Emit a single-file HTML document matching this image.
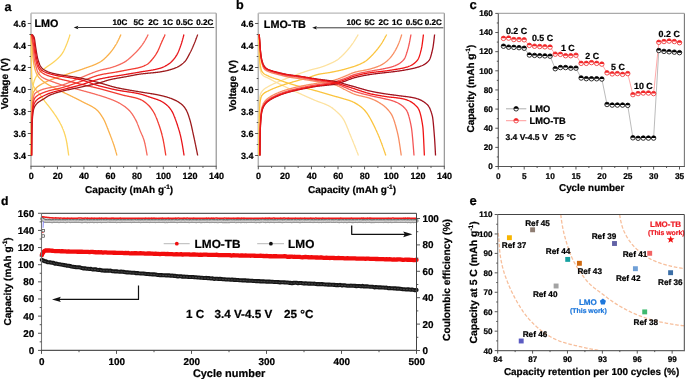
<!DOCTYPE html>
<html><head><meta charset="utf-8"><style>
html,body{margin:0;padding:0;background:#fff;}
svg{display:block;will-change:transform;}
text{font-family:"Liberation Sans", sans-serif;text-rendering:geometricPrecision;}
</style></head><body>
<svg width="685" height="379" viewBox="0 0 685 379" font-family='"Liberation Sans", sans-serif'>
<rect width="685" height="379" fill="#fff"/>
<line x1="31" y1="13.2" x2="216.2" y2="13.2" stroke="#b8b8b8" stroke-width="1.2"/>
<line x1="216.2" y1="13.2" x2="216.2" y2="166.3" stroke="#8a8a8a" stroke-width="1.1"/>
<line x1="31" y1="13.2" x2="31" y2="166.3" stroke="#b4b4b4" stroke-width="1.5"/>
<line x1="30.4" y1="166.3" x2="216.7" y2="166.3" stroke="#555" stroke-width="1.1"/>
<path d="M31.13,155.5 L31.18,146.31 L31.23,137.07 L31.26,131.91 L31.28,128.54 L31.33,121.49 L31.38,116.7 L31.39,116.14 L31.43,114.06 L31.48,111.72 L31.52,110.03 L31.53,109.54 L31.58,107.52 L31.63,105.66 L31.65,105.04 L31.68,103.95 L31.74,102.38 L31.78,101.01 L31.79,100.94 L31.84,99.62 L31.89,98.42 L31.91,97.82 L31.94,97.33 L31.99,96.34 L32.04,95.44 L32.04,95.33 L32.09,94.62 L32.14,93.89 L32.17,93.4 L32.19,93.22 L32.24,92.61 L32.29,92.06 L32.3,91.9 L32.34,91.55 L32.39,91.06 L32.43,90.64 L32.44,90.59 L32.49,90.14 L32.54,89.69 L32.56,89.48 L32.59,89.26 L32.64,88.85 L32.69,88.45 L32.69,88.42 L32.74,88.06 L32.79,87.68 L32.82,87.44 L32.84,87.32 L32.89,86.97 L32.94,86.63 L32.95,86.54 L32.99,86.3 L33.04,85.98 L33.08,85.72 L33.09,85.68 L33.14,85.38 L33.19,85.09 L33.21,84.98 L33.24,84.82 L33.29,84.55 L33.34,84.29 L33.34,84.29 L33.39,84.05 L33.44,83.81 L33.47,83.67 L33.49,83.58 L33.54,83.35 L33.59,83.14 L33.6,83.09 L33.64,82.93 L33.69,82.72 L33.73,82.57 L33.74,82.53 L33.79,82.34 L33.84,82.16 L33.86,82.09 L33.9,81.98 L33.95,81.81 L33.99,81.65 L34,81.64 L34.05,81.48 L34.1,81.32 L34.12,81.24 L34.15,81.17 L34.2,81.02 L34.25,80.87 L34.25,80.85 L34.3,80.73 L34.35,80.59 L34.38,80.49 L34.4,80.45 L34.45,80.31 L34.5,80.18 L34.51,80.13 L34.55,80.04 L34.6,79.91 L34.64,79.8 L34.65,79.78 L34.7,79.66 L34.75,79.53 L34.77,79.47 L34.8,79.41 L34.85,79.29 L34.9,79.17 L34.9,79.16 L34.95,79.05 L35,78.93 L35.03,78.85 L35.05,78.82 L35.1,78.7 L35.16,78.56 L35.29,78.28 L35.42,78.01 L35.55,77.75 L35.68,77.5 L35.81,77.26 L35.95,77.03 L36.08,76.81 L36.21,76.59 L36.34,76.38 L36.47,76.18 L36.6,75.98 L36.73,75.79 L36.86,75.61 L36.99,75.43 L37.12,75.25 L37.25,75.08 L37.38,74.92 L37.51,74.75 L37.64,74.59 L37.77,74.44 L37.9,74.28 L38.03,74.13 L38.16,73.98 L38.29,73.82 L38.42,73.68 L38.55,73.53 L38.68,73.39 L38.81,73.25 L38.94,73.11 L39.07,72.98 L39.2,72.85 L39.33,72.72 L39.46,72.59 L39.59,72.47 L39.72,72.34 L39.85,72.22 L39.98,72.1 L40.11,71.99 L40.24,71.87 L40.37,71.76 L40.5,71.65 L40.63,71.54 L40.76,71.43 L40.89,71.32 L41.02,71.22 L41.15,71.11 L41.28,71.01 L41.41,70.91 L41.54,70.81 L41.67,70.71 L41.8,70.61 L41.93,70.51 L42.06,70.41 L42.19,70.32 L42.32,70.22 L42.45,70.13 L42.58,70.03 L42.71,69.94 L42.84,69.84 L42.97,69.75 L43.1,69.66 L43.23,69.56 L43.36,69.47 L43.49,69.38 L43.62,69.28 L43.75,69.19 L43.88,69.1 L44.01,69 L44.14,68.91 L44.27,68.81 L44.4,68.72 L44.53,68.62 L44.66,68.53 L44.79,68.43 L44.92,68.33 L45.05,68.23 L45.18,68.13 L45.31,68.03 L45.44,67.93 L45.57,67.83 L45.7,67.73 L45.83,67.63 L45.96,67.54 L46.09,67.44 L46.22,67.34 L46.35,67.25 L46.48,67.15 L46.61,67.06 L46.74,66.96 L46.87,66.87 L47,66.78 L47.13,66.68 L47.26,66.59 L47.39,66.5 L47.52,66.41 L47.65,66.32 L47.78,66.23 L47.91,66.14 L48.04,66.05 L48.17,65.96 L48.3,65.87 L48.43,65.78 L48.56,65.69 L48.69,65.6 L48.82,65.51 L48.95,65.42 L49.08,65.33 L49.21,65.25 L49.34,65.16 L49.47,65.07 L49.6,64.98 L49.73,64.89 L49.86,64.8 L49.99,64.71 L50.12,64.63 L50.25,64.54 L50.38,64.45 L50.51,64.36 L50.64,64.27 L50.77,64.18 L50.9,64.09 L51.03,64 L51.16,63.91 L51.29,63.82 L51.42,63.72 L51.55,63.63 L51.68,63.54 L51.81,63.45 L51.94,63.35 L52.07,63.26 L52.2,63.17 L52.33,63.07 L52.46,62.98 L52.59,62.88 L52.72,62.78 L52.85,62.68 L52.98,62.59 L53.11,62.49 L53.24,62.39 L53.37,62.29 L53.5,62.19 L53.64,62.08 L53.77,61.98 L53.9,61.88 L54.03,61.77 L54.16,61.67 L54.29,61.56 L54.42,61.45 L54.55,61.35 L54.68,61.24 L54.81,61.12 L54.94,61.01 L55.07,60.9 L55.2,60.79 L55.33,60.68 L55.46,60.57 L55.59,60.46 L55.72,60.35 L55.85,60.24 L55.98,60.13 L56.11,60.02 L56.24,59.9 L56.37,59.79 L56.5,59.68 L56.63,59.57 L56.76,59.45 L56.89,59.34 L57.02,59.22 L57.15,59.11 L57.28,58.99 L57.41,58.88 L57.54,58.76 L57.67,58.64 L57.8,58.52 L57.93,58.4 L58.06,58.28 L58.19,58.16 L58.32,58.03 L58.45,57.91 L58.58,57.78 L58.71,57.65 L58.84,57.52 L58.97,57.39 L59.1,57.26 L59.23,57.13 L59.36,56.99 L59.44,56.9 L59.49,56.85 L59.58,56.76 L59.62,56.71 L59.71,56.62 L59.75,56.57 L59.84,56.47 L59.88,56.43 L59.98,56.32 L60.01,56.29 L60.11,56.17 L60.14,56.14 L60.25,56.02 L60.27,55.99 L60.38,55.86 L60.4,55.84 L60.51,55.71 L60.53,55.69 L60.65,55.55 L60.66,55.53 L60.78,55.39 L60.79,55.38 L60.91,55.22 L60.92,55.22 L61.05,55.06 L61.05,55.06 L61.18,54.89 L61.18,54.89 L61.31,54.72 L61.32,54.71 L61.44,54.56 L61.45,54.54 L61.57,54.38 L61.58,54.36 L61.7,54.21 L61.72,54.18 L61.83,54.03 L61.85,54 L61.96,53.85 L61.99,53.82 L62.09,53.67 L62.12,53.62 L62.22,53.48 L62.25,53.43 L62.35,53.28 L62.39,53.22 L62.48,53.08 L62.52,53.01 L62.61,52.87 L62.66,52.79 L62.74,52.65 L62.79,52.56 L62.87,52.43 L62.92,52.33 L63,52.2 L63.06,52.1 L63.13,51.97 L63.19,51.85 L63.26,51.73 L63.33,51.61 L63.39,51.49 L63.46,51.35 L63.52,51.24 L63.59,51.09 L63.65,50.98 L63.73,50.83 L63.78,50.73 L63.86,50.56 L63.91,50.46 L64,50.29 L64.04,50.2 L64.13,50.01 L64.17,49.93 L64.26,49.73 L64.3,49.65 L64.4,49.45 L64.43,49.38 L64.53,49.16 L64.56,49.09 L64.67,48.87 L64.69,48.81 L64.8,48.57 L64.82,48.52 L64.93,48.27 L64.95,48.23 L65.07,47.97 L65.08,47.94 L65.2,47.66 L65.21,47.64 L65.34,47.36 L65.34,47.34 L65.47,47.05 L65.47,47.04 L65.6,46.74 L65.6,46.74 L65.73,46.43 L65.74,46.42 L65.86,46.13 L65.87,46.11 L65.99,45.82 L66.01,45.79 L66.12,45.51 L66.14,45.47 L66.25,45.2 L66.27,45.15 L66.38,44.89 L66.41,44.83 L66.51,44.57 L66.54,44.5 L66.64,44.26 L66.68,44.18 L66.77,43.94 L66.81,43.85 L66.9,43.62 L66.94,43.52 L67.03,43.29 L67.08,43.17 L67.16,42.95 L67.21,42.83 L67.29,42.61 L67.35,42.47 L67.42,42.27 L67.48,42.12 L67.55,41.92 L67.61,41.75 L67.68,41.56 L67.75,41.39 L67.81,41.2 L67.88,41.01 L67.94,40.84 L68.01,40.64 L68.07,40.47 L68.15,40.25 L68.2,40.1 L68.28,39.87 L68.33,39.72 L68.42,39.48 L68.46,39.34 L68.55,39.08 L68.59,38.95 L68.68,38.68 L68.72,38.57 L68.82,38.28 L68.85,38.17 L68.95,37.87 L68.98,37.78 L69.09,37.46 L69.11,37.38 L69.22,37.05 L69.24,36.98 L69.35,36.63 L69.37,36.57 L69.49,36.21 L69.5,36.16 L69.62,35.79 L69.63,35.75 L69.76,35.36 L69.76,35.34 L69.89,34.93 L69.89,34.92 L70.02,34.5" fill="none" stroke="#fdd45e" stroke-width="1.3" stroke-linejoin="round" stroke-linecap="butt"/>
<path d="M31,34.5 L31.05,37.75 L31.1,40.95 L31.13,42.57 L31.15,44.1 L31.2,47.19 L31.25,50.21 L31.25,50.27 L31.3,53.22 L31.35,56.36 L31.38,58.05 L31.4,59.55 L31.45,62.68 L31.5,65.66 L31.5,65.77 L31.55,68.39 L31.6,70.78 L31.63,71.91 L31.65,72.72 L31.7,74.33 L31.75,75.86 L31.76,75.95 L31.8,77.31 L31.85,78.62 L31.88,79.3 L31.9,79.78 L31.95,80.73 L32,81.45 L32.01,81.49 L32.05,81.89 L32.11,82.16 L32.13,82.32 L32.16,82.42 L32.21,82.67 L32.26,82.91 L32.26,82.94 L32.31,83.14 L32.36,83.36 L32.39,83.49 L32.41,83.57 L32.46,83.77 L32.51,83.96 L32.51,83.98 L32.56,84.14 L32.61,84.31 L32.64,84.41 L32.66,84.47 L32.71,84.63 L32.76,84.78 L32.77,84.8 L32.81,84.92 L32.86,85.05 L32.89,85.14 L32.91,85.18 L32.96,85.31 L33.01,85.42 L33.02,85.44 L33.06,85.53 L33.11,85.64 L33.14,85.71 L33.16,85.74 L33.21,85.84 L33.26,85.93 L33.27,85.95 L33.31,86.02 L33.36,86.11 L33.4,86.16 L33.41,86.19 L33.46,86.27 L33.51,86.35 L33.52,86.36 L33.56,86.42 L33.61,86.49 L33.65,86.55 L33.66,86.57 L33.71,86.64 L33.76,86.71 L33.77,86.72 L33.81,86.78 L33.86,86.85 L33.9,86.9 L33.91,86.92 L33.96,86.99 L34.01,87.06 L34.03,87.08 L34.06,87.14 L34.11,87.21 L34.15,87.27 L34.16,87.29 L34.22,87.37 L34.27,87.45 L34.28,87.47 L34.32,87.53 L34.37,87.62 L34.4,87.68 L34.42,87.7 L34.47,87.79 L34.52,87.87 L34.53,87.89 L34.57,87.95 L34.62,88.03 L34.66,88.09 L34.67,88.1 L34.72,88.18 L34.77,88.26 L34.78,88.28 L34.82,88.33 L34.87,88.4 L34.91,88.46 L34.92,88.48 L34.97,88.55 L35.03,88.64 L35.16,88.81 L35.29,88.98 L35.41,89.14 L35.54,89.3 L35.67,89.45 L35.79,89.61 L35.92,89.75 L36.04,89.9 L36.17,90.04 L36.3,90.18 L36.42,90.33 L36.55,90.47 L36.67,90.61 L36.8,90.75 L36.93,90.89 L37.05,91.03 L37.18,91.18 L37.3,91.32 L37.43,91.48 L37.56,91.63 L37.68,91.79 L37.81,91.94 L37.94,92.1 L38.06,92.25 L38.19,92.4 L38.31,92.56 L38.44,92.71 L38.57,92.86 L38.69,93.01 L38.82,93.16 L38.94,93.31 L39.07,93.47 L39.2,93.62 L39.32,93.77 L39.45,93.92 L39.57,94.08 L39.7,94.23 L39.83,94.38 L39.95,94.54 L40.08,94.7 L40.2,94.86 L40.33,95.02 L40.46,95.18 L40.58,95.34 L40.71,95.51 L40.84,95.68 L40.96,95.85 L41.09,96.02 L41.21,96.19 L41.34,96.37 L41.47,96.55 L41.59,96.72 L41.72,96.9 L41.84,97.09 L41.97,97.27 L42.1,97.45 L42.22,97.63 L42.35,97.82 L42.47,98 L42.6,98.19 L42.73,98.37 L42.85,98.55 L42.98,98.74 L43.1,98.92 L43.23,99.1 L43.36,99.28 L43.48,99.46 L43.61,99.64 L43.74,99.82 L43.86,100 L43.99,100.17 L44.11,100.34 L44.24,100.51 L44.37,100.68 L44.49,100.85 L44.62,101.02 L44.74,101.19 L44.87,101.35 L45,101.52 L45.12,101.68 L45.25,101.84 L45.37,102 L45.5,102.16 L45.63,102.32 L45.75,102.48 L45.88,102.64 L46,102.8 L46.13,102.96 L46.26,103.12 L46.38,103.28 L46.51,103.43 L46.64,103.59 L46.76,103.75 L46.89,103.9 L47.01,104.06 L47.14,104.22 L47.27,104.37 L47.39,104.53 L47.52,104.69 L47.64,104.84 L47.77,105 L47.9,105.16 L48.02,105.31 L48.15,105.47 L48.27,105.63 L48.4,105.79 L48.53,105.94 L48.65,106.1 L48.78,106.26 L48.91,106.42 L49.03,106.58 L49.16,106.75 L49.28,106.91 L49.41,107.07 L49.54,107.24 L49.66,107.4 L49.79,107.57 L49.91,107.73 L50.04,107.9 L50.17,108.07 L50.29,108.24 L50.42,108.41 L50.54,108.58 L50.67,108.75 L50.8,108.92 L50.92,109.09 L51.05,109.25 L51.17,109.42 L51.3,109.59 L51.43,109.76 L51.55,109.93 L51.68,110.1 L51.81,110.27 L51.93,110.44 L52.06,110.61 L52.18,110.78 L52.31,110.95 L52.44,111.13 L52.56,111.3 L52.69,111.47 L52.81,111.64 L52.94,111.82 L53.07,111.99 L53.19,112.16 L53.32,112.34 L53.44,112.51 L53.57,112.69 L53.7,112.86 L53.82,113.04 L53.95,113.22 L54.07,113.4 L54.2,113.57 L54.33,113.75 L54.45,113.93 L54.58,114.12 L54.71,114.3 L54.83,114.48 L54.96,114.66 L55.08,114.85 L55.21,115.04 L55.34,115.22 L55.46,115.41 L55.59,115.6 L55.71,115.79 L55.84,115.98 L55.97,116.17 L56.09,116.36 L56.22,116.56 L56.34,116.75 L56.47,116.95 L56.6,117.15 L56.72,117.35 L56.85,117.55 L56.97,117.75 L57.1,117.95 L57.23,118.16 L57.35,118.36 L57.48,118.57 L57.61,118.77 L57.73,118.98 L57.86,119.18 L57.98,119.39 L58.11,119.6 L58.12,119.61 L58.24,119.8 L58.25,119.83 L58.36,120.01 L58.39,120.05 L58.49,120.22 L58.52,120.28 L58.61,120.43 L58.65,120.5 L58.74,120.64 L58.79,120.73 L58.87,120.86 L58.92,120.95 L58.99,121.07 L59.06,121.18 L59.12,121.29 L59.19,121.41 L59.24,121.51 L59.32,121.64 L59.37,121.72 L59.46,121.88 L59.5,121.95 L59.59,122.11 L59.62,122.17 L59.73,122.35 L59.75,122.39 L59.86,122.59 L59.88,122.62 L59.99,122.84 L60,122.85 L60.13,123.08 L60.13,123.08 L60.25,123.32 L60.26,123.33 L60.38,123.55 L60.4,123.58 L60.51,123.79 L60.53,123.84 L60.63,124.03 L60.66,124.1 L60.76,124.28 L60.8,124.36 L60.88,124.53 L60.93,124.62 L61.01,124.78 L61.07,124.89 L61.14,125.03 L61.2,125.16 L61.26,125.29 L61.33,125.44 L61.39,125.55 L61.47,125.72 L61.51,125.82 L61.6,126 L61.64,126.08 L61.74,126.29 L61.77,126.36 L61.87,126.58 L61.89,126.63 L62,126.88 L62.02,126.91 L62.14,127.18 L62.14,127.2 L62.27,127.48 L62.27,127.48 L62.4,127.77 L62.41,127.79 L62.52,128.07 L62.54,128.11 L62.65,128.37 L62.67,128.42 L62.78,128.67 L62.81,128.75 L62.9,128.97 L62.94,129.07 L63.03,129.28 L63.08,129.4 L63.15,129.6 L63.21,129.74 L63.28,129.91 L63.34,130.08 L63.41,130.24 L63.48,130.42 L63.53,130.57 L63.61,130.78 L63.66,130.9 L63.74,131.14 L63.78,131.24 L63.88,131.51 L63.91,131.59 L64.01,131.88 L64.04,131.95 L64.15,132.27 L64.16,132.31 L64.28,132.66 L64.29,132.69 L64.41,133.07 L64.41,133.07 L64.54,133.46 L64.55,133.48 L64.67,133.86 L64.68,133.91 L64.79,134.27 L64.82,134.35 L64.92,134.69 L64.95,134.79 L65.04,135.12 L65.08,135.25 L65.17,135.56 L65.22,135.73 L65.3,136.01 L65.35,136.21 L65.42,136.47 L65.49,136.71 L65.55,136.95 L65.62,137.22 L65.68,137.44 L65.75,137.75 L65.8,137.94 L65.89,138.3 L65.93,138.47 L66.02,138.88 L66.05,139.02 L66.16,139.49 L66.18,139.6 L66.29,140.13 L66.31,140.2 L66.42,140.79 L66.43,140.83 L66.56,141.49 L66.56,141.49 L66.68,142.16 L66.69,142.21 L66.81,142.87 L66.83,142.96 L66.94,143.59 L66.96,143.73 L67.06,144.33 L67.09,144.52 L67.19,145.09 L67.23,145.34 L67.31,145.88 L67.36,146.18 L67.44,146.68 L67.5,147.03 L67.57,147.5 L67.63,147.91 L67.69,148.33 L67.76,148.81 L67.82,149.18 L67.9,149.72 L67.94,150.05 L68.03,150.65 L68.07,150.93 L68.17,151.59 L68.2,151.82 L68.3,152.55 L68.32,152.72 L68.43,153.52 L68.45,153.64 L68.57,154.51 L68.58,154.56 L68.7,155.5" fill="none" stroke="#fdd45e" stroke-width="1.3" stroke-linejoin="round" stroke-linecap="butt"/>
<path d="M31.26,155.5 L31.31,146.75 L31.37,138.03 L31.42,130.02 L31.47,123.41 L31.52,118.87 L31.56,116.37 L31.57,116.3 L31.62,114 L31.67,111.86 L31.72,109.89 L31.77,108.08 L31.82,106.42 L31.86,105 L31.87,104.91 L31.92,103.55 L31.97,102.32 L32.02,101.23 L32.07,100.27 L32.12,99.43 L32.16,98.77 L32.17,98.71 L32.22,98.11 L32.27,97.61 L32.32,97.22 L32.37,96.89 L32.42,96.58 L32.46,96.31 L32.47,96.27 L32.52,95.98 L32.57,95.7 L32.62,95.43 L32.67,95.17 L32.72,94.92 L32.76,94.72 L32.77,94.68 L32.82,94.46 L32.87,94.24 L32.92,94.03 L32.97,93.82 L33.02,93.63 L33.06,93.48 L33.07,93.45 L33.12,93.27 L33.17,93.1 L33.22,92.94 L33.27,92.78 L33.32,92.63 L33.36,92.52 L33.37,92.49 L33.42,92.35 L33.47,92.22 L33.53,92.1 L33.58,91.98 L33.63,91.86 L33.66,91.78 L33.68,91.75 L33.73,91.64 L33.78,91.54 L33.83,91.44 L33.88,91.34 L33.93,91.25 L33.96,91.18 L33.98,91.16 L34.03,91.07 L34.08,90.98 L34.13,90.9 L34.18,90.81 L34.23,90.73 L34.26,90.67 L34.28,90.65 L34.33,90.56 L34.38,90.48 L34.43,90.4 L34.48,90.32 L34.53,90.24 L34.56,90.19 L34.58,90.16 L34.63,90.09 L34.68,90.01 L34.73,89.93 L34.78,89.86 L34.83,89.79 L34.86,89.74 L34.88,89.71 L34.93,89.64 L34.98,89.57 L35.03,89.5 L35.08,89.43 L35.13,89.36 L35.16,89.32 L35.18,89.29 L35.23,89.22 L35.46,88.92 L35.76,88.55 L36.06,88.2 L36.36,87.88 L36.66,87.58 L36.96,87.29 L37.26,87.03 L37.56,86.78 L37.86,86.54 L38.16,86.31 L38.46,86.1 L38.76,85.89 L39.06,85.69 L39.36,85.5 L39.66,85.31 L39.96,85.12 L40.26,84.93 L40.56,84.75 L40.86,84.57 L41.16,84.39 L41.46,84.22 L41.76,84.04 L42.06,83.87 L42.36,83.7 L42.66,83.54 L42.96,83.37 L43.26,83.21 L43.56,83.05 L43.86,82.9 L44.16,82.74 L44.46,82.59 L44.76,82.44 L45.06,82.29 L45.36,82.15 L45.66,82 L45.96,81.86 L46.26,81.72 L46.56,81.58 L46.86,81.44 L47.16,81.31 L47.46,81.18 L47.76,81.05 L48.06,80.92 L48.36,80.79 L48.66,80.66 L48.96,80.54 L49.26,80.41 L49.56,80.29 L49.86,80.17 L50.16,80.05 L50.46,79.93 L50.76,79.82 L51.06,79.7 L51.36,79.59 L51.66,79.47 L51.96,79.36 L52.26,79.25 L52.56,79.14 L52.86,79.03 L53.16,78.92 L53.46,78.82 L53.76,78.71 L54.06,78.6 L54.36,78.5 L54.66,78.39 L54.96,78.29 L55.26,78.19 L55.56,78.09 L55.86,77.99 L56.16,77.88 L56.46,77.78 L56.76,77.68 L57.06,77.58 L57.36,77.48 L57.66,77.39 L57.96,77.29 L58.26,77.19 L58.56,77.09 L58.86,76.99 L59.16,76.89 L59.46,76.8 L59.76,76.7 L60.06,76.6 L60.36,76.5 L60.66,76.4 L60.96,76.31 L61.26,76.21 L61.56,76.11 L61.86,76.01 L62.16,75.91 L62.46,75.81 L62.76,75.71 L63.06,75.61 L63.36,75.51 L63.66,75.41 L63.96,75.31 L64.26,75.2 L64.56,75.1 L64.86,75 L65.16,74.89 L65.46,74.79 L65.76,74.68 L66.06,74.57 L66.36,74.46 L66.66,74.35 L66.96,74.25 L67.26,74.14 L67.56,74.03 L67.86,73.93 L68.16,73.82 L68.46,73.72 L68.76,73.62 L69.06,73.52 L69.36,73.41 L69.66,73.31 L69.96,73.21 L70.26,73.11 L70.56,73.01 L70.86,72.92 L71.16,72.82 L71.46,72.72 L71.76,72.62 L72.06,72.52 L72.36,72.43 L72.66,72.33 L72.96,72.23 L73.26,72.14 L73.56,72.04 L73.86,71.95 L74.16,71.85 L74.46,71.76 L74.76,71.66 L75.06,71.57 L75.36,71.47 L75.66,71.37 L75.96,71.28 L76.26,71.18 L76.56,71.09 L76.86,70.99 L77.16,70.9 L77.46,70.8 L77.76,70.7 L78.06,70.61 L78.36,70.51 L78.66,70.41 L78.96,70.31 L79.26,70.21 L79.56,70.11 L79.86,70.01 L80.16,69.91 L80.46,69.81 L80.76,69.71 L81.06,69.61 L81.36,69.51 L81.66,69.4 L81.96,69.3 L82.26,69.2 L82.56,69.09 L82.86,68.98 L83.16,68.88 L83.46,68.77 L83.76,68.66 L84.06,68.55 L84.36,68.44 L84.66,68.33 L84.96,68.22 L85.26,68.11 L85.56,68.01 L85.86,67.9 L86.16,67.8 L86.46,67.69 L86.76,67.59 L87.06,67.48 L87.36,67.38 L87.66,67.27 L87.96,67.17 L88.26,67.06 L88.56,66.96 L88.86,66.86 L89.16,66.75 L89.46,66.64 L89.76,66.54 L90.06,66.43 L90.36,66.32 L90.66,66.22 L90.96,66.11 L91.26,66 L91.56,65.89 L91.86,65.77 L92.16,65.66 L92.46,65.55 L92.76,65.43 L93.06,65.32 L93.36,65.2 L93.66,65.08 L93.96,64.96 L94.26,64.83 L94.56,64.71 L94.86,64.58 L95.16,64.45 L95.46,64.32 L95.76,64.19 L96.06,64.05 L96.36,63.91 L96.66,63.77 L96.96,63.63 L97.26,63.49 L97.56,63.34 L97.86,63.19 L98.16,63.04 L98.46,62.88 L98.76,62.72 L99.06,62.56 L99.36,62.4 L99.66,62.23 L99.96,62.06 L100.26,61.88 L100.56,61.7 L100.86,61.51 L101.16,61.31 L101.46,61.1 L101.76,60.89 L102.06,60.67 L102.36,60.44 L102.66,60.21 L102.96,59.97 L103.26,59.72 L103.56,59.47 L103.86,59.21 L104.16,58.95 L104.46,58.68 L104.76,58.41 L105.06,58.13 L105.36,57.84 L105.66,57.55 L105.96,57.26 L106.26,56.97 L106.56,56.66 L106.86,56.36 L107.16,56.05 L107.46,55.74 L107.76,55.43 L108.06,55.11 L108.36,54.79 L108.66,54.47 L108.96,54.14 L109.26,53.81 L109.56,53.48 L109.86,53.14 L110.16,52.8 L110.37,52.54 L110.46,52.44 L110.51,52.38 L110.64,52.22 L110.76,52.08 L110.77,52.05 L110.91,51.89 L111.04,51.72 L111.06,51.71 L111.18,51.56 L111.31,51.39 L111.36,51.33 L111.44,51.21 L111.58,51.04 L111.66,50.94 L111.71,50.87 L111.84,50.69 L111.96,50.55 L111.98,50.51 L112.11,50.34 L112.25,50.16 L112.26,50.14 L112.38,49.97 L112.51,49.79 L112.56,49.73 L112.65,49.61 L112.78,49.42 L112.86,49.32 L112.92,49.23 L113.05,49.04 L113.16,48.89 L113.18,48.85 L113.32,48.66 L113.45,48.46 L113.46,48.46 L113.59,48.27 L113.72,48.07 L113.76,48.02 L113.85,47.87 L113.99,47.67 L114.06,47.57 L114.12,47.47 L114.26,47.27 L114.36,47.12 L114.39,47.07 L114.52,46.86 L114.66,46.66 L114.66,46.65 L114.79,46.44 L114.93,46.23 L114.95,46.19 L115.06,46.02 L115.19,45.81 L115.25,45.71 L115.33,45.6 L115.46,45.38 L115.55,45.23 L115.6,45.16 L115.73,44.94 L115.85,44.74 L115.86,44.72 L116,44.5 L116.13,44.28 L116.15,44.24 L116.27,44.05 L116.4,43.82 L116.45,43.72 L116.53,43.59 L116.67,43.35 L116.75,43.19 L116.8,43.11 L116.94,42.87 L117.05,42.65 L117.07,42.62 L117.2,42.37 L117.34,42.12 L117.35,42.09 L117.47,41.87 L117.61,41.61 L117.65,41.52 L117.74,41.35 L117.87,41.09 L117.95,40.93 L118.01,40.83 L118.14,40.56 L118.25,40.34 L118.28,40.29 L118.41,40.02 L118.54,39.75 L118.55,39.73 L118.68,39.47 L118.81,39.2 L118.85,39.11 L118.94,38.92 L119.08,38.64 L119.15,38.48 L119.21,38.35 L119.35,38.07 L119.45,37.83 L119.48,37.78 L119.61,37.49 L119.75,37.2 L119.75,37.18 L119.88,36.9 L120.02,36.61 L120.05,36.53 L120.15,36.31 L120.28,36.01 L120.35,35.86 L120.42,35.71 L120.55,35.41 L120.65,35.18 L120.69,35.11 L120.82,34.81 L120.95,34.5" fill="none" stroke="#fab04a" stroke-width="1.3" stroke-linejoin="round" stroke-linecap="butt"/>
<path d="M31,34.5 L31.05,35.03 L31.1,35.56 L31.15,36.09 L31.2,36.62 L31.25,37.14 L31.29,37.52 L31.3,37.66 L31.35,38.18 L31.4,38.7 L31.45,39.22 L31.5,39.73 L31.55,40.24 L31.58,40.46 L31.6,40.73 L31.65,41.21 L31.7,41.67 L31.75,42.13 L31.8,42.59 L31.85,43.04 L31.86,43.12 L31.9,43.5 L31.95,43.96 L32,44.43 L32.05,44.91 L32.11,45.41 L32.15,45.87 L32.16,45.92 L32.21,46.46 L32.26,47.02 L32.31,47.61 L32.36,48.24 L32.41,48.96 L32.44,49.45 L32.46,49.76 L32.51,50.61 L32.56,51.51 L32.61,52.42 L32.66,53.35 L32.71,54.26 L32.73,54.57 L32.76,55.14 L32.81,55.97 L32.86,56.74 L32.91,57.42 L32.96,58.01 L33.01,58.49 L33.01,58.53 L33.06,58.95 L33.11,59.38 L33.16,59.8 L33.21,60.2 L33.26,60.58 L33.3,60.88 L33.31,60.96 L33.36,61.31 L33.41,61.65 L33.46,61.99 L33.51,62.3 L33.56,62.61 L33.59,62.77 L33.61,62.91 L33.66,63.2 L33.71,63.47 L33.76,63.74 L33.81,64.01 L33.86,64.26 L33.88,64.32 L33.91,64.51 L33.96,64.76 L34.01,64.99 L34.06,65.23 L34.11,65.46 L34.16,65.69 L34.16,65.69 L34.22,65.92 L34.27,66.15 L34.32,66.37 L34.37,66.59 L34.42,66.81 L34.45,66.96 L34.47,67.03 L34.52,67.24 L34.57,67.45 L34.62,67.66 L34.67,67.87 L34.72,68.07 L34.74,68.16 L34.77,68.27 L34.82,68.47 L34.87,68.67 L34.92,68.86 L34.97,69.05 L35.03,69.27 L35.31,70.28 L35.6,71.21 L35.89,72.03 L36.18,72.74 L36.46,73.36 L36.75,73.94 L37.04,74.49 L37.33,75 L37.61,75.49 L37.9,75.94 L38.19,76.37 L38.48,76.77 L38.76,77.14 L39.05,77.5 L39.34,77.82 L39.63,78.13 L39.91,78.42 L40.2,78.7 L40.49,78.97 L40.78,79.23 L41.07,79.49 L41.35,79.74 L41.64,79.99 L41.93,80.24 L42.22,80.48 L42.5,80.71 L42.79,80.95 L43.08,81.17 L43.37,81.4 L43.65,81.62 L43.94,81.83 L44.23,82.04 L44.52,82.25 L44.8,82.46 L45.09,82.66 L45.38,82.86 L45.67,83.05 L45.95,83.24 L46.24,83.43 L46.53,83.62 L46.82,83.8 L47.1,83.98 L47.39,84.16 L47.68,84.33 L47.97,84.5 L48.25,84.67 L48.54,84.84 L48.83,85 L49.12,85.17 L49.4,85.33 L49.69,85.48 L49.98,85.64 L50.27,85.8 L50.56,85.95 L50.84,86.1 L51.13,86.25 L51.42,86.4 L51.71,86.55 L51.99,86.69 L52.28,86.84 L52.57,86.98 L52.86,87.13 L53.14,87.27 L53.43,87.41 L53.72,87.55 L54.01,87.7 L54.29,87.84 L54.58,87.98 L54.87,88.12 L55.16,88.26 L55.44,88.4 L55.73,88.54 L56.02,88.68 L56.31,88.82 L56.59,88.96 L56.88,89.1 L57.17,89.24 L57.46,89.38 L57.74,89.53 L58.03,89.67 L58.32,89.81 L58.61,89.96 L58.9,90.11 L59.18,90.26 L59.47,90.41 L59.76,90.56 L60.05,90.71 L60.33,90.86 L60.62,91.01 L60.91,91.15 L61.2,91.3 L61.48,91.44 L61.77,91.59 L62.06,91.73 L62.35,91.87 L62.63,92 L62.92,92.14 L63.21,92.28 L63.5,92.41 L63.78,92.55 L64.07,92.68 L64.36,92.82 L64.65,92.95 L64.93,93.09 L65.22,93.22 L65.51,93.35 L65.8,93.49 L66.08,93.62 L66.37,93.75 L66.66,93.89 L66.95,94.02 L67.23,94.15 L67.52,94.29 L67.81,94.43 L68.1,94.56 L68.39,94.7 L68.67,94.84 L68.96,94.98 L69.25,95.12 L69.54,95.26 L69.82,95.4 L70.11,95.54 L70.4,95.68 L70.69,95.82 L70.97,95.97 L71.26,96.11 L71.55,96.25 L71.84,96.39 L72.12,96.53 L72.41,96.67 L72.7,96.81 L72.99,96.95 L73.27,97.1 L73.56,97.24 L73.85,97.38 L74.14,97.52 L74.42,97.67 L74.71,97.81 L75,97.95 L75.29,98.09 L75.57,98.24 L75.86,98.38 L76.15,98.52 L76.44,98.67 L76.72,98.81 L77.01,98.96 L77.3,99.1 L77.59,99.25 L77.88,99.39 L78.16,99.54 L78.45,99.68 L78.74,99.83 L79.03,99.98 L79.31,100.12 L79.6,100.27 L79.89,100.42 L80.18,100.57 L80.46,100.71 L80.75,100.86 L81.04,101.01 L81.33,101.16 L81.61,101.31 L81.9,101.46 L82.19,101.62 L82.48,101.77 L82.76,101.92 L83.05,102.07 L83.34,102.23 L83.63,102.37 L83.91,102.52 L84.2,102.67 L84.49,102.81 L84.78,102.95 L85.06,103.09 L85.35,103.23 L85.64,103.37 L85.93,103.51 L86.21,103.65 L86.5,103.78 L86.79,103.92 L87.08,104.06 L87.37,104.19 L87.65,104.33 L87.94,104.47 L88.23,104.6 L88.52,104.74 L88.8,104.88 L89.09,105.02 L89.38,105.17 L89.67,105.31 L89.95,105.46 L90.24,105.6 L90.53,105.75 L90.82,105.91 L91.1,106.06 L91.39,106.22 L91.68,106.38 L91.97,106.54 L92.25,106.71 L92.54,106.87 L92.83,107.05 L93.12,107.22 L93.4,107.41 L93.69,107.59 L93.98,107.78 L94.27,107.97 L94.55,108.17 L94.84,108.37 L95.13,108.58 L95.42,108.79 L95.7,109.01 L95.99,109.24 L96.28,109.47 L96.57,109.7 L96.86,109.95 L97.14,110.21 L97.43,110.48 L97.72,110.77 L98.01,111.07 L98.29,111.38 L98.58,111.71 L98.87,112.05 L99.16,112.41 L99.44,112.77 L99.73,113.15 L100.02,113.53 L100.31,113.93 L100.59,114.34 L100.88,114.76 L101.17,115.19 L101.46,115.63 L101.74,116.07 L102.03,116.53 L102.32,116.99 L102.61,117.47 L102.89,117.95 L103.18,118.44 L103.47,118.93 L103.76,119.43 L104.04,119.97 L104.33,120.54 L104.62,121.13 L104.91,121.76 L105.2,122.4 L105.48,123.07 L105.77,123.76 L106.06,124.46 L106.35,125.18 L106.4,125.32 L106.54,125.66 L106.63,125.91 L106.67,126 L106.8,126.34 L106.92,126.64 L106.94,126.69 L107.07,127.03 L107.21,127.38 L107.21,127.38 L107.34,127.72 L107.47,128.07 L107.5,128.12 L107.61,128.42 L107.74,128.76 L107.78,128.87 L107.88,129.11 L108.01,129.45 L108.07,129.61 L108.14,129.79 L108.28,130.14 L108.36,130.34 L108.41,130.48 L108.55,130.82 L108.65,131.07 L108.68,131.15 L108.81,131.49 L108.93,131.79 L108.95,131.82 L109.08,132.16 L109.22,132.49 L109.22,132.51 L109.35,132.83 L109.48,133.17 L109.51,133.23 L109.62,133.5 L109.75,133.84 L109.8,133.95 L109.89,134.18 L110.02,134.52 L110.08,134.68 L110.15,134.86 L110.29,135.2 L110.37,135.41 L110.42,135.54 L110.56,135.88 L110.66,136.15 L110.69,136.23 L110.82,136.57 L110.95,136.89 L110.96,136.92 L111.09,137.27 L111.23,137.62 L111.23,137.64 L111.36,137.97 L111.49,138.33 L111.52,138.4 L111.63,138.68 L111.76,139.04 L111.81,139.17 L111.9,139.4 L112.03,139.76 L112.1,139.94 L112.16,140.13 L112.3,140.49 L112.38,140.73 L112.43,140.86 L112.57,141.23 L112.67,141.53 L112.7,141.61 L112.83,141.98 L112.96,142.34 L112.97,142.36 L113.1,142.75 L113.23,143.13 L113.25,143.17 L113.37,143.52 L113.5,143.91 L113.53,144.01 L113.64,144.31 L113.77,144.71 L113.82,144.86 L113.9,145.11 L114.04,145.52 L114.11,145.74 L114.17,145.93 L114.31,146.35 L114.4,146.64 L114.44,146.77 L114.57,147.2 L114.69,147.56 L114.71,147.63 L114.84,148.07 L114.97,148.49 L114.98,148.51 L115.11,148.95 L115.24,149.4 L115.26,149.45 L115.38,149.85 L115.51,150.3 L115.55,150.43 L115.65,150.76 L115.78,151.22 L115.84,151.41 L115.91,151.69 L116.05,152.15 L116.12,152.42 L116.18,152.63 L116.32,153.1 L116.41,153.43 L116.45,153.57 L116.58,154.05 L116.7,154.46 L116.72,154.53 L116.85,155.02 L116.99,155.5" fill="none" stroke="#fab04a" stroke-width="1.3" stroke-linejoin="round" stroke-linecap="butt"/>
<path d="M31.6,155.5 L31.65,146.53 L31.7,138.18 L31.75,131.3 L31.8,126.74 L31.85,123.7 L31.9,121.08 L31.95,118.83 L31.99,117.32 L32,116.89 L32.05,115.22 L32.1,113.77 L32.15,112.49 L32.2,111.33 L32.25,110.25 L32.3,109.23 L32.35,108.27 L32.38,107.79 L32.4,107.38 L32.45,106.54 L32.5,105.76 L32.55,105.02 L32.6,104.34 L32.65,103.71 L32.7,103.12 L32.75,102.58 L32.77,102.43 L32.8,102.07 L32.85,101.61 L32.9,101.17 L32.95,100.75 L33,100.34 L33.05,99.96 L33.1,99.59 L33.15,99.24 L33.16,99.22 L33.2,98.9 L33.25,98.59 L33.3,98.28 L33.35,98 L33.4,97.73 L33.45,97.48 L33.5,97.24 L33.55,97.06 L33.55,97.02 L33.6,96.81 L33.65,96.62 L33.71,96.43 L33.76,96.25 L33.81,96.08 L33.86,95.91 L33.91,95.74 L33.94,95.65 L33.96,95.58 L34.01,95.43 L34.06,95.28 L34.11,95.14 L34.16,95 L34.21,94.87 L34.26,94.74 L34.31,94.62 L34.33,94.58 L34.36,94.51 L34.41,94.4 L34.46,94.3 L34.51,94.21 L34.56,94.12 L34.61,94.04 L34.66,93.96 L34.71,93.89 L34.72,93.89 L34.76,93.83 L34.81,93.76 L34.86,93.7 L34.91,93.64 L34.96,93.58 L35.01,93.52 L35.06,93.46 L35.11,93.42 L35.11,93.41 L35.16,93.35 L35.21,93.3 L35.26,93.25 L35.31,93.2 L35.36,93.15 L35.41,93.1 L35.46,93.05 L35.5,93.02 L35.51,93.01 L35.56,92.96 L35.89,92.69 L36.28,92.41 L36.67,92.17 L37.06,91.94 L37.45,91.72 L37.84,91.5 L38.23,91.29 L38.62,91.09 L39.01,90.9 L39.4,90.71 L39.79,90.54 L40.18,90.37 L40.57,90.2 L40.96,90.04 L41.35,89.89 L41.74,89.75 L42.13,89.61 L42.52,89.48 L42.91,89.35 L43.3,89.22 L43.69,89.1 L44.08,88.99 L44.47,88.88 L44.86,88.78 L45.25,88.68 L45.64,88.58 L46.03,88.49 L46.42,88.4 L46.81,88.31 L47.2,88.23 L47.59,88.15 L47.98,88.06 L48.37,87.98 L48.76,87.9 L49.15,87.82 L49.54,87.74 L49.93,87.65 L50.32,87.57 L50.71,87.5 L51.1,87.42 L51.49,87.35 L51.88,87.27 L52.27,87.2 L52.66,87.13 L53.05,87.06 L53.44,86.99 L53.83,86.92 L54.22,86.85 L54.61,86.78 L55,86.71 L55.39,86.64 L55.78,86.57 L56.17,86.5 L56.56,86.42 L56.95,86.35 L57.34,86.27 L57.73,86.19 L58.12,86.11 L58.51,86.03 L58.9,85.94 L59.29,85.85 L59.68,85.76 L60.07,85.66 L60.46,85.56 L60.85,85.45 L61.24,85.35 L61.63,85.23 L62.02,85.12 L62.41,85 L62.8,84.88 L63.19,84.75 L63.58,84.62 L63.97,84.49 L64.36,84.35 L64.75,84.21 L65.14,84.07 L65.53,83.93 L65.92,83.78 L66.31,83.63 L66.7,83.48 L67.09,83.33 L67.48,83.18 L67.87,83.02 L68.26,82.86 L68.65,82.7 L69.04,82.54 L69.43,82.38 L69.82,82.22 L70.21,82.05 L70.6,81.89 L70.99,81.72 L71.38,81.55 L71.77,81.38 L72.16,81.22 L72.55,81.05 L72.94,80.88 L73.33,80.71 L73.72,80.54 L74.11,80.37 L74.5,80.2 L74.89,80.04 L75.28,79.87 L75.67,79.7 L76.06,79.54 L76.45,79.37 L76.84,79.21 L77.23,79.04 L77.62,78.88 L78.01,78.72 L78.4,78.56 L78.79,78.41 L79.18,78.25 L79.57,78.1 L79.96,77.95 L80.35,77.8 L80.74,77.64 L81.13,77.49 L81.52,77.33 L81.91,77.18 L82.3,77.02 L82.69,76.86 L83.08,76.71 L83.47,76.55 L83.86,76.39 L84.25,76.23 L84.64,76.07 L85.03,75.91 L85.42,75.74 L85.81,75.58 L86.2,75.42 L86.59,75.26 L86.98,75.1 L87.37,74.94 L87.76,74.77 L88.15,74.61 L88.54,74.45 L88.93,74.29 L89.32,74.13 L89.71,73.97 L90.1,73.81 L90.49,73.66 L90.88,73.5 L91.27,73.34 L91.66,73.19 L92.05,73.03 L92.44,72.88 L92.83,72.73 L93.22,72.58 L93.61,72.43 L94,72.28 L94.39,72.14 L94.78,71.99 L95.17,71.85 L95.56,71.71 L95.95,71.57 L96.34,71.44 L96.73,71.3 L97.12,71.17 L97.51,71.04 L97.9,70.91 L98.29,70.79 L98.68,70.66 L99.07,70.54 L99.46,70.43 L99.85,70.31 L100.24,70.2 L100.63,70.09 L101.02,69.99 L101.41,69.89 L101.8,69.79 L102.19,69.69 L102.58,69.6 L102.97,69.51 L103.36,69.43 L103.75,69.34 L104.14,69.25 L104.53,69.17 L104.92,69.09 L105.31,69.01 L105.7,68.92 L106.09,68.84 L106.48,68.75 L106.87,68.67 L107.26,68.58 L107.65,68.49 L108.04,68.4 L108.43,68.31 L108.82,68.21 L109.21,68.12 L109.6,68.01 L109.99,67.91 L110.38,67.8 L110.77,67.68 L111.16,67.56 L111.55,67.45 L111.94,67.33 L112.33,67.21 L112.72,67.08 L113.11,66.96 L113.5,66.83 L113.89,66.7 L114.28,66.57 L114.67,66.44 L115.06,66.3 L115.45,66.16 L115.84,66.02 L116.23,65.88 L116.62,65.73 L117.01,65.58 L117.4,65.43 L117.79,65.28 L118.18,65.12 L118.57,64.96 L118.96,64.8 L119.35,64.63 L119.74,64.46 L120.13,64.29 L120.52,64.11 L120.91,63.93 L121.3,63.75 L121.69,63.56 L122.08,63.37 L122.47,63.17 L122.86,62.98 L123.25,62.77 L123.64,62.56 L124.03,62.35 L124.42,62.13 L124.81,61.89 L125.2,61.65 L125.59,61.4 L125.98,61.13 L126.37,60.86 L126.76,60.57 L127.15,60.28 L127.54,59.98 L127.93,59.67 L128.32,59.36 L128.71,59.03 L129.1,58.7 L129.49,58.37 L129.88,58.03 L130.27,57.68 L130.66,57.33 L131.05,56.98 L131.44,56.62 L131.83,56.25 L132.22,55.89 L132.61,55.52 L133,55.15 L133.39,54.77 L133.78,54.4 L134.17,54.02 L134.56,53.65 L134.95,53.27 L135.34,52.88 L135.73,52.49 L136.12,52.09 L136.51,51.69 L136.9,51.28 L137.29,50.86 L137.62,50.5 L137.68,50.44 L137.76,50.35 L137.89,50.2 L138.02,50.06 L138.07,50.01 L138.16,49.91 L138.29,49.75 L138.43,49.6 L138.46,49.57 L138.56,49.45 L138.69,49.3 L138.83,49.14 L138.85,49.12 L138.96,48.99 L139.1,48.83 L139.23,48.67 L139.24,48.67 L139.36,48.51 L139.5,48.35 L139.63,48.2 L139.63,48.19 L139.77,48.03 L139.9,47.87 L140.02,47.73 L140.03,47.7 L140.17,47.54 L140.3,47.37 L140.41,47.24 L140.44,47.2 L140.57,47.04 L140.7,46.87 L140.8,46.75 L140.84,46.69 L140.97,46.52 L141.11,46.35 L141.19,46.24 L141.24,46.17 L141.37,46 L141.51,45.82 L141.58,45.73 L141.64,45.64 L141.78,45.46 L141.91,45.28 L141.97,45.2 L142.04,45.09 L142.18,44.91 L142.31,44.72 L142.36,44.66 L142.44,44.54 L142.58,44.35 L142.71,44.15 L142.75,44.11 L142.85,43.96 L142.98,43.76 L143.11,43.56 L143.14,43.53 L143.25,43.36 L143.38,43.15 L143.52,42.95 L143.53,42.93 L143.65,42.74 L143.78,42.52 L143.92,42.31 L143.92,42.31 L144.05,42.09 L144.19,41.87 L144.31,41.68 L144.32,41.65 L144.45,41.43 L144.59,41.21 L144.7,41.03 L144.72,40.98 L144.86,40.75 L144.99,40.52 L145.09,40.36 L145.12,40.29 L145.26,40.05 L145.39,39.82 L145.48,39.67 L145.53,39.58 L145.66,39.34 L145.79,39.1 L145.87,38.97 L145.93,38.85 L146.06,38.61 L146.2,38.36 L146.26,38.25 L146.33,38.11 L146.46,37.86 L146.6,37.61 L146.65,37.52 L146.73,37.36 L146.87,37.11 L147,36.85 L147.04,36.78 L147.13,36.6 L147.27,36.34 L147.4,36.08 L147.43,36.03 L147.54,35.82 L147.67,35.56 L147.8,35.29 L147.82,35.27 L147.94,35.03 L148.07,34.77 L148.21,34.5" fill="none" stroke="#f66a5e" stroke-width="1.3" stroke-linejoin="round" stroke-linecap="butt"/>
<path d="M31.4,34.5 L31.45,34.93 L31.5,35.36 L31.55,35.79 L31.6,36.22 L31.65,36.64 L31.7,37.05 L31.75,37.45 L31.78,37.73 L31.8,37.84 L31.85,38.22 L31.9,38.58 L31.95,38.94 L32,39.29 L32.05,39.63 L32.1,39.97 L32.15,40.29 L32.17,40.43 L32.2,40.62 L32.25,40.93 L32.3,41.25 L32.35,41.56 L32.4,41.87 L32.45,42.19 L32.5,42.5 L32.55,42.81 L32.56,42.85 L32.6,43.13 L32.65,43.44 L32.7,43.77 L32.75,44.09 L32.8,44.43 L32.85,44.77 L32.9,45.12 L32.95,45.41 L32.95,45.48 L33,45.85 L33.05,46.23 L33.1,46.62 L33.16,47.02 L33.21,47.44 L33.26,47.87 L33.31,48.34 L33.33,48.61 L33.36,48.85 L33.41,49.4 L33.46,49.99 L33.51,50.6 L33.56,51.23 L33.61,51.88 L33.66,52.53 L33.71,53.19 L33.72,53.35 L33.76,53.84 L33.81,54.48 L33.86,55.11 L33.91,55.71 L33.96,56.28 L34.01,56.82 L34.06,57.31 L34.11,57.74 L34.11,57.76 L34.16,58.15 L34.21,58.5 L34.26,58.83 L34.31,59.16 L34.36,59.47 L34.41,59.78 L34.46,60.07 L34.49,60.26 L34.51,60.36 L34.56,60.64 L34.61,60.91 L34.66,61.18 L34.71,61.43 L34.76,61.68 L34.81,61.93 L34.86,62.17 L34.88,62.25 L34.91,62.4 L34.96,62.62 L35.01,62.84 L35.06,63.06 L35.11,63.27 L35.16,63.48 L35.21,63.68 L35.26,63.88 L35.27,63.89 L35.32,64.08 L35.37,64.27 L35.66,65.35 L36.04,66.75 L36.43,68.11 L36.82,69.4 L37.2,70.57 L37.59,71.61 L37.98,72.47 L38.37,73.14 L38.75,73.71 L39.14,74.23 L39.53,74.71 L39.91,75.16 L40.3,75.56 L40.69,75.94 L41.07,76.29 L41.46,76.61 L41.85,76.9 L42.24,77.18 L42.62,77.44 L43.01,77.69 L43.4,77.92 L43.78,78.14 L44.17,78.36 L44.56,78.56 L44.95,78.76 L45.33,78.94 L45.72,79.12 L46.11,79.3 L46.49,79.46 L46.88,79.62 L47.27,79.78 L47.66,79.93 L48.04,80.08 L48.43,80.22 L48.82,80.36 L49.2,80.5 L49.59,80.64 L49.98,80.78 L50.37,80.92 L50.75,81.06 L51.14,81.2 L51.53,81.34 L51.91,81.48 L52.3,81.63 L52.69,81.78 L53.08,81.92 L53.46,82.07 L53.85,82.21 L54.24,82.36 L54.62,82.5 L55.01,82.64 L55.4,82.78 L55.79,82.92 L56.17,83.05 L56.56,83.19 L56.95,83.33 L57.33,83.46 L57.72,83.6 L58.11,83.73 L58.5,83.86 L58.88,83.99 L59.27,84.12 L59.66,84.25 L60.04,84.38 L60.43,84.5 L60.82,84.63 L61.21,84.75 L61.59,84.88 L61.98,85 L62.37,85.12 L62.75,85.24 L63.14,85.36 L63.53,85.48 L63.92,85.6 L64.3,85.72 L64.69,85.84 L65.08,85.95 L65.46,86.06 L65.85,86.18 L66.24,86.29 L66.63,86.4 L67.01,86.51 L67.4,86.61 L67.79,86.72 L68.17,86.83 L68.56,86.93 L68.95,87.04 L69.33,87.14 L69.72,87.25 L70.11,87.35 L70.5,87.45 L70.88,87.55 L71.27,87.66 L71.66,87.76 L72.04,87.86 L72.43,87.96 L72.82,88.06 L73.21,88.16 L73.59,88.26 L73.98,88.36 L74.37,88.46 L74.75,88.56 L75.14,88.66 L75.53,88.76 L75.92,88.86 L76.3,88.96 L76.69,89.06 L77.08,89.17 L77.46,89.27 L77.85,89.37 L78.24,89.48 L78.63,89.58 L79.01,89.68 L79.4,89.79 L79.79,89.9 L80.17,90 L80.56,90.11 L80.95,90.22 L81.34,90.32 L81.72,90.43 L82.11,90.53 L82.5,90.64 L82.88,90.75 L83.27,90.85 L83.66,90.96 L84.05,91.06 L84.43,91.17 L84.82,91.27 L85.21,91.38 L85.59,91.48 L85.98,91.59 L86.37,91.69 L86.76,91.8 L87.14,91.9 L87.53,92.01 L87.92,92.11 L88.3,92.22 L88.69,92.32 L89.08,92.43 L89.47,92.54 L89.85,92.64 L90.24,92.75 L90.63,92.86 L91.01,92.97 L91.4,93.07 L91.79,93.18 L92.18,93.29 L92.56,93.4 L92.95,93.51 L93.34,93.62 L93.72,93.73 L94.11,93.85 L94.5,93.96 L94.89,94.07 L95.27,94.19 L95.66,94.3 L96.05,94.42 L96.43,94.53 L96.82,94.65 L97.21,94.77 L97.6,94.89 L97.98,95 L98.37,95.13 L98.76,95.25 L99.14,95.37 L99.53,95.49 L99.92,95.62 L100.3,95.74 L100.69,95.87 L101.08,95.99 L101.47,96.11 L101.85,96.24 L102.24,96.36 L102.63,96.49 L103.01,96.61 L103.4,96.73 L103.79,96.86 L104.18,96.98 L104.56,97.11 L104.95,97.23 L105.34,97.36 L105.72,97.49 L106.11,97.61 L106.5,97.74 L106.89,97.87 L107.27,98 L107.66,98.14 L108.05,98.27 L108.43,98.4 L108.82,98.54 L109.21,98.68 L109.6,98.82 L109.98,98.96 L110.37,99.1 L110.76,99.25 L111.14,99.39 L111.53,99.54 L111.92,99.69 L112.31,99.85 L112.69,100 L113.08,100.16 L113.47,100.32 L113.85,100.48 L114.24,100.65 L114.63,100.82 L115.02,100.99 L115.4,101.16 L115.79,101.34 L116.18,101.52 L116.56,101.71 L116.95,101.89 L117.34,102.08 L117.73,102.28 L118.11,102.48 L118.5,102.68 L118.89,102.88 L119.27,103.09 L119.66,103.3 L120.05,103.52 L120.44,103.74 L120.82,103.97 L121.21,104.2 L121.6,104.44 L121.98,104.68 L122.37,104.93 L122.76,105.18 L123.15,105.44 L123.53,105.71 L123.92,105.98 L124.31,106.26 L124.69,106.55 L125.08,106.84 L125.47,107.14 L125.86,107.44 L126.24,107.76 L126.63,108.08 L127.02,108.41 L127.4,108.75 L127.79,109.09 L128.18,109.45 L128.56,109.81 L128.95,110.18 L129.34,110.56 L129.73,110.96 L130.11,111.39 L130.5,111.84 L130.89,112.32 L131.27,112.82 L131.66,113.34 L132.05,113.88 L132.44,114.45 L132.82,115.04 L133.21,115.64 L133.6,116.27 L133.98,116.91 L134.37,117.58 L134.76,118.25 L135.15,118.95 L135.53,119.66 L135.92,120.38 L136.31,121.12 L136.56,121.65 L136.69,121.93 L136.7,121.94 L136.83,122.23 L136.97,122.53 L137.08,122.8 L137.1,122.84 L137.23,123.16 L137.37,123.48 L137.47,123.73 L137.5,123.81 L137.64,124.14 L137.77,124.48 L137.86,124.7 L137.9,124.82 L138.04,125.17 L138.17,125.51 L138.24,125.7 L138.31,125.86 L138.44,126.22 L138.57,126.57 L138.63,126.72 L138.71,126.92 L138.84,127.28 L138.98,127.64 L139.02,127.75 L139.11,127.99 L139.24,128.34 L139.38,128.7 L139.4,128.77 L139.51,129.05 L139.65,129.39 L139.78,129.74 L139.79,129.77 L139.91,130.08 L140.05,130.42 L140.18,130.75 L140.18,130.75 L140.31,131.08 L140.45,131.4 L140.57,131.67 L140.58,131.71 L140.72,132.02 L140.85,132.33 L140.95,132.56 L140.98,132.63 L141.12,132.93 L141.25,133.22 L141.34,133.42 L141.39,133.52 L141.52,133.81 L141.65,134.11 L141.73,134.27 L141.79,134.41 L141.92,134.71 L142.06,135.01 L142.11,135.14 L142.19,135.32 L142.32,135.63 L142.46,135.94 L142.5,136.04 L142.59,136.26 L142.73,136.59 L142.86,136.93 L142.89,137 L142.99,137.27 L143.13,137.62 L143.26,137.99 L143.28,138.02 L143.4,138.36 L143.53,138.74 L143.66,139.14 L143.66,139.14 L143.8,139.55 L143.93,139.97 L144.05,140.36 L144.07,140.41 L144.2,140.87 L144.33,141.35 L144.44,141.73 L144.47,141.85 L144.6,142.37 L144.74,142.92 L144.82,143.29 L144.87,143.48 L145,144.07 L145.14,144.67 L145.21,145.02 L145.27,145.3 L145.41,145.94 L145.54,146.6 L145.6,146.89 L145.67,147.27 L145.81,147.96 L145.94,148.66 L145.99,148.9 L146.08,149.38 L146.21,150.11 L146.34,150.85 L146.37,151.01 L146.48,151.6 L146.61,152.36 L146.74,153.13 L146.76,153.22 L146.88,153.91 L147.01,154.7 L147.15,155.5" fill="none" stroke="#f66a5e" stroke-width="1.3" stroke-linejoin="round" stroke-linecap="butt"/>
<path d="M31.6,155.5 L31.65,147.16 L31.7,139.41 L31.75,133.07 L31.8,128.96 L31.85,126.33 L31.9,124.1 L31.95,122.2 L32,120.58 L32.04,119.32 L32.05,119.18 L32.1,117.94 L32.15,116.82 L32.2,115.74 L32.25,114.7 L32.3,113.71 L32.35,112.78 L32.4,111.89 L32.45,111.05 L32.49,110.42 L32.5,110.25 L32.55,109.51 L32.6,108.81 L32.65,108.16 L32.7,107.55 L32.75,106.99 L32.8,106.48 L32.85,106.01 L32.9,105.57 L32.94,105.28 L32.95,105.15 L33,104.74 L33.05,104.36 L33.1,103.99 L33.15,103.64 L33.2,103.3 L33.25,102.99 L33.3,102.68 L33.35,102.4 L33.38,102.25 L33.4,102.13 L33.45,101.88 L33.5,101.64 L33.55,101.42 L33.6,101.21 L33.65,101.02 L33.71,100.83 L33.76,100.65 L33.81,100.48 L33.83,100.4 L33.86,100.31 L33.91,100.15 L33.96,100 L34.01,99.85 L34.06,99.7 L34.11,99.56 L34.16,99.43 L34.21,99.3 L34.26,99.18 L34.28,99.14 L34.31,99.06 L34.36,98.95 L34.41,98.84 L34.46,98.73 L34.51,98.64 L34.56,98.54 L34.61,98.45 L34.66,98.37 L34.71,98.29 L34.72,98.27 L34.76,98.21 L34.81,98.14 L34.86,98.07 L34.91,97.99 L34.96,97.92 L35.01,97.85 L35.06,97.79 L35.11,97.72 L35.16,97.65 L35.17,97.64 L35.21,97.59 L35.26,97.52 L35.31,97.46 L35.36,97.4 L35.41,97.34 L35.46,97.28 L35.51,97.22 L35.56,97.17 L35.61,97.11 L36.06,96.66 L36.51,96.27 L36.95,95.92 L37.4,95.61 L37.85,95.31 L38.29,95.03 L38.74,94.76 L39.19,94.51 L39.63,94.28 L40.08,94.05 L40.53,93.84 L40.97,93.64 L41.42,93.44 L41.87,93.25 L42.31,93.07 L42.76,92.89 L43.21,92.71 L43.65,92.54 L44.1,92.37 L44.55,92.2 L44.99,92.03 L45.44,91.87 L45.89,91.72 L46.33,91.57 L46.78,91.42 L47.23,91.28 L47.67,91.14 L48.12,91 L48.57,90.87 L49.01,90.74 L49.46,90.62 L49.91,90.5 L50.35,90.38 L50.8,90.27 L51.25,90.16 L51.69,90.05 L52.14,89.95 L52.59,89.85 L53.03,89.75 L53.48,89.65 L53.93,89.56 L54.37,89.47 L54.82,89.37 L55.27,89.28 L55.71,89.19 L56.16,89.09 L56.61,89 L57.05,88.9 L57.5,88.8 L57.95,88.7 L58.39,88.6 L58.84,88.5 L59.29,88.39 L59.73,88.28 L60.18,88.16 L60.63,88.04 L61.07,87.92 L61.52,87.8 L61.97,87.67 L62.41,87.55 L62.86,87.42 L63.31,87.29 L63.75,87.16 L64.2,87.02 L64.65,86.89 L65.09,86.75 L65.54,86.61 L65.99,86.47 L66.43,86.33 L66.88,86.19 L67.33,86.05 L67.77,85.9 L68.22,85.76 L68.67,85.61 L69.11,85.47 L69.56,85.32 L70.01,85.17 L70.45,85.02 L70.9,84.87 L71.35,84.72 L71.79,84.57 L72.24,84.42 L72.69,84.27 L73.13,84.11 L73.58,83.96 L74.03,83.81 L74.47,83.66 L74.92,83.5 L75.37,83.35 L75.81,83.2 L76.26,83.05 L76.7,82.89 L77.15,82.74 L77.6,82.59 L78.04,82.44 L78.49,82.29 L78.94,82.14 L79.38,81.99 L79.83,81.84 L80.28,81.69 L80.72,81.54 L81.17,81.38 L81.62,81.23 L82.06,81.07 L82.51,80.91 L82.96,80.74 L83.4,80.58 L83.85,80.41 L84.3,80.25 L84.74,80.08 L85.19,79.91 L85.64,79.74 L86.08,79.57 L86.53,79.4 L86.98,79.23 L87.42,79.06 L87.87,78.89 L88.32,78.72 L88.76,78.55 L89.21,78.38 L89.66,78.21 L90.1,78.04 L90.55,77.87 L91,77.71 L91.44,77.54 L91.89,77.38 L92.34,77.22 L92.78,77.06 L93.23,76.9 L93.68,76.74 L94.12,76.59 L94.57,76.44 L95.02,76.29 L95.46,76.15 L95.91,76.01 L96.36,75.87 L96.8,75.73 L97.25,75.6 L97.7,75.48 L98.14,75.35 L98.59,75.23 L99.04,75.12 L99.48,75.01 L99.93,74.9 L100.38,74.8 L100.82,74.7 L101.27,74.6 L101.72,74.51 L102.16,74.41 L102.61,74.32 L103.06,74.23 L103.5,74.15 L103.95,74.06 L104.4,73.98 L104.84,73.9 L105.29,73.82 L105.74,73.75 L106.18,73.67 L106.63,73.59 L107.08,73.52 L107.52,73.45 L107.97,73.37 L108.42,73.3 L108.86,73.23 L109.31,73.16 L109.76,73.09 L110.2,73.02 L110.65,72.95 L111.1,72.88 L111.54,72.81 L111.99,72.74 L112.44,72.67 L112.88,72.6 L113.33,72.52 L113.78,72.45 L114.22,72.38 L114.67,72.3 L115.12,72.23 L115.56,72.15 L116.01,72.08 L116.46,72 L116.9,71.92 L117.35,71.83 L117.79,71.75 L118.24,71.67 L118.69,71.59 L119.13,71.5 L119.58,71.42 L120.03,71.33 L120.47,71.25 L120.92,71.17 L121.37,71.08 L121.81,71 L122.26,70.91 L122.71,70.83 L123.15,70.74 L123.6,70.66 L124.05,70.57 L124.49,70.48 L124.94,70.4 L125.39,70.31 L125.83,70.22 L126.28,70.14 L126.73,70.05 L127.17,69.97 L127.62,69.88 L128.07,69.79 L128.51,69.71 L128.96,69.62 L129.41,69.53 L129.85,69.45 L130.3,69.36 L130.75,69.28 L131.19,69.2 L131.64,69.12 L132.09,69.04 L132.53,68.97 L132.98,68.89 L133.43,68.81 L133.87,68.73 L134.32,68.65 L134.77,68.57 L135.21,68.49 L135.66,68.4 L136.11,68.31 L136.55,68.22 L137,68.12 L137.45,68.02 L137.89,67.92 L138.34,67.81 L138.79,67.69 L139.23,67.57 L139.68,67.45 L140.13,67.32 L140.57,67.18 L141.02,67.04 L141.47,66.9 L141.91,66.74 L142.36,66.58 L142.81,66.42 L143.25,66.24 L143.7,66.06 L144.15,65.87 L144.59,65.67 L145.04,65.46 L145.49,65.24 L145.93,65.02 L146.38,64.78 L146.83,64.53 L147.27,64.26 L147.72,63.96 L148.17,63.62 L148.61,63.25 L149.06,62.85 L149.51,62.42 L149.95,61.96 L150.4,61.49 L150.85,60.99 L151.29,60.48 L151.74,59.96 L152.19,59.43 L152.63,58.89 L153.08,58.34 L153.53,57.78 L153.97,57.2 L154.42,56.58 L154.55,56.39 L154.69,56.2 L154.82,56 L154.87,55.94 L154.96,55.81 L155.09,55.61 L155.22,55.41 L155.31,55.28 L155.36,55.21 L155.49,55 L155.63,54.79 L155.76,54.58 L155.76,54.58 L155.89,54.37 L156.03,54.15 L156.16,53.93 L156.21,53.86 L156.3,53.71 L156.43,53.49 L156.56,53.26 L156.65,53.12 L156.7,53.04 L156.83,52.81 L156.97,52.57 L157.1,52.34 L157.1,52.34 L157.23,52.1 L157.37,51.86 L157.5,51.61 L157.55,51.54 L157.64,51.37 L157.77,51.12 L157.9,50.85 L157.99,50.68 L158.04,50.58 L158.17,50.31 L158.31,50.02 L158.44,49.74 L158.44,49.73 L158.57,49.44 L158.71,49.14 L158.84,48.83 L158.88,48.73 L158.98,48.52 L159.11,48.2 L159.24,47.89 L159.33,47.68 L159.38,47.57 L159.51,47.24 L159.65,46.92 L159.78,46.6 L159.78,46.59 L159.91,46.27 L160.05,45.94 L160.18,45.62 L160.22,45.51 L160.32,45.29 L160.45,44.97 L160.58,44.64 L160.67,44.43 L160.72,44.32 L160.85,44.01 L160.98,43.69 L161.12,43.39 L161.12,43.38 L161.25,43.08 L161.39,42.78 L161.52,42.48 L161.56,42.38 L161.65,42.18 L161.79,41.88 L161.92,41.58 L162.01,41.38 L162.06,41.28 L162.19,40.98 L162.32,40.68 L162.46,40.38 L162.46,40.38 L162.59,40.09 L162.73,39.79 L162.86,39.49 L162.9,39.39 L162.99,39.19 L163.13,38.9 L163.26,38.6 L163.35,38.41 L163.4,38.31 L163.53,38.01 L163.66,37.72 L163.8,37.42 L163.8,37.42 L163.93,37.13 L164.07,36.84 L164.2,36.54 L164.24,36.44 L164.33,36.25 L164.47,35.96 L164.6,35.66 L164.69,35.47 L164.74,35.37 L164.87,35.08 L165,34.79 L165.14,34.5" fill="none" stroke="#f23a30" stroke-width="1.3" stroke-linejoin="round" stroke-linecap="butt"/>
<path d="M31.46,34.5 L31.51,34.66 L31.56,34.83 L31.61,35 L31.66,35.18 L31.71,35.35 L31.76,35.54 L31.81,35.72 L31.86,35.91 L31.91,36.1 L31.92,36.11 L31.97,36.31 L32.02,36.52 L32.07,36.73 L32.12,36.95 L32.17,37.17 L32.22,37.4 L32.27,37.64 L32.32,37.87 L32.36,38.09 L32.37,38.11 L32.42,38.36 L32.47,38.61 L32.52,38.86 L32.57,39.12 L32.62,39.38 L32.67,39.64 L32.72,39.91 L32.77,40.18 L32.81,40.41 L32.82,40.45 L32.87,40.73 L32.92,41.01 L32.97,41.29 L33.02,41.58 L33.07,41.87 L33.12,42.16 L33.17,42.45 L33.22,42.74 L33.26,42.97 L33.27,43.04 L33.32,43.34 L33.37,43.64 L33.42,43.95 L33.47,44.25 L33.52,44.56 L33.57,44.87 L33.62,45.18 L33.67,45.49 L33.71,45.71 L33.72,45.8 L33.77,46.12 L33.82,46.43 L33.87,46.75 L33.92,47.06 L33.97,47.38 L34.02,47.7 L34.08,48.02 L34.13,48.35 L34.16,48.58 L34.18,48.69 L34.23,49.05 L34.28,49.41 L34.33,49.78 L34.38,50.16 L34.43,50.54 L34.48,50.93 L34.53,51.32 L34.58,51.71 L34.61,51.95 L34.63,52.11 L34.68,52.51 L34.73,52.91 L34.78,53.3 L34.83,53.7 L34.88,54.09 L34.93,54.47 L34.98,54.86 L35.03,55.23 L35.06,55.44 L35.08,55.6 L35.13,55.96 L35.18,56.31 L35.23,56.66 L35.28,56.99 L35.33,57.3 L35.38,57.61 L35.43,57.9 L35.51,58.31 L35.96,60.54 L36.41,62.54 L36.85,64.24 L37.3,65.62 L37.75,66.74 L38.2,67.75 L38.65,68.65 L39.1,69.45 L39.55,70.15 L40,70.73 L40.45,71.21 L40.9,71.65 L41.35,72.05 L41.8,72.42 L42.25,72.76 L42.7,73.08 L43.14,73.37 L43.59,73.64 L44.04,73.9 L44.49,74.13 L44.94,74.36 L45.39,74.58 L45.84,74.78 L46.29,74.98 L46.74,75.17 L47.19,75.35 L47.64,75.52 L48.09,75.69 L48.54,75.85 L48.99,76.01 L49.43,76.16 L49.88,76.3 L50.33,76.44 L50.78,76.58 L51.23,76.71 L51.68,76.85 L52.13,76.98 L52.58,77.1 L53.03,77.23 L53.48,77.35 L53.93,77.48 L54.38,77.61 L54.83,77.73 L55.28,77.86 L55.72,77.98 L56.17,78.11 L56.62,78.23 L57.07,78.35 L57.52,78.46 L57.97,78.58 L58.42,78.69 L58.87,78.8 L59.32,78.91 L59.77,79.02 L60.22,79.13 L60.67,79.23 L61.12,79.34 L61.57,79.45 L62.01,79.55 L62.46,79.65 L62.91,79.76 L63.36,79.86 L63.81,79.96 L64.26,80.06 L64.71,80.17 L65.16,80.27 L65.61,80.37 L66.06,80.47 L66.51,80.58 L66.96,80.68 L67.41,80.79 L67.86,80.89 L68.3,81 L68.75,81.11 L69.2,81.21 L69.65,81.32 L70.1,81.43 L70.55,81.55 L71,81.66 L71.45,81.77 L71.9,81.89 L72.35,82.01 L72.8,82.12 L73.25,82.24 L73.7,82.36 L74.15,82.48 L74.59,82.6 L75.04,82.72 L75.49,82.84 L75.94,82.96 L76.39,83.08 L76.84,83.2 L77.29,83.32 L77.74,83.43 L78.19,83.55 L78.64,83.67 L79.09,83.78 L79.54,83.9 L79.99,84.01 L80.44,84.12 L80.88,84.23 L81.33,84.34 L81.78,84.45 L82.23,84.56 L82.68,84.67 L83.13,84.78 L83.58,84.88 L84.03,84.99 L84.48,85.1 L84.93,85.2 L85.38,85.31 L85.83,85.41 L86.28,85.51 L86.73,85.62 L87.17,85.72 L87.62,85.83 L88.07,85.93 L88.52,86.03 L88.97,86.14 L89.42,86.24 L89.87,86.34 L90.32,86.45 L90.77,86.55 L91.22,86.65 L91.67,86.76 L92.12,86.86 L92.57,86.97 L93.02,87.07 L93.46,87.18 L93.91,87.29 L94.36,87.39 L94.81,87.5 L95.26,87.61 L95.71,87.72 L96.16,87.83 L96.61,87.94 L97.06,88.05 L97.51,88.16 L97.96,88.27 L98.41,88.38 L98.86,88.5 L99.3,88.62 L99.75,88.73 L100.2,88.85 L100.65,88.97 L101.1,89.09 L101.55,89.21 L102,89.33 L102.45,89.45 L102.9,89.57 L103.35,89.69 L103.8,89.82 L104.25,89.94 L104.7,90.06 L105.15,90.19 L105.59,90.31 L106.04,90.44 L106.49,90.56 L106.94,90.69 L107.39,90.82 L107.84,90.94 L108.29,91.07 L108.74,91.2 L109.19,91.33 L109.64,91.45 L110.09,91.58 L110.54,91.71 L110.99,91.84 L111.44,91.97 L111.88,92.09 L112.33,92.22 L112.78,92.35 L113.23,92.48 L113.68,92.6 L114.13,92.73 L114.58,92.86 L115.03,92.99 L115.48,93.11 L115.93,93.24 L116.38,93.36 L116.83,93.49 L117.28,93.61 L117.73,93.74 L118.17,93.86 L118.62,93.99 L119.07,94.11 L119.52,94.23 L119.97,94.35 L120.42,94.47 L120.87,94.59 L121.32,94.71 L121.77,94.83 L122.22,94.95 L122.67,95.07 L123.12,95.18 L123.57,95.29 L124.02,95.4 L124.46,95.5 L124.91,95.6 L125.36,95.7 L125.81,95.8 L126.26,95.89 L126.71,95.99 L127.16,96.08 L127.61,96.17 L128.06,96.26 L128.51,96.35 L128.96,96.44 L129.41,96.53 L129.86,96.62 L130.31,96.72 L130.75,96.81 L131.2,96.9 L131.65,97 L132.1,97.09 L132.55,97.19 L133,97.29 L133.45,97.4 L133.9,97.5 L134.35,97.61 L134.8,97.72 L135.25,97.84 L135.7,97.96 L136.15,98.08 L136.6,98.21 L137.04,98.34 L137.49,98.48 L137.94,98.62 L138.39,98.77 L138.84,98.92 L139.29,99.08 L139.74,99.25 L140.19,99.42 L140.64,99.61 L141.09,99.81 L141.54,100.04 L141.99,100.28 L142.44,100.53 L142.89,100.8 L143.33,101.09 L143.78,101.39 L144.23,101.71 L144.68,102.04 L145.13,102.38 L145.58,102.74 L146.03,103.1 L146.48,103.48 L146.93,103.87 L147.38,104.27 L147.83,104.67 L148.28,105.09 L148.73,105.53 L149.18,106 L149.62,106.5 L150.07,107.02 L150.52,107.58 L150.97,108.16 L151.42,108.76 L151.87,109.4 L152.32,110.06 L152.77,110.75 L153.22,111.46 L153.67,112.21 L154.12,112.98 L154.57,113.81 L155.02,114.72 L155.22,115.14 L155.35,115.43 L155.47,115.68 L155.48,115.72 L155.62,116.02 L155.75,116.33 L155.89,116.64 L155.91,116.71 L156.02,116.96 L156.15,117.28 L156.29,117.6 L156.36,117.79 L156.42,117.93 L156.56,118.27 L156.69,118.6 L156.81,118.92 L156.82,118.94 L156.96,119.29 L157.09,119.64 L157.23,119.99 L157.26,120.09 L157.36,120.35 L157.49,120.71 L157.63,121.07 L157.71,121.3 L157.76,121.44 L157.9,121.8 L158.03,122.17 L158.16,122.54 L158.16,122.55 L158.3,122.92 L158.43,123.3 L158.57,123.68 L158.61,123.81 L158.7,124.07 L158.83,124.45 L158.97,124.84 L159.06,125.1 L159.1,125.22 L159.24,125.62 L159.37,126.01 L159.5,126.41 L159.51,126.43 L159.64,126.81 L159.77,127.22 L159.9,127.63 L159.96,127.79 L160.04,128.04 L160.17,128.46 L160.31,128.89 L160.41,129.22 L160.44,129.32 L160.57,129.76 L160.71,130.2 L160.84,130.66 L160.86,130.7 L160.98,131.11 L161.11,131.58 L161.24,132.05 L161.31,132.27 L161.38,132.53 L161.51,133.02 L161.65,133.51 L161.76,133.92 L161.78,134.02 L161.91,134.53 L162.05,135.05 L162.18,135.59 L162.2,135.68 L162.32,136.13 L162.45,136.68 L162.58,137.24 L162.65,137.54 L162.72,137.81 L162.85,138.4 L162.99,139 L163.1,139.54 L163.12,139.61 L163.25,140.25 L163.39,140.92 L163.52,141.6 L163.55,141.76 L163.66,142.3 L163.79,143.01 L163.92,143.75 L164,144.19 L164.06,144.5 L164.19,145.27 L164.33,146.05 L164.45,146.8 L164.46,146.85 L164.59,147.67 L164.73,148.49 L164.86,149.33 L164.9,149.58 L165,150.18 L165.13,151.04 L165.26,151.92 L165.35,152.49 L165.4,152.8 L165.53,153.69 L165.67,154.59 L165.8,155.5" fill="none" stroke="#f23a30" stroke-width="1.3" stroke-linejoin="round" stroke-linecap="butt"/>
<path d="M31.6,155.5 L31.65,148.55 L31.7,142.09 L31.75,136.81 L31.8,133.38 L31.85,131.2 L31.9,129.35 L31.95,127.78 L32,126.44 L32.05,125.28 L32.1,124.24 L32.15,123.29 L32.15,123.24 L32.2,122.36 L32.25,121.46 L32.3,120.59 L32.35,119.76 L32.4,118.97 L32.45,118.23 L32.5,117.52 L32.55,116.85 L32.6,116.22 L32.65,115.64 L32.7,115.09 L32.71,115.03 L32.75,114.59 L32.8,114.13 L32.85,113.71 L32.9,113.32 L32.95,112.94 L33,112.59 L33.05,112.25 L33.1,111.93 L33.15,111.62 L33.2,111.33 L33.25,111.05 L33.26,111 L33.3,110.78 L33.35,110.53 L33.4,110.29 L33.45,110.06 L33.5,109.85 L33.55,109.64 L33.6,109.45 L33.65,109.27 L33.71,109.09 L33.76,108.92 L33.81,108.75 L33.82,108.72 L33.86,108.59 L33.91,108.44 L33.96,108.29 L34.01,108.14 L34.06,108 L34.11,107.86 L34.16,107.73 L34.21,107.6 L34.26,107.48 L34.31,107.36 L34.36,107.25 L34.37,107.21 L34.41,107.14 L34.46,107.03 L34.51,106.92 L34.56,106.82 L34.61,106.73 L34.66,106.63 L34.71,106.54 L34.76,106.45 L34.81,106.36 L34.86,106.27 L34.91,106.19 L34.93,106.16 L34.96,106.1 L35.01,106.02 L35.06,105.94 L35.11,105.86 L35.16,105.78 L35.21,105.7 L35.26,105.62 L35.31,105.54 L35.36,105.47 L35.41,105.39 L35.46,105.32 L35.48,105.29 L35.51,105.25 L35.56,105.18 L36.04,104.55 L36.59,103.9 L37.15,103.34 L37.71,102.83 L38.26,102.37 L38.82,101.94 L39.37,101.55 L39.93,101.18 L40.48,100.83 L41.04,100.5 L41.59,100.18 L42.15,99.86 L42.7,99.54 L43.26,99.2 L43.82,98.86 L44.37,98.5 L44.93,98.13 L45.48,97.76 L46.04,97.38 L46.59,97.01 L47.15,96.65 L47.7,96.31 L48.26,95.98 L48.81,95.68 L49.37,95.4 L49.93,95.15 L50.48,94.91 L51.04,94.67 L51.59,94.45 L52.15,94.23 L52.7,94.02 L53.26,93.82 L53.81,93.62 L54.37,93.43 L54.92,93.24 L55.48,93.06 L56.04,92.88 L56.59,92.71 L57.15,92.54 L57.7,92.38 L58.26,92.22 L58.81,92.06 L59.37,91.9 L59.92,91.75 L60.48,91.6 L61.04,91.45 L61.59,91.3 L62.15,91.16 L62.7,91.02 L63.26,90.88 L63.81,90.75 L64.37,90.61 L64.92,90.48 L65.48,90.36 L66.03,90.23 L66.59,90.11 L67.15,89.98 L67.7,89.86 L68.26,89.74 L68.81,89.63 L69.37,89.51 L69.92,89.39 L70.48,89.28 L71.03,89.16 L71.59,89.05 L72.14,88.94 L72.7,88.82 L73.26,88.71 L73.81,88.6 L74.37,88.48 L74.92,88.37 L75.48,88.25 L76.03,88.14 L76.59,88.02 L77.14,87.91 L77.7,87.79 L78.25,87.67 L78.81,87.55 L79.37,87.43 L79.92,87.31 L80.48,87.18 L81.03,87.06 L81.59,86.94 L82.14,86.82 L82.7,86.69 L83.25,86.57 L83.81,86.45 L84.36,86.33 L84.92,86.21 L85.48,86.1 L86.03,85.98 L86.59,85.86 L87.14,85.74 L87.7,85.62 L88.25,85.5 L88.81,85.38 L89.36,85.26 L89.92,85.13 L90.47,85.01 L91.03,84.89 L91.59,84.77 L92.14,84.64 L92.7,84.51 L93.25,84.39 L93.81,84.26 L94.36,84.13 L94.92,84 L95.47,83.87 L96.03,83.73 L96.58,83.59 L97.14,83.46 L97.7,83.32 L98.25,83.18 L98.81,83.03 L99.36,82.88 L99.92,82.72 L100.47,82.56 L101.03,82.39 L101.58,82.22 L102.14,82.05 L102.7,81.87 L103.25,81.7 L103.81,81.52 L104.36,81.34 L104.92,81.16 L105.47,80.98 L106.03,80.81 L106.58,80.64 L107.14,80.47 L107.69,80.31 L108.25,80.15 L108.81,79.99 L109.36,79.85 L109.92,79.71 L110.47,79.58 L111.03,79.45 L111.58,79.33 L112.14,79.21 L112.69,79.09 L113.25,78.97 L113.8,78.86 L114.36,78.75 L114.92,78.64 L115.47,78.54 L116.03,78.43 L116.58,78.33 L117.14,78.23 L117.69,78.13 L118.25,78.03 L118.8,77.93 L119.36,77.84 L119.91,77.74 L120.47,77.65 L121.03,77.55 L121.58,77.45 L122.14,77.36 L122.69,77.26 L123.25,77.17 L123.8,77.07 L124.36,76.97 L124.91,76.87 L125.47,76.77 L126.02,76.67 L126.58,76.57 L127.14,76.46 L127.69,76.36 L128.25,76.25 L128.8,76.14 L129.36,76.04 L129.91,75.93 L130.47,75.82 L131.02,75.71 L131.58,75.6 L132.13,75.49 L132.69,75.38 L133.25,75.28 L133.8,75.17 L134.36,75.06 L134.91,74.96 L135.47,74.86 L136.02,74.76 L136.58,74.66 L137.13,74.57 L137.69,74.47 L138.25,74.38 L138.8,74.3 L139.36,74.21 L139.91,74.13 L140.47,74.05 L141.02,73.98 L141.58,73.91 L142.13,73.84 L142.69,73.78 L143.24,73.71 L143.8,73.65 L144.36,73.59 L144.91,73.53 L145.47,73.48 L146.02,73.42 L146.58,73.37 L147.13,73.32 L147.69,73.27 L148.24,73.21 L148.8,73.16 L149.35,73.11 L149.91,73.06 L150.47,73.01 L151.02,72.96 L151.58,72.91 L152.13,72.86 L152.69,72.8 L153.24,72.75 L153.8,72.69 L154.35,72.64 L154.91,72.58 L155.46,72.52 L156.02,72.45 L156.58,72.39 L157.13,72.32 L157.69,72.25 L158.24,72.17 L158.8,72.1 L159.35,72.02 L159.91,71.93 L160.46,71.84 L161.02,71.75 L161.57,71.66 L162.13,71.56 L162.69,71.46 L163.24,71.36 L163.8,71.25 L164.35,71.14 L164.91,71.03 L165.46,70.91 L166.02,70.78 L166.57,70.66 L167.13,70.52 L167.68,70.39 L168.24,70.25 L168.8,70.1 L169.35,69.95 L169.91,69.8 L170.46,69.64 L171.02,69.47 L171.57,69.3 L172.13,69.12 L172.68,68.94 L173.24,68.76 L173.79,68.56 L174.35,68.36 L174.91,68.16 L175.46,67.95 L176.02,67.72 L176.57,67.48 L177.13,67.22 L177.68,66.94 L178.24,66.65 L178.79,66.33 L179.35,66 L179.91,65.65 L180.46,65.28 L181.02,64.89 L181.57,64.48 L182.13,64.05 L182.68,63.6 L183.24,63.12 L183.79,62.62 L184.35,62.1 L184.9,61.52 L185.46,60.84 L186.02,60.07 L186.57,59.21 L187.1,58.33 L187.13,58.28 L187.23,58.1 L187.37,57.87 L187.5,57.63 L187.63,57.39 L187.68,57.3 L187.77,57.15 L187.9,56.9 L188.03,56.65 L188.17,56.4 L188.24,56.28 L188.3,56.15 L188.44,55.9 L188.57,55.65 L188.7,55.39 L188.79,55.22 L188.84,55.13 L188.97,54.87 L189.11,54.61 L189.24,54.36 L189.35,54.15 L189.37,54.1 L189.51,53.83 L189.64,53.57 L189.78,53.31 L189.9,53.07 L189.91,53.05 L190.04,52.79 L190.18,52.54 L190.31,52.28 L190.45,52.02 L190.46,51.99 L190.58,51.76 L190.71,51.5 L190.85,51.23 L190.98,50.96 L191.01,50.89 L191.12,50.69 L191.25,50.41 L191.38,50.13 L191.52,49.85 L191.57,49.74 L191.65,49.56 L191.79,49.28 L191.92,48.99 L192.05,48.69 L192.13,48.54 L192.19,48.4 L192.32,48.1 L192.46,47.8 L192.59,47.5 L192.68,47.29 L192.72,47.19 L192.86,46.89 L192.99,46.58 L193.13,46.27 L193.24,46.01 L193.26,45.96 L193.39,45.64 L193.53,45.33 L193.66,45.01 L193.79,44.7 L193.8,44.69 L193.93,44.37 L194.06,44.05 L194.2,43.73 L194.33,43.4 L194.35,43.36 L194.46,43.08 L194.6,42.75 L194.73,42.42 L194.87,42.08 L194.9,41.99 L195,41.75 L195.13,41.41 L195.27,41.06 L195.4,40.72 L195.46,40.58 L195.54,40.37 L195.67,40.02 L195.8,39.67 L195.94,39.31 L196.01,39.11 L196.07,38.96 L196.21,38.6 L196.34,38.24 L196.47,37.87 L196.57,37.61 L196.61,37.51 L196.74,37.14 L196.88,36.77 L197.01,36.39 L197.12,36.07 L197.14,36.02 L197.28,35.64 L197.41,35.26 L197.55,34.88 L197.68,34.5" fill="none" stroke="#9c1a1c" stroke-width="1.3" stroke-linejoin="round" stroke-linecap="butt"/>
<path d="M31.53,34.5 L31.58,34.51 L31.63,34.52 L31.68,34.53 L31.73,34.54 L31.78,34.56 L31.83,34.57 L31.88,34.59 L31.93,34.62 L31.98,34.64 L32.03,34.67 L32.08,34.69 L32.08,34.69 L32.13,34.72 L32.18,34.75 L32.23,34.78 L32.28,34.81 L32.33,34.84 L32.38,34.87 L32.43,34.9 L32.48,34.94 L32.53,34.98 L32.58,35.02 L32.63,35.06 L32.64,35.07 L32.68,35.11 L32.73,35.15 L32.79,35.2 L32.84,35.26 L32.89,35.31 L32.94,35.37 L32.99,35.43 L33.04,35.49 L33.09,35.55 L33.14,35.62 L33.19,35.69 L33.2,35.7 L33.24,35.76 L33.29,35.83 L33.34,35.91 L33.39,35.99 L33.44,36.07 L33.49,36.16 L33.54,36.24 L33.59,36.33 L33.64,36.43 L33.69,36.52 L33.74,36.62 L33.75,36.64 L33.79,36.72 L33.84,36.82 L33.89,36.93 L33.94,37.04 L33.99,37.15 L34.04,37.26 L34.09,37.38 L34.14,37.5 L34.19,37.62 L34.24,37.77 L34.29,37.94 L34.31,37.99 L34.34,38.13 L34.39,38.35 L34.44,38.58 L34.49,38.84 L34.54,39.11 L34.59,39.41 L34.64,39.71 L34.69,40.03 L34.74,40.37 L34.79,40.71 L34.84,41.07 L34.86,41.21 L34.89,41.44 L34.95,41.81 L35,42.19 L35.05,42.57 L35.1,42.96 L35.15,43.35 L35.2,43.74 L35.25,44.13 L35.3,44.52 L35.35,44.91 L35.4,45.29 L35.42,45.45 L35.45,45.67 L35.5,46.03 L35.97,49.11 L36.53,52.59 L37.09,55.83 L37.64,58.36 L38.2,60.34 L38.75,62.09 L39.31,63.62 L39.86,64.93 L40.42,66 L40.98,66.88 L41.53,67.63 L42.09,68.27 L42.64,68.82 L43.2,69.27 L43.75,69.65 L44.31,69.97 L44.87,70.28 L45.42,70.57 L45.98,70.86 L46.53,71.14 L47.09,71.4 L47.64,71.65 L48.2,71.88 L48.76,72.08 L49.31,72.27 L49.87,72.46 L50.42,72.63 L50.98,72.8 L51.53,72.97 L52.09,73.12 L52.65,73.27 L53.2,73.42 L53.76,73.56 L54.31,73.69 L54.87,73.82 L55.42,73.95 L55.98,74.07 L56.54,74.19 L57.09,74.3 L57.65,74.41 L58.2,74.51 L58.76,74.61 L59.31,74.71 L59.87,74.8 L60.42,74.89 L60.98,74.98 L61.54,75.07 L62.09,75.15 L62.65,75.23 L63.2,75.31 L63.76,75.39 L64.31,75.47 L64.87,75.55 L65.43,75.63 L65.98,75.7 L66.54,75.78 L67.09,75.86 L67.65,75.94 L68.2,76.02 L68.76,76.1 L69.32,76.19 L69.87,76.28 L70.43,76.36 L70.98,76.45 L71.54,76.54 L72.09,76.63 L72.65,76.71 L73.21,76.8 L73.76,76.89 L74.32,76.97 L74.87,77.06 L75.43,77.15 L75.98,77.24 L76.54,77.34 L77.1,77.43 L77.65,77.53 L78.21,77.62 L78.76,77.73 L79.32,77.83 L79.87,77.94 L80.43,78.05 L80.99,78.16 L81.54,78.27 L82.1,78.39 L82.65,78.51 L83.21,78.64 L83.76,78.76 L84.32,78.89 L84.88,79.02 L85.43,79.16 L85.99,79.29 L86.54,79.43 L87.1,79.57 L87.65,79.71 L88.21,79.85 L88.77,79.99 L89.32,80.13 L89.88,80.28 L90.43,80.42 L90.99,80.57 L91.54,80.72 L92.1,80.87 L92.65,81.01 L93.21,81.16 L93.77,81.31 L94.32,81.46 L94.88,81.61 L95.43,81.76 L95.99,81.91 L96.54,82.06 L97.1,82.21 L97.66,82.36 L98.21,82.5 L98.77,82.65 L99.32,82.8 L99.88,82.95 L100.43,83.11 L100.99,83.26 L101.55,83.42 L102.1,83.58 L102.66,83.74 L103.21,83.91 L103.77,84.07 L104.32,84.24 L104.88,84.4 L105.44,84.57 L105.99,84.73 L106.55,84.9 L107.1,85.07 L107.66,85.23 L108.21,85.4 L108.77,85.56 L109.33,85.73 L109.88,85.89 L110.44,86.05 L110.99,86.21 L111.55,86.36 L112.1,86.52 L112.66,86.67 L113.22,86.82 L113.77,86.96 L114.33,87.11 L114.88,87.25 L115.44,87.38 L115.99,87.51 L116.55,87.64 L117.11,87.77 L117.66,87.89 L118.22,88.01 L118.77,88.12 L119.33,88.24 L119.88,88.35 L120.44,88.47 L120.99,88.58 L121.55,88.69 L122.11,88.79 L122.66,88.9 L123.22,89.01 L123.77,89.11 L124.33,89.21 L124.88,89.31 L125.44,89.41 L126,89.51 L126.55,89.61 L127.11,89.71 L127.66,89.81 L128.22,89.9 L128.77,90 L129.33,90.09 L129.89,90.19 L130.44,90.28 L131,90.38 L131.55,90.47 L132.11,90.56 L132.66,90.65 L133.22,90.75 L133.78,90.84 L134.33,90.93 L134.89,91.03 L135.44,91.12 L136,91.21 L136.55,91.31 L137.11,91.4 L137.67,91.49 L138.22,91.59 L138.78,91.68 L139.33,91.78 L139.89,91.88 L140.44,91.97 L141,92.07 L141.56,92.16 L142.11,92.26 L142.67,92.35 L143.22,92.44 L143.78,92.53 L144.33,92.61 L144.89,92.7 L145.45,92.79 L146,92.87 L146.56,92.96 L147.11,93.04 L147.67,93.13 L148.22,93.22 L148.78,93.3 L149.34,93.39 L149.89,93.47 L150.45,93.56 L151,93.65 L151.56,93.74 L152.11,93.83 L152.67,93.92 L153.22,94.01 L153.78,94.11 L154.34,94.2 L154.89,94.3 L155.45,94.4 L156,94.5 L156.56,94.6 L157.11,94.71 L157.67,94.82 L158.23,94.93 L158.78,95.04 L159.34,95.16 L159.89,95.28 L160.45,95.41 L161,95.53 L161.56,95.66 L162.12,95.79 L162.67,95.93 L163.23,96.07 L163.78,96.21 L164.34,96.36 L164.89,96.51 L165.45,96.66 L166.01,96.82 L166.56,96.98 L167.12,97.15 L167.67,97.32 L168.23,97.5 L168.78,97.68 L169.34,97.87 L169.9,98.06 L170.45,98.26 L171.01,98.46 L171.56,98.67 L172.12,98.89 L172.67,99.11 L173.23,99.34 L173.79,99.58 L174.34,99.83 L174.9,100.09 L175.45,100.36 L176.01,100.64 L176.56,100.93 L177.12,101.23 L177.68,101.55 L178.23,101.89 L178.79,102.24 L179.34,102.61 L179.9,102.99 L180.45,103.4 L181.01,103.82 L181.57,104.26 L182.12,104.74 L182.68,105.27 L183.23,105.86 L183.79,106.5 L184.34,107.2 L184.9,107.96 L185.45,108.79 L186.01,109.68 L186.57,110.66 L187.1,111.77 L187.12,111.82 L187.23,112.07 L187.37,112.39 L187.5,112.72 L187.63,113.05 L187.68,113.17 L187.77,113.4 L187.9,113.75 L188.03,114.12 L188.17,114.49 L188.23,114.67 L188.3,114.87 L188.44,115.25 L188.57,115.64 L188.7,116.04 L188.79,116.3 L188.84,116.45 L188.97,116.86 L189.11,117.28 L189.24,117.7 L189.34,118.03 L189.37,118.12 L189.51,118.55 L189.64,118.99 L189.78,119.43 L189.9,119.83 L189.91,119.87 L190.04,120.32 L190.18,120.79 L190.31,121.28 L190.45,121.78 L190.46,121.82 L190.58,122.29 L190.71,122.82 L190.85,123.36 L190.98,123.91 L191.01,124.03 L191.12,124.47 L191.25,125.04 L191.38,125.62 L191.52,126.21 L191.57,126.43 L191.65,126.8 L191.79,127.4 L191.92,128.01 L192.05,128.62 L192.12,128.94 L192.19,129.23 L192.32,129.85 L192.46,130.47 L192.59,131.09 L192.68,131.51 L192.72,131.71 L192.86,132.33 L192.99,132.95 L193.13,133.57 L193.23,134.07 L193.26,134.19 L193.39,134.8 L193.53,135.4 L193.66,136.01 L193.79,136.6 L193.8,136.63 L193.93,137.24 L194.06,137.86 L194.2,138.48 L194.33,139.1 L194.35,139.17 L194.46,139.73 L194.6,140.36 L194.73,140.99 L194.87,141.62 L194.9,141.78 L195,142.26 L195.13,142.89 L195.27,143.53 L195.4,144.18 L195.46,144.44 L195.54,144.82 L195.67,145.47 L195.8,146.12 L195.94,146.78 L196.01,147.14 L196.07,147.43 L196.21,148.09 L196.34,148.75 L196.47,149.41 L196.57,149.88 L196.61,150.08 L196.74,150.75 L196.88,151.42 L197.01,152.09 L197.12,152.67 L197.14,152.77 L197.28,153.45 L197.41,154.13 L197.55,154.81 L197.68,155.5" fill="none" stroke="#9c1a1c" stroke-width="1.3" stroke-linejoin="round" stroke-linecap="butt"/>
<path d="M31.6,155.5 L31.65,147.86 L31.7,140.75 L31.75,134.94 L31.8,131.17 L31.85,128.76 L31.9,126.71 L31.95,124.96 L32,123.47 L32.05,122.18 L32.1,121.05 L32.1,120.9 L32.15,120.03 L32.2,119.06 L32.25,118.13 L32.3,117.25 L32.35,116.42 L32.4,115.64 L32.45,114.91 L32.5,114.21 L32.55,113.56 L32.6,112.95 L32.61,112.78 L32.65,112.37 L32.7,111.83 L32.75,111.33 L32.8,110.85 L32.85,110.41 L32.9,109.98 L32.95,109.57 L33,109.18 L33.05,108.79 L33.1,108.43 L33.12,108.28 L33.15,108.08 L33.2,107.74 L33.25,107.42 L33.3,107.11 L33.35,106.82 L33.4,106.55 L33.45,106.29 L33.5,106.05 L33.55,105.82 L33.6,105.61 L33.63,105.5 L33.65,105.42 L33.71,105.23 L33.76,105.06 L33.81,104.88 L33.86,104.72 L33.91,104.56 L33.96,104.41 L34.01,104.26 L34.06,104.12 L34.11,103.98 L34.14,103.89 L34.16,103.85 L34.21,103.73 L34.26,103.61 L34.31,103.49 L34.36,103.37 L34.41,103.27 L34.46,103.16 L34.51,103.06 L34.56,102.96 L34.61,102.87 L34.65,102.79 L34.66,102.78 L34.71,102.69 L34.76,102.6 L34.81,102.52 L34.86,102.44 L34.91,102.35 L34.96,102.27 L35.01,102.19 L35.06,102.11 L35.11,102.04 L35.16,101.96 L35.16,101.96 L35.21,101.88 L35.26,101.81 L35.31,101.74 L35.36,101.67 L35.41,101.59 L35.46,101.52 L35.51,101.46 L35.56,101.39 L35.67,101.25 L36.18,100.63 L36.69,100.1 L37.2,99.64 L37.71,99.22 L38.22,98.84 L38.73,98.48 L39.24,98.15 L39.75,97.85 L40.26,97.56 L40.77,97.28 L41.27,97.02 L41.78,96.77 L42.29,96.52 L42.8,96.27 L43.31,96.03 L43.82,95.77 L44.33,95.52 L44.84,95.27 L45.35,95.02 L45.86,94.78 L46.37,94.54 L46.88,94.31 L47.39,94.08 L47.9,93.87 L48.41,93.66 L48.92,93.46 L49.43,93.27 L49.94,93.1 L50.45,92.92 L50.95,92.76 L51.46,92.6 L51.97,92.44 L52.48,92.29 L52.99,92.15 L53.5,92 L54.01,91.86 L54.52,91.73 L55.03,91.59 L55.54,91.46 L56.05,91.32 L56.56,91.19 L57.07,91.06 L57.58,90.93 L58.09,90.8 L58.6,90.67 L59.11,90.54 L59.62,90.4 L60.12,90.26 L60.63,90.13 L61.14,89.99 L61.65,89.85 L62.16,89.72 L62.67,89.59 L63.18,89.45 L63.69,89.32 L64.2,89.19 L64.71,89.06 L65.22,88.93 L65.73,88.8 L66.24,88.67 L66.75,88.54 L67.26,88.41 L67.77,88.28 L68.28,88.15 L68.79,88.02 L69.29,87.89 L69.8,87.77 L70.31,87.64 L70.82,87.51 L71.33,87.38 L71.84,87.25 L72.35,87.12 L72.86,86.99 L73.37,86.86 L73.88,86.73 L74.39,86.6 L74.9,86.46 L75.41,86.33 L75.92,86.2 L76.43,86.06 L76.94,85.93 L77.45,85.79 L77.96,85.65 L78.47,85.51 L78.97,85.37 L79.48,85.23 L79.99,85.09 L80.5,84.94 L81.01,84.79 L81.52,84.64 L82.03,84.49 L82.54,84.33 L83.05,84.17 L83.56,84.01 L84.07,83.85 L84.58,83.68 L85.09,83.52 L85.6,83.35 L86.11,83.18 L86.62,83.01 L87.13,82.84 L87.64,82.67 L88.14,82.5 L88.65,82.33 L89.16,82.16 L89.67,81.99 L90.18,81.82 L90.69,81.65 L91.2,81.48 L91.71,81.31 L92.22,81.15 L92.73,80.99 L93.24,80.82 L93.75,80.66 L94.26,80.51 L94.77,80.35 L95.28,80.2 L95.79,80.05 L96.3,79.9 L96.81,79.76 L97.31,79.62 L97.82,79.49 L98.33,79.35 L98.84,79.23 L99.35,79.1 L99.86,78.98 L100.37,78.87 L100.88,78.76 L101.39,78.65 L101.9,78.54 L102.41,78.43 L102.92,78.32 L103.43,78.22 L103.94,78.12 L104.45,78.02 L104.96,77.92 L105.47,77.82 L105.98,77.72 L106.49,77.63 L106.99,77.53 L107.5,77.44 L108.01,77.35 L108.52,77.26 L109.03,77.17 L109.54,77.08 L110.05,76.99 L110.56,76.9 L111.07,76.82 L111.58,76.73 L112.09,76.65 L112.6,76.56 L113.11,76.48 L113.62,76.4 L114.13,76.32 L114.64,76.23 L115.15,76.15 L115.66,76.07 L116.16,75.99 L116.67,75.91 L117.18,75.83 L117.69,75.75 L118.2,75.67 L118.71,75.59 L119.22,75.51 L119.73,75.43 L120.24,75.35 L120.75,75.27 L121.26,75.19 L121.77,75.1 L122.28,75.02 L122.79,74.94 L123.3,74.86 L123.81,74.77 L124.32,74.69 L124.83,74.6 L125.33,74.52 L125.84,74.43 L126.35,74.35 L126.86,74.26 L127.37,74.17 L127.88,74.09 L128.39,74 L128.9,73.91 L129.41,73.83 L129.92,73.74 L130.43,73.66 L130.94,73.57 L131.45,73.49 L131.96,73.4 L132.47,73.32 L132.98,73.23 L133.49,73.15 L134,73.06 L134.51,72.98 L135.01,72.89 L135.52,72.81 L136.03,72.72 L136.54,72.63 L137.05,72.55 L137.56,72.46 L138.07,72.37 L138.58,72.28 L139.09,72.19 L139.6,72.1 L140.11,72.01 L140.62,71.93 L141.13,71.84 L141.64,71.75 L142.15,71.67 L142.66,71.59 L143.17,71.51 L143.68,71.43 L144.18,71.35 L144.69,71.27 L145.2,71.19 L145.71,71.11 L146.22,71.03 L146.73,70.96 L147.24,70.88 L147.75,70.8 L148.26,70.72 L148.77,70.64 L149.28,70.56 L149.79,70.48 L150.3,70.4 L150.81,70.31 L151.32,70.23 L151.83,70.14 L152.34,70.05 L152.85,69.96 L153.35,69.86 L153.86,69.76 L154.37,69.66 L154.88,69.56 L155.39,69.45 L155.9,69.34 L156.41,69.23 L156.92,69.11 L157.43,68.99 L157.94,68.86 L158.45,68.73 L158.96,68.59 L159.47,68.45 L159.98,68.31 L160.49,68.16 L161,67.99 L161.51,67.81 L162.02,67.62 L162.53,67.42 L163.03,67.2 L163.54,66.97 L164.05,66.72 L164.56,66.47 L165.07,66.2 L165.58,65.92 L166.09,65.63 L166.6,65.33 L167.11,65.02 L167.62,64.69 L168.13,64.35 L168.64,64.01 L169.15,63.65 L169.66,63.28 L170.17,62.9 L170.68,62.48 L171.19,62.04 L171.7,61.56 L172.2,61.05 L172.71,60.51 L173.22,59.93 L173.34,59.8 L173.47,59.64 L173.61,59.48 L173.73,59.32 L173.74,59.31 L173.88,59.15 L174.01,58.98 L174.14,58.81 L174.24,58.68 L174.28,58.64 L174.41,58.46 L174.55,58.28 L174.68,58.1 L174.75,58 L174.81,57.92 L174.95,57.74 L175.08,57.55 L175.21,57.36 L175.26,57.29 L175.35,57.17 L175.48,56.97 L175.62,56.78 L175.75,56.58 L175.77,56.55 L175.88,56.38 L176.02,56.17 L176.15,55.97 L176.28,55.77 L176.29,55.76 L176.42,55.55 L176.55,55.34 L176.69,55.12 L176.79,54.94 L176.82,54.89 L176.96,54.65 L177.09,54.41 L177.22,54.16 L177.3,54.02 L177.36,53.9 L177.49,53.64 L177.63,53.37 L177.76,53.09 L177.81,52.99 L177.89,52.8 L178.03,52.51 L178.16,52.22 L178.3,51.91 L178.32,51.86 L178.43,51.61 L178.56,51.29 L178.7,50.97 L178.83,50.66 L178.83,50.65 L178.97,50.32 L179.1,49.99 L179.23,49.65 L179.34,49.38 L179.37,49.3 L179.5,48.95 L179.64,48.6 L179.77,48.25 L179.85,48.04 L179.9,47.89 L180.04,47.52 L180.17,47.16 L180.31,46.78 L180.36,46.64 L180.44,46.41 L180.57,46.03 L180.71,45.66 L180.84,45.27 L180.87,45.2 L180.98,44.89 L181.11,44.5 L181.24,44.11 L181.38,43.71 L181.38,43.71 L181.51,43.3 L181.64,42.87 L181.78,42.44 L181.88,42.09 L181.91,42 L182.05,41.55 L182.18,41.08 L182.31,40.62 L182.39,40.34 L182.45,40.14 L182.58,39.66 L182.72,39.17 L182.85,38.67 L182.9,38.47 L182.98,38.16 L183.12,37.66 L183.25,37.14 L183.39,36.62 L183.41,36.52 L183.52,36.1 L183.65,35.57 L183.79,35.04 L183.92,34.5" fill="none" stroke="#e8141a" stroke-width="1.3" stroke-linejoin="round" stroke-linecap="butt"/>
<path d="M31.53,34.5 L31.58,34.56 L31.63,34.62 L31.68,34.68 L31.73,34.74 L31.78,34.8 L31.83,34.87 L31.88,34.94 L31.93,35.01 L31.98,35.08 L32.03,35.15 L32.04,35.16 L32.08,35.22 L32.13,35.3 L32.18,35.38 L32.23,35.45 L32.28,35.53 L32.33,35.62 L32.38,35.7 L32.43,35.78 L32.48,35.86 L32.53,35.94 L32.55,35.97 L32.58,36.02 L32.63,36.1 L32.68,36.19 L32.73,36.27 L32.79,36.35 L32.84,36.44 L32.89,36.53 L32.94,36.62 L32.99,36.72 L33.04,36.81 L33.06,36.86 L33.09,36.91 L33.14,37.02 L33.19,37.13 L33.24,37.24 L33.29,37.36 L33.34,37.48 L33.39,37.61 L33.44,37.74 L33.49,37.88 L33.54,38.02 L33.57,38.11 L33.59,38.17 L33.64,38.33 L33.69,38.5 L33.74,38.7 L33.79,38.93 L33.84,39.19 L33.89,39.47 L33.94,39.77 L33.99,40.1 L34.04,40.44 L34.08,40.71 L34.09,40.79 L34.14,41.17 L34.19,41.55 L34.24,41.95 L34.29,42.35 L34.34,42.77 L34.39,43.19 L34.44,43.61 L34.49,44.03 L34.54,44.46 L34.59,44.85 L34.59,44.88 L34.64,45.3 L34.69,45.72 L34.74,46.13 L34.79,46.52 L34.84,46.91 L34.89,47.29 L34.95,47.65 L35,47.99 L35.05,48.34 L35.1,48.7 L35.1,48.73 L35.15,49.05 L35.2,49.41 L35.25,49.77 L35.3,50.14 L35.35,50.5 L35.4,50.86 L35.45,51.23 L35.5,51.59 L35.61,52.4 L36.12,55.87 L36.63,58.6 L37.14,60.82 L37.65,62.79 L38.16,64.48 L38.67,65.84 L39.18,66.85 L39.69,67.7 L40.2,68.45 L40.71,69.1 L41.22,69.67 L41.73,70.16 L42.24,70.58 L42.75,70.94 L43.26,71.25 L43.77,71.53 L44.28,71.78 L44.79,72.02 L45.3,72.24 L45.81,72.46 L46.32,72.67 L46.83,72.86 L47.34,73.04 L47.85,73.22 L48.36,73.38 L48.87,73.54 L49.38,73.7 L49.89,73.85 L50.4,74 L50.91,74.15 L51.42,74.29 L51.93,74.42 L52.44,74.56 L52.95,74.69 L53.46,74.82 L53.97,74.94 L54.48,75.06 L54.99,75.17 L55.5,75.29 L56.01,75.4 L56.52,75.5 L57.04,75.6 L57.55,75.7 L58.06,75.8 L58.57,75.89 L59.08,75.98 L59.59,76.07 L60.1,76.15 L60.61,76.24 L61.12,76.32 L61.63,76.4 L62.14,76.48 L62.65,76.56 L63.16,76.64 L63.67,76.72 L64.18,76.8 L64.69,76.87 L65.2,76.95 L65.71,77.03 L66.22,77.11 L66.73,77.19 L67.24,77.27 L67.75,77.35 L68.26,77.43 L68.77,77.51 L69.28,77.6 L69.79,77.69 L70.3,77.78 L70.81,77.87 L71.32,77.96 L71.83,78.04 L72.34,78.13 L72.85,78.22 L73.36,78.31 L73.87,78.4 L74.38,78.49 L74.89,78.58 L75.4,78.67 L75.91,78.77 L76.42,78.86 L76.93,78.96 L77.44,79.06 L77.95,79.16 L78.46,79.27 L78.97,79.38 L79.48,79.49 L79.99,79.61 L80.5,79.73 L81.01,79.86 L81.52,80 L82.03,80.14 L82.54,80.28 L83.05,80.43 L83.56,80.59 L84.07,80.75 L84.58,80.91 L85.09,81.08 L85.6,81.25 L86.11,81.43 L86.62,81.6 L87.13,81.78 L87.64,81.96 L88.15,82.15 L88.66,82.33 L89.17,82.51 L89.68,82.7 L90.19,82.89 L90.7,83.07 L91.21,83.26 L91.72,83.44 L92.23,83.62 L92.74,83.81 L93.25,83.99 L93.76,84.17 L94.27,84.34 L94.78,84.51 L95.29,84.68 L95.8,84.85 L96.31,85.01 L96.82,85.17 L97.33,85.33 L97.84,85.48 L98.35,85.62 L98.86,85.76 L99.37,85.9 L99.89,86.04 L100.4,86.17 L100.91,86.31 L101.42,86.44 L101.93,86.58 L102.44,86.71 L102.95,86.84 L103.46,86.97 L103.97,87.1 L104.48,87.23 L104.99,87.36 L105.5,87.48 L106.01,87.61 L106.52,87.73 L107.03,87.86 L107.54,87.98 L108.05,88.1 L108.56,88.22 L109.07,88.34 L109.58,88.46 L110.09,88.57 L110.6,88.69 L111.11,88.8 L111.62,88.92 L112.13,89.03 L112.64,89.14 L113.15,89.25 L113.66,89.36 L114.17,89.47 L114.68,89.58 L115.19,89.68 L115.7,89.79 L116.21,89.89 L116.72,90 L117.23,90.1 L117.74,90.2 L118.25,90.29 L118.76,90.39 L119.27,90.48 L119.78,90.57 L120.29,90.66 L120.8,90.75 L121.31,90.83 L121.82,90.92 L122.33,91 L122.84,91.08 L123.35,91.16 L123.86,91.24 L124.37,91.31 L124.88,91.39 L125.39,91.47 L125.9,91.54 L126.41,91.62 L126.92,91.69 L127.43,91.77 L127.94,91.84 L128.45,91.92 L128.96,92 L129.47,92.07 L129.98,92.15 L130.49,92.23 L131,92.3 L131.51,92.38 L132.02,92.46 L132.53,92.55 L133.04,92.63 L133.55,92.71 L134.06,92.8 L134.57,92.89 L135.08,92.98 L135.59,93.07 L136.1,93.17 L136.61,93.26 L137.12,93.36 L137.63,93.47 L138.14,93.57 L138.65,93.68 L139.16,93.79 L139.67,93.9 L140.18,94.02 L140.69,94.15 L141.2,94.28 L141.71,94.42 L142.22,94.56 L142.73,94.71 L143.25,94.87 L143.76,95.03 L144.27,95.2 L144.78,95.37 L145.29,95.54 L145.8,95.72 L146.31,95.9 L146.82,96.07 L147.33,96.25 L147.84,96.43 L148.35,96.61 L148.86,96.79 L149.37,96.97 L149.88,97.14 L150.39,97.31 L150.9,97.48 L151.41,97.64 L151.92,97.8 L152.43,97.96 L152.94,98.12 L153.45,98.28 L153.96,98.44 L154.47,98.6 L154.98,98.76 L155.49,98.93 L156,99.1 L156.51,99.27 L157.02,99.46 L157.53,99.64 L158.04,99.84 L158.55,100.04 L159.06,100.25 L159.57,100.47 L160.08,100.71 L160.59,100.95 L161.1,101.2 L161.61,101.47 L162.12,101.76 L162.63,102.05 L163.14,102.37 L163.65,102.69 L164.16,103.03 L164.67,103.39 L165.18,103.76 L165.69,104.15 L166.2,104.56 L166.71,104.98 L167.22,105.42 L167.73,105.89 L168.24,106.39 L168.75,106.93 L169.26,107.51 L169.77,108.13 L170.28,108.8 L170.79,109.5 L171.3,110.26 L171.81,111.06 L172.32,111.92 L172.83,112.92 L173.34,114.04 L173.47,114.34 L173.61,114.66 L173.74,114.98 L173.85,115.25 L173.87,115.31 L174.01,115.64 L174.14,115.97 L174.28,116.31 L174.36,116.54 L174.41,116.66 L174.54,117 L174.68,117.35 L174.81,117.7 L174.87,117.86 L174.95,118.05 L175.08,118.41 L175.21,118.76 L175.35,119.11 L175.38,119.21 L175.48,119.47 L175.62,119.82 L175.75,120.18 L175.88,120.54 L175.89,120.57 L176.02,120.91 L176.15,121.28 L176.28,121.66 L176.4,122 L176.42,122.05 L176.55,122.44 L176.69,122.83 L176.82,123.23 L176.91,123.51 L176.95,123.63 L177.09,124.04 L177.22,124.45 L177.36,124.86 L177.42,125.07 L177.49,125.28 L177.62,125.7 L177.76,126.12 L177.89,126.54 L177.93,126.67 L178.03,126.97 L178.16,127.4 L178.29,127.82 L178.43,128.25 L178.44,128.29 L178.56,128.67 L178.7,129.1 L178.83,129.53 L178.95,129.93 L178.96,129.97 L179.1,130.41 L179.23,130.86 L179.37,131.32 L179.46,131.66 L179.5,131.78 L179.63,132.26 L179.77,132.75 L179.9,133.25 L179.97,133.53 L180.04,133.77 L180.17,134.3 L180.3,134.84 L180.44,135.41 L180.48,135.6 L180.57,135.98 L180.71,136.57 L180.84,137.18 L180.97,137.8 L180.99,137.89 L181.11,138.43 L181.24,139.07 L181.38,139.73 L181.5,140.37 L181.51,140.4 L181.64,141.08 L181.78,141.78 L181.91,142.49 L182.01,143.04 L182.05,143.21 L182.18,143.94 L182.31,144.69 L182.45,145.45 L182.52,145.89 L182.58,146.22 L182.71,147 L182.85,147.8 L182.98,148.61 L183.03,148.92 L183.12,149.43 L183.25,150.26 L183.38,151.1 L183.52,151.96 L183.54,152.13 L183.65,152.83 L183.79,153.71 L183.92,154.6 L184.05,155.5" fill="none" stroke="#e8141a" stroke-width="1.3" stroke-linejoin="round" stroke-linecap="butt"/>
<line x1="27.8" y1="23.5" x2="31" y2="23.5" stroke="#444" stroke-width="0.9"/>
<text x="26.1" y="26.7" font-size="9" text-anchor="end" fill="#000" font-weight="bold" stroke="#000" stroke-width="0.22">4.6</text>
<line x1="29.4" y1="34.5" x2="31" y2="34.5" stroke="#444" stroke-width="0.9"/>
<line x1="27.8" y1="45.5" x2="31" y2="45.5" stroke="#444" stroke-width="0.9"/>
<text x="26.1" y="48.7" font-size="9" text-anchor="end" fill="#000" font-weight="bold" stroke="#000" stroke-width="0.22">4.4</text>
<line x1="29.4" y1="56.5" x2="31" y2="56.5" stroke="#444" stroke-width="0.9"/>
<line x1="27.8" y1="67.5" x2="31" y2="67.5" stroke="#444" stroke-width="0.9"/>
<text x="26.1" y="70.7" font-size="9" text-anchor="end" fill="#000" font-weight="bold" stroke="#000" stroke-width="0.22">4.2</text>
<line x1="29.4" y1="78.5" x2="31" y2="78.5" stroke="#444" stroke-width="0.9"/>
<line x1="27.8" y1="89.5" x2="31" y2="89.5" stroke="#444" stroke-width="0.9"/>
<text x="26.1" y="92.7" font-size="9" text-anchor="end" fill="#000" font-weight="bold" stroke="#000" stroke-width="0.22">4.0</text>
<line x1="29.4" y1="100.5" x2="31" y2="100.5" stroke="#444" stroke-width="0.9"/>
<line x1="27.8" y1="111.5" x2="31" y2="111.5" stroke="#444" stroke-width="0.9"/>
<text x="26.1" y="114.7" font-size="9" text-anchor="end" fill="#000" font-weight="bold" stroke="#000" stroke-width="0.22">3.8</text>
<line x1="29.4" y1="122.5" x2="31" y2="122.5" stroke="#444" stroke-width="0.9"/>
<line x1="27.8" y1="133.5" x2="31" y2="133.5" stroke="#444" stroke-width="0.9"/>
<text x="26.1" y="136.7" font-size="9" text-anchor="end" fill="#000" font-weight="bold" stroke="#000" stroke-width="0.22">3.6</text>
<line x1="29.4" y1="144.5" x2="31" y2="144.5" stroke="#444" stroke-width="0.9"/>
<line x1="27.8" y1="155.5" x2="31" y2="155.5" stroke="#444" stroke-width="0.9"/>
<text x="26.1" y="158.7" font-size="9" text-anchor="end" fill="#000" font-weight="bold" stroke="#000" stroke-width="0.22">3.4</text>
<line x1="31" y1="166.3" x2="31" y2="169.3" stroke="#444" stroke-width="0.9"/>
<text x="31.2" y="178.8" font-size="9" text-anchor="middle" fill="#000" font-weight="bold" stroke="#000" stroke-width="0.22">0</text>
<line x1="44.23" y1="166.3" x2="44.23" y2="167.9" stroke="#444" stroke-width="0.9"/>
<line x1="57.46" y1="166.3" x2="57.46" y2="169.3" stroke="#444" stroke-width="0.9"/>
<text x="57.66" y="178.8" font-size="9" text-anchor="middle" fill="#000" font-weight="bold" stroke="#000" stroke-width="0.22">20</text>
<line x1="70.69" y1="166.3" x2="70.69" y2="167.9" stroke="#444" stroke-width="0.9"/>
<line x1="83.91" y1="166.3" x2="83.91" y2="169.3" stroke="#444" stroke-width="0.9"/>
<text x="84.11" y="178.8" font-size="9" text-anchor="middle" fill="#000" font-weight="bold" stroke="#000" stroke-width="0.22">40</text>
<line x1="97.14" y1="166.3" x2="97.14" y2="167.9" stroke="#444" stroke-width="0.9"/>
<line x1="110.37" y1="166.3" x2="110.37" y2="169.3" stroke="#444" stroke-width="0.9"/>
<text x="110.57" y="178.8" font-size="9" text-anchor="middle" fill="#000" font-weight="bold" stroke="#000" stroke-width="0.22">60</text>
<line x1="123.6" y1="166.3" x2="123.6" y2="167.9" stroke="#444" stroke-width="0.9"/>
<line x1="136.83" y1="166.3" x2="136.83" y2="169.3" stroke="#444" stroke-width="0.9"/>
<text x="137.03" y="178.8" font-size="9" text-anchor="middle" fill="#000" font-weight="bold" stroke="#000" stroke-width="0.22">80</text>
<line x1="150.06" y1="166.3" x2="150.06" y2="167.9" stroke="#444" stroke-width="0.9"/>
<line x1="163.29" y1="166.3" x2="163.29" y2="169.3" stroke="#444" stroke-width="0.9"/>
<text x="163.49" y="178.8" font-size="9" text-anchor="middle" fill="#000" font-weight="bold" stroke="#000" stroke-width="0.22">100</text>
<line x1="176.51" y1="166.3" x2="176.51" y2="167.9" stroke="#444" stroke-width="0.9"/>
<line x1="189.74" y1="166.3" x2="189.74" y2="169.3" stroke="#444" stroke-width="0.9"/>
<text x="189.94" y="178.8" font-size="9" text-anchor="middle" fill="#000" font-weight="bold" stroke="#000" stroke-width="0.22">120</text>
<line x1="202.97" y1="166.3" x2="202.97" y2="167.9" stroke="#444" stroke-width="0.9"/>
<line x1="216.2" y1="166.3" x2="216.2" y2="169.3" stroke="#444" stroke-width="0.9"/>
<text x="216.4" y="178.8" font-size="9" text-anchor="middle" fill="#000" font-weight="bold" stroke="#000" stroke-width="0.22">140</text>
<text x="85.1" y="193" font-size="10" text-anchor="start" fill="#000" font-weight="bold" stroke="#000" stroke-width="0.22">Capacity (mAh g<tspan font-size="6.5" dy="-4">-1</tspan><tspan dy="4">)</tspan></text>
<text transform="translate(7.9,83.6) rotate(-90)" x="0" y="0" font-size="10" text-anchor="middle" fill="#000" font-weight="bold" stroke="#000" stroke-width="0.22">Voltage (V)</text>
<text x="4.6" y="10.6" font-size="12.6" text-anchor="start" fill="#000" font-weight="bold" stroke="#000" stroke-width="0.22">a</text>
<text x="34.4" y="26.9" font-size="10.8" text-anchor="start" fill="#000" font-weight="bold" stroke="#000" stroke-width="0.22">LMO</text>
<text x="112.6" y="25.2" font-size="8.1" text-anchor="start" fill="#000" font-weight="bold" stroke="#000" stroke-width="0.22">10C</text>
<text x="133.6" y="25.2" font-size="8.1" text-anchor="start" fill="#000" font-weight="bold" stroke="#000" stroke-width="0.22">5C</text>
<text x="148.3" y="25.2" font-size="8.1" text-anchor="start" fill="#000" font-weight="bold" stroke="#000" stroke-width="0.22">2C</text>
<text x="162.8" y="25.2" font-size="8.1" text-anchor="start" fill="#000" font-weight="bold" stroke="#000" stroke-width="0.22">1C</text>
<text x="176.1" y="25.2" font-size="8.1" text-anchor="start" fill="#000" font-weight="bold" stroke="#000" stroke-width="0.22">0.5C</text>
<text x="196.2" y="25.2" font-size="8.1" text-anchor="start" fill="#000" font-weight="bold" stroke="#000" stroke-width="0.22">0.2C</text>
<line x1="77.7" y1="27.5" x2="214.2" y2="27.5" stroke="#3a3a3a" stroke-width="1"/>
<path d="M73.7,27.5 L78.3,25.8 L77.5,27.5 L78.3,29.2 Z" fill="#111"/>
<line x1="258.3" y1="13.2" x2="444.3" y2="13.2" stroke="#b8b8b8" stroke-width="1.2"/>
<line x1="444.3" y1="13.2" x2="444.3" y2="166.3" stroke="#8a8a8a" stroke-width="1.1"/>
<line x1="258.3" y1="13.2" x2="258.3" y2="166.3" stroke="#b4b4b4" stroke-width="1.5"/>
<line x1="257.7" y1="166.3" x2="444.8" y2="166.3" stroke="#555" stroke-width="1.1"/>
<path d="M258.7,155.5 L258.75,146.44 L258.8,137.41 L258.85,129.14 L258.9,122.34 L258.95,117.76 L259,115.27 L259.03,113.93 L259.05,113.05 L259.1,111 L259.15,109.11 L259.2,107.37 L259.25,105.78 L259.3,104.35 L259.35,103.05 L259.36,102.81 L259.4,101.89 L259.46,100.86 L259.51,99.96 L259.56,99.18 L259.61,98.52 L259.66,97.98 L259.7,97.63 L259.71,97.55 L259.76,97.22 L259.81,96.95 L259.86,96.69 L259.91,96.45 L259.96,96.21 L260.01,95.98 L260.03,95.89 L260.06,95.75 L260.11,95.54 L260.16,95.33 L260.21,95.14 L260.26,94.95 L260.31,94.76 L260.36,94.59 L260.36,94.59 L260.41,94.42 L260.46,94.26 L260.51,94.1 L260.57,93.95 L260.62,93.81 L260.67,93.67 L260.7,93.6 L260.72,93.54 L260.77,93.42 L260.82,93.3 L260.87,93.18 L260.92,93.07 L260.97,92.96 L261.02,92.86 L261.03,92.84 L261.07,92.76 L261.12,92.67 L261.17,92.58 L261.22,92.49 L261.27,92.4 L261.32,92.32 L261.36,92.26 L261.37,92.24 L261.42,92.17 L261.47,92.09 L261.52,92.02 L261.57,91.95 L261.62,91.88 L261.68,91.81 L261.69,91.79 L261.73,91.75 L261.78,91.68 L261.83,91.62 L261.88,91.55 L261.93,91.49 L261.98,91.42 L262.03,91.36 L262.03,91.36 L262.08,91.3 L262.13,91.23 L262.18,91.17 L262.23,91.11 L262.28,91.05 L262.33,90.98 L262.36,90.95 L262.38,90.92 L262.43,90.86 L262.48,90.81 L262.53,90.75 L262.58,90.69 L262.63,90.63 L262.68,90.58 L262.69,90.57 L263.03,90.21 L263.36,89.87 L263.69,89.56 L264.02,89.27 L264.36,88.99 L264.69,88.73 L265.02,88.49 L265.35,88.26 L265.69,88.05 L266.02,87.84 L266.35,87.64 L266.69,87.45 L267.02,87.26 L267.35,87.08 L267.68,86.9 L268.02,86.71 L268.35,86.53 L268.68,86.34 L269.02,86.15 L269.35,85.96 L269.68,85.77 L270.01,85.59 L270.35,85.41 L270.68,85.23 L271.01,85.06 L271.35,84.89 L271.68,84.72 L272.01,84.56 L272.34,84.39 L272.68,84.23 L273.01,84.08 L273.34,83.92 L273.67,83.77 L274.01,83.62 L274.34,83.47 L274.67,83.32 L275.01,83.18 L275.34,83.03 L275.67,82.89 L276,82.75 L276.34,82.61 L276.67,82.47 L277,82.32 L277.34,82.19 L277.67,82.05 L278,81.91 L278.33,81.77 L278.67,81.63 L279,81.49 L279.33,81.35 L279.67,81.2 L280,81.06 L280.33,80.92 L280.66,80.78 L281,80.64 L281.33,80.51 L281.66,80.37 L282,80.23 L282.33,80.1 L282.66,79.96 L282.99,79.83 L283.33,79.69 L283.66,79.56 L283.99,79.43 L284.32,79.3 L284.66,79.16 L284.99,79.03 L285.32,78.9 L285.66,78.77 L285.99,78.64 L286.32,78.51 L286.65,78.39 L286.99,78.26 L287.32,78.13 L287.65,78 L287.99,77.88 L288.32,77.75 L288.65,77.62 L288.98,77.5 L289.32,77.37 L289.65,77.25 L289.98,77.12 L290.32,77 L290.65,76.88 L290.98,76.75 L291.31,76.63 L291.65,76.51 L291.98,76.38 L292.31,76.26 L292.65,76.14 L292.98,76.02 L293.31,75.89 L293.64,75.77 L293.98,75.65 L294.31,75.53 L294.64,75.41 L294.97,75.28 L295.31,75.16 L295.64,75.04 L295.97,74.92 L296.31,74.8 L296.64,74.67 L296.97,74.55 L297.3,74.43 L297.64,74.31 L297.97,74.19 L298.3,74.07 L298.64,73.94 L298.97,73.82 L299.3,73.7 L299.63,73.58 L299.97,73.46 L300.3,73.34 L300.63,73.22 L300.97,73.1 L301.3,72.98 L301.63,72.87 L301.96,72.75 L302.3,72.63 L302.63,72.51 L302.96,72.4 L303.3,72.28 L303.63,72.16 L303.96,72.05 L304.29,71.94 L304.63,71.82 L304.96,71.71 L305.29,71.6 L305.62,71.49 L305.96,71.38 L306.29,71.27 L306.62,71.16 L306.96,71.05 L307.29,70.94 L307.62,70.83 L307.95,70.73 L308.29,70.62 L308.62,70.52 L308.95,70.42 L309.29,70.32 L309.62,70.22 L309.95,70.12 L310.28,70.02 L310.62,69.92 L310.95,69.83 L311.28,69.74 L311.62,69.65 L311.95,69.56 L312.28,69.47 L312.61,69.39 L312.95,69.31 L313.28,69.22 L313.61,69.14 L313.94,69.06 L314.28,68.98 L314.61,68.9 L314.94,68.82 L315.28,68.74 L315.61,68.66 L315.94,68.58 L316.27,68.5 L316.61,68.42 L316.94,68.33 L317.27,68.25 L317.61,68.16 L317.94,68.07 L318.27,67.98 L318.6,67.89 L318.94,67.8 L319.27,67.7 L319.6,67.6 L319.94,67.5 L320.27,67.4 L320.6,67.29 L320.93,67.19 L321.27,67.08 L321.6,66.97 L321.93,66.85 L322.27,66.74 L322.6,66.62 L322.93,66.51 L323.26,66.39 L323.6,66.27 L323.93,66.14 L324.26,66.02 L324.59,65.9 L324.93,65.77 L325.26,65.64 L325.59,65.51 L325.93,65.38 L326.26,65.25 L326.59,65.11 L326.92,64.98 L327.26,64.84 L327.59,64.7 L327.92,64.56 L328.26,64.42 L328.59,64.28 L328.92,64.14 L329.25,64 L329.59,63.85 L329.92,63.7 L330.25,63.56 L330.59,63.41 L330.92,63.26 L331.25,63.11 L331.58,62.96 L331.92,62.8 L332.25,62.65 L332.58,62.49 L332.92,62.33 L333.25,62.17 L333.58,62 L333.91,61.83 L334.25,61.66 L334.58,61.49 L334.91,61.31 L335.24,61.12 L335.58,60.93 L335.91,60.74 L336.24,60.54 L336.58,60.34 L336.91,60.13 L337.24,59.92 L337.57,59.69 L337.91,59.45 L338.24,59.2 L338.57,58.94 L338.91,58.66 L339.24,58.38 L339.57,58.1 L339.9,57.81 L340.24,57.51 L340.57,57.22 L340.9,56.91 L341.24,56.61 L341.57,56.3 L341.9,55.98 L342.23,55.67 L342.57,55.35 L342.9,55.02 L343.23,54.69 L343.56,54.36 L343.9,54.02 L344.23,53.68 L344.56,53.33 L344.9,52.98 L345.23,52.63 L345.56,52.27 L345.89,51.9 L346.23,51.54 L346.56,51.17 L346.89,50.79 L347.23,50.41 L347.56,50.02 L347.58,50 L347.71,49.84 L347.85,49.68 L347.89,49.64 L347.98,49.53 L348.12,49.37 L348.22,49.24 L348.25,49.21 L348.39,49.05 L348.52,48.89 L348.56,48.84 L348.66,48.72 L348.79,48.56 L348.89,48.44 L348.93,48.4 L349.06,48.23 L349.19,48.07 L349.22,48.03 L349.33,47.9 L349.46,47.73 L349.56,47.62 L349.6,47.57 L349.73,47.4 L349.87,47.23 L349.89,47.2 L350,47.06 L350.14,46.89 L350.22,46.78 L350.27,46.72 L350.41,46.54 L350.54,46.37 L350.55,46.35 L350.67,46.19 L350.81,46.02 L350.89,45.91 L350.94,45.84 L351.08,45.66 L351.21,45.48 L351.22,45.47 L351.35,45.29 L351.48,45.11 L351.55,45.01 L351.62,44.92 L351.75,44.74 L351.89,44.55 L351.89,44.55 L352.02,44.36 L352.15,44.17 L352.22,44.08 L352.29,43.98 L352.42,43.78 L352.55,43.6 L352.56,43.59 L352.69,43.39 L352.83,43.2 L352.88,43.12 L352.96,43 L353.1,42.8 L353.22,42.62 L353.23,42.6 L353.37,42.4 L353.5,42.2 L353.55,42.12 L353.63,41.99 L353.77,41.79 L353.88,41.62 L353.9,41.58 L354.04,41.38 L354.17,41.17 L354.21,41.1 L354.31,40.96 L354.44,40.75 L354.55,40.58 L354.58,40.54 L354.71,40.33 L354.85,40.11 L354.88,40.06 L354.98,39.9 L355.11,39.69 L355.21,39.53 L355.25,39.47 L355.38,39.25 L355.52,39.03 L355.55,38.99 L355.65,38.82 L355.79,38.6 L355.88,38.45 L355.92,38.38 L356.06,38.15 L356.19,37.93 L356.21,37.9 L356.33,37.71 L356.46,37.48 L356.54,37.34 L356.59,37.26 L356.73,37.03 L356.86,36.81 L356.88,36.78 L357,36.58 L357.13,36.35 L357.21,36.22 L357.27,36.12 L357.4,35.89 L357.54,35.66 L357.54,35.65 L357.67,35.43 L357.8,35.2 L357.88,35.08 L357.94,34.97 L358.07,34.73 L358.21,34.5" fill="none" stroke="#fde2a0" stroke-width="1.3" stroke-linejoin="round" stroke-linecap="butt"/>
<path d="M258.7,34.5 L258.75,38.19 L258.8,41.84 L258.85,45.24 L258.9,48.19 L258.95,50.51 L259,52.23 L259.03,53.23 L259.05,53.85 L259.1,55.39 L259.15,56.84 L259.2,58.22 L259.25,59.51 L259.3,60.72 L259.35,61.84 L259.37,62.09 L259.4,62.88 L259.46,63.82 L259.51,64.67 L259.56,65.43 L259.61,66.09 L259.66,66.65 L259.7,67.05 L259.71,67.12 L259.76,67.48 L259.81,67.78 L259.86,68.07 L259.91,68.36 L259.96,68.63 L260.01,68.9 L260.03,69.02 L260.06,69.16 L260.11,69.41 L260.16,69.65 L260.21,69.89 L260.26,70.11 L260.31,70.33 L260.36,70.55 L260.37,70.56 L260.41,70.75 L260.46,70.95 L260.51,71.14 L260.57,71.32 L260.62,71.5 L260.67,71.67 L260.7,71.79 L260.72,71.84 L260.77,72 L260.82,72.15 L260.87,72.3 L260.92,72.44 L260.97,72.57 L261.02,72.7 L261.03,72.74 L261.07,72.83 L261.12,72.95 L261.17,73.07 L261.22,73.18 L261.27,73.28 L261.32,73.39 L261.37,73.47 L261.37,73.48 L261.42,73.58 L261.47,73.67 L261.52,73.75 L261.57,73.83 L261.62,73.91 L261.68,73.99 L261.7,74.03 L261.73,74.06 L261.78,74.13 L261.83,74.2 L261.88,74.26 L261.93,74.32 L261.98,74.38 L262.03,74.44 L262.04,74.45 L262.08,74.5 L262.13,74.55 L262.18,74.6 L262.23,74.66 L262.28,74.71 L262.33,74.76 L262.37,74.8 L262.38,74.81 L262.43,74.87 L262.48,74.92 L262.53,74.97 L262.58,75.01 L262.63,75.06 L262.68,75.11 L262.7,75.13 L263.04,75.42 L263.37,75.69 L263.7,75.94 L264.04,76.17 L264.37,76.37 L264.71,76.56 L265.04,76.74 L265.37,76.9 L265.71,77.06 L266.04,77.2 L266.37,77.34 L266.71,77.48 L267.04,77.62 L267.37,77.76 L267.71,77.9 L268.04,78.05 L268.38,78.21 L268.71,78.38 L269.04,78.56 L269.38,78.75 L269.71,78.93 L270.04,79.11 L270.38,79.29 L270.71,79.47 L271.05,79.65 L271.38,79.83 L271.71,80.01 L272.05,80.18 L272.38,80.36 L272.71,80.53 L273.05,80.71 L273.38,80.88 L273.71,81.05 L274.05,81.22 L274.38,81.4 L274.72,81.57 L275.05,81.74 L275.38,81.91 L275.72,82.08 L276.05,82.24 L276.38,82.41 L276.72,82.58 L277.05,82.75 L277.39,82.92 L277.72,83.08 L278.05,83.25 L278.39,83.42 L278.72,83.58 L279.05,83.75 L279.39,83.92 L279.72,84.08 L280.06,84.25 L280.39,84.41 L280.72,84.58 L281.06,84.74 L281.39,84.91 L281.72,85.07 L282.06,85.23 L282.39,85.4 L282.72,85.56 L283.06,85.72 L283.39,85.88 L283.73,86.04 L284.06,86.21 L284.39,86.37 L284.73,86.53 L285.06,86.69 L285.39,86.85 L285.73,87.01 L286.06,87.17 L286.4,87.33 L286.73,87.49 L287.06,87.64 L287.4,87.8 L287.73,87.96 L288.06,88.12 L288.4,88.28 L288.73,88.44 L289.07,88.59 L289.4,88.75 L289.73,88.91 L290.07,89.06 L290.4,89.22 L290.73,89.38 L291.07,89.53 L291.4,89.69 L291.73,89.84 L292.07,90 L292.4,90.16 L292.74,90.31 L293.07,90.47 L293.4,90.62 L293.74,90.78 L294.07,90.93 L294.4,91.09 L294.74,91.24 L295.07,91.4 L295.41,91.55 L295.74,91.7 L296.07,91.86 L296.41,92.01 L296.74,92.17 L297.07,92.32 L297.41,92.48 L297.74,92.63 L298.07,92.78 L298.41,92.94 L298.74,93.09 L299.08,93.24 L299.41,93.4 L299.74,93.55 L300.08,93.7 L300.41,93.85 L300.74,94.01 L301.08,94.16 L301.41,94.31 L301.75,94.46 L302.08,94.62 L302.41,94.77 L302.75,94.92 L303.08,95.07 L303.41,95.22 L303.75,95.37 L304.08,95.52 L304.42,95.67 L304.75,95.82 L305.08,95.97 L305.42,96.12 L305.75,96.27 L306.08,96.42 L306.42,96.57 L306.75,96.72 L307.08,96.87 L307.42,97.02 L307.75,97.17 L308.09,97.32 L308.42,97.47 L308.75,97.61 L309.09,97.76 L309.42,97.91 L309.75,98.06 L310.09,98.2 L310.42,98.35 L310.76,98.5 L311.09,98.64 L311.42,98.79 L311.76,98.93 L312.09,99.08 L312.42,99.22 L312.76,99.37 L313.09,99.51 L313.43,99.66 L313.76,99.8 L314.09,99.95 L314.43,100.09 L314.76,100.23 L315.09,100.37 L315.43,100.5 L315.76,100.64 L316.09,100.77 L316.43,100.9 L316.76,101.03 L317.1,101.15 L317.43,101.28 L317.76,101.41 L318.1,101.53 L318.43,101.65 L318.76,101.78 L319.1,101.9 L319.43,102.02 L319.77,102.14 L320.1,102.26 L320.43,102.38 L320.77,102.5 L321.1,102.63 L321.43,102.75 L321.77,102.87 L322.1,103 L322.43,103.12 L322.77,103.25 L323.1,103.37 L323.44,103.5 L323.77,103.63 L324.1,103.76 L324.44,103.9 L324.77,104.03 L325.1,104.17 L325.44,104.31 L325.77,104.45 L326.11,104.6 L326.44,104.75 L326.77,104.9 L327.11,105.05 L327.44,105.21 L327.77,105.37 L328.11,105.53 L328.44,105.7 L328.78,105.87 L329.11,106.04 L329.44,106.22 L329.78,106.4 L330.11,106.59 L330.44,106.78 L330.78,106.99 L331.11,107.2 L331.44,107.42 L331.78,107.65 L332.11,107.88 L332.45,108.13 L332.78,108.38 L333.11,108.64 L333.45,108.9 L333.78,109.17 L334.11,109.44 L334.45,109.72 L334.78,110 L335.12,110.29 L335.45,110.58 L335.78,110.88 L336.12,111.17 L336.45,111.47 L336.78,111.78 L337.12,112.08 L337.45,112.39 L337.79,112.69 L338.12,113 L338.45,113.31 L338.79,113.63 L339.12,113.96 L339.45,114.29 L339.79,114.63 L340.12,114.98 L340.45,115.34 L340.79,115.71 L341.12,116.1 L341.46,116.5 L341.79,116.92 L342.12,117.35 L342.46,117.81 L342.79,118.28 L343.12,118.79 L343.46,119.34 L343.79,119.92 L344.13,120.53 L344.46,121.17 L344.79,121.84 L345.13,122.53 L345.46,123.25 L345.79,123.99 L346.13,124.75 L346.46,125.53 L346.79,126.32 L347.13,127.13 L347.46,127.94 L347.8,128.77 L347.85,128.89 L347.98,129.23 L348.11,129.56 L348.13,129.6 L348.25,129.9 L348.38,130.24 L348.46,130.44 L348.52,130.57 L348.65,130.91 L348.79,131.25 L348.8,131.27 L348.92,131.59 L349.06,131.93 L349.13,132.11 L349.19,132.27 L349.33,132.6 L349.46,132.94 L349.46,132.95 L349.59,133.28 L349.73,133.62 L349.8,133.79 L349.86,133.95 L350,134.29 L350.13,134.62 L350.13,134.62 L350.27,134.95 L350.4,135.28 L350.47,135.44 L350.54,135.61 L350.67,135.94 L350.8,136.25 L350.81,136.26 L350.94,136.59 L351.07,136.91 L351.13,137.05 L351.21,137.23 L351.34,137.55 L351.47,137.84 L351.48,137.87 L351.61,138.19 L351.75,138.51 L351.8,138.64 L351.88,138.84 L352.02,139.16 L352.13,139.44 L352.15,139.48 L352.29,139.81 L352.42,140.13 L352.47,140.25 L352.55,140.46 L352.69,140.79 L352.8,141.06 L352.82,141.12 L352.96,141.44 L353.09,141.77 L353.14,141.88 L353.23,142.1 L353.36,142.44 L353.47,142.7 L353.5,142.77 L353.63,143.1 L353.77,143.43 L353.8,143.52 L353.9,143.77 L354.03,144.1 L354.14,144.35 L354.17,144.44 L354.3,144.77 L354.44,145.11 L354.47,145.19 L354.57,145.44 L354.71,145.78 L354.8,146.03 L354.84,146.12 L354.98,146.46 L355.11,146.8 L355.14,146.87 L355.25,147.14 L355.38,147.48 L355.47,147.71 L355.51,147.82 L355.65,148.17 L355.78,148.51 L355.8,148.56 L355.92,148.85 L356.05,149.2 L356.14,149.42 L356.19,149.54 L356.32,149.89 L356.46,150.23 L356.47,150.28 L356.59,150.58 L356.73,150.93 L356.81,151.14 L356.86,151.28 L356.99,151.63 L357.13,151.97 L357.14,152 L357.26,152.32 L357.4,152.68 L357.47,152.87 L357.53,153.03 L357.67,153.38 L357.8,153.73 L357.81,153.74 L357.94,154.08 L358.07,154.44 L358.14,154.62 L358.21,154.79 L358.34,155.14 L358.47,155.5" fill="none" stroke="#fde2a0" stroke-width="1.3" stroke-linejoin="round" stroke-linecap="butt"/>
<path d="M258.96,155.5 L259.01,147.81 L259.07,140.16 L259.12,133.13 L259.17,127.29 L259.22,123.21 L259.27,120.82 L259.32,118.67 L259.37,116.68 L259.39,115.8 L259.42,114.83 L259.47,113.14 L259.52,111.58 L259.57,110.17 L259.62,108.88 L259.67,107.72 L259.72,106.68 L259.77,105.76 L259.82,105 L259.82,104.95 L259.87,104.24 L259.92,103.64 L259.97,103.14 L260.02,102.72 L260.07,102.37 L260.12,102.02 L260.18,101.68 L260.23,101.36 L260.25,101.24 L260.28,101.05 L260.33,100.75 L260.38,100.45 L260.43,100.17 L260.48,99.9 L260.53,99.64 L260.58,99.39 L260.63,99.15 L260.67,98.95 L260.68,98.91 L260.73,98.69 L260.78,98.47 L260.83,98.27 L260.88,98.07 L260.93,97.88 L260.98,97.69 L261.03,97.52 L261.08,97.35 L261.1,97.3 L261.13,97.19 L261.18,97.04 L261.23,96.89 L261.29,96.75 L261.34,96.62 L261.39,96.49 L261.44,96.37 L261.49,96.26 L261.53,96.17 L261.54,96.15 L261.59,96.04 L261.64,95.94 L261.69,95.85 L261.74,95.76 L261.79,95.67 L261.84,95.59 L261.89,95.51 L261.94,95.44 L261.95,95.42 L261.99,95.37 L262.04,95.3 L262.09,95.24 L262.14,95.17 L262.19,95.11 L262.24,95.04 L262.29,94.98 L262.34,94.92 L262.38,94.87 L262.4,94.86 L262.45,94.8 L262.5,94.74 L262.55,94.68 L262.6,94.62 L262.65,94.56 L262.7,94.5 L262.75,94.45 L262.8,94.39 L262.81,94.38 L262.85,94.34 L262.9,94.28 L262.95,94.23 L263.23,93.94 L263.66,93.55 L264.09,93.2 L264.52,92.88 L264.94,92.59 L265.37,92.34 L265.8,92.1 L266.22,91.88 L266.65,91.68 L267.08,91.48 L267.5,91.28 L267.93,91.09 L268.36,90.89 L268.79,90.67 L269.21,90.45 L269.64,90.23 L270.07,90.02 L270.49,89.82 L270.92,89.61 L271.35,89.42 L271.77,89.22 L272.2,89.04 L272.63,88.85 L273.06,88.67 L273.48,88.49 L273.91,88.32 L274.34,88.15 L274.76,87.98 L275.19,87.81 L275.62,87.65 L276.04,87.49 L276.47,87.33 L276.9,87.17 L277.33,87.01 L277.75,86.86 L278.18,86.7 L278.61,86.54 L279.03,86.39 L279.46,86.24 L279.89,86.08 L280.31,85.93 L280.74,85.78 L281.17,85.63 L281.6,85.48 L282.02,85.33 L282.45,85.19 L282.88,85.05 L283.3,84.9 L283.73,84.76 L284.16,84.63 L284.58,84.49 L285.01,84.35 L285.44,84.21 L285.87,84.08 L286.29,83.95 L286.72,83.81 L287.15,83.68 L287.57,83.55 L288,83.42 L288.43,83.29 L288.85,83.16 L289.28,83.03 L289.71,82.9 L290.14,82.77 L290.56,82.64 L290.99,82.51 L291.42,82.38 L291.84,82.25 L292.27,82.12 L292.7,82 L293.13,81.87 L293.55,81.75 L293.98,81.63 L294.41,81.5 L294.83,81.38 L295.26,81.26 L295.69,81.14 L296.11,81.03 L296.54,80.91 L296.97,80.79 L297.4,80.67 L297.82,80.56 L298.25,80.44 L298.68,80.32 L299.1,80.21 L299.53,80.09 L299.96,79.98 L300.38,79.86 L300.81,79.74 L301.24,79.63 L301.67,79.51 L302.09,79.39 L302.52,79.28 L302.95,79.16 L303.37,79.04 L303.8,78.92 L304.23,78.8 L304.65,78.68 L305.08,78.56 L305.51,78.44 L305.94,78.32 L306.36,78.19 L306.79,78.07 L307.22,77.94 L307.64,77.82 L308.07,77.69 L308.5,77.56 L308.92,77.43 L309.35,77.29 L309.78,77.15 L310.21,77 L310.63,76.85 L311.06,76.69 L311.49,76.54 L311.91,76.38 L312.34,76.22 L312.77,76.07 L313.19,75.91 L313.62,75.76 L314.05,75.6 L314.48,75.45 L314.9,75.31 L315.33,75.16 L315.76,75.03 L316.18,74.9 L316.61,74.77 L317.04,74.65 L317.46,74.54 L317.89,74.44 L318.32,74.35 L318.75,74.26 L319.17,74.17 L319.6,74.09 L320.03,74.01 L320.45,73.94 L320.88,73.86 L321.31,73.79 L321.73,73.72 L322.16,73.65 L322.59,73.59 L323.02,73.52 L323.44,73.46 L323.87,73.4 L324.3,73.34 L324.72,73.28 L325.15,73.22 L325.58,73.16 L326,73.09 L326.43,73.03 L326.86,72.97 L327.29,72.91 L327.71,72.84 L328.14,72.77 L328.57,72.7 L328.99,72.63 L329.42,72.56 L329.85,72.49 L330.27,72.41 L330.7,72.33 L331.13,72.25 L331.56,72.17 L331.98,72.09 L332.41,72 L332.84,71.92 L333.26,71.83 L333.69,71.75 L334.12,71.66 L334.54,71.58 L334.97,71.49 L335.4,71.4 L335.83,71.31 L336.25,71.22 L336.68,71.13 L337.11,71.04 L337.53,70.94 L337.96,70.85 L338.39,70.76 L338.81,70.66 L339.24,70.57 L339.67,70.47 L340.1,70.37 L340.52,70.27 L340.95,70.17 L341.38,70.07 L341.8,69.96 L342.23,69.86 L342.66,69.75 L343.09,69.64 L343.51,69.53 L343.94,69.42 L344.37,69.3 L344.79,69.19 L345.22,69.07 L345.65,68.95 L346.07,68.83 L346.5,68.71 L346.93,68.59 L347.36,68.48 L347.78,68.36 L348.21,68.23 L348.64,68.11 L349.06,67.99 L349.49,67.86 L349.92,67.74 L350.34,67.61 L350.77,67.48 L351.2,67.35 L351.63,67.22 L352.05,67.09 L352.48,66.95 L352.91,66.81 L353.33,66.67 L353.76,66.53 L354.19,66.39 L354.61,66.24 L355.04,66.09 L355.47,65.94 L355.9,65.78 L356.32,65.62 L356.75,65.46 L357.18,65.3 L357.6,65.13 L358.03,64.96 L358.46,64.78 L358.88,64.61 L359.31,64.42 L359.74,64.24 L360.17,64.05 L360.59,63.85 L361.02,63.66 L361.45,63.45 L361.87,63.24 L362.3,63.02 L362.73,62.8 L363.15,62.57 L363.58,62.33 L364.01,62.09 L364.44,61.84 L364.86,61.58 L365.29,61.31 L365.72,61.03 L366.14,60.73 L366.57,60.4 L367,60.06 L367.42,59.71 L367.85,59.34 L368.28,58.96 L368.71,58.57 L369.13,58.17 L369.56,57.76 L369.99,57.35 L370.41,56.94 L370.84,56.52 L371.27,56.09 L371.69,55.66 L372.12,55.22 L372.55,54.78 L372.98,54.32 L373.4,53.86 L373.83,53.4 L374.26,52.92 L374.68,52.44 L375.11,51.95 L375.54,51.45 L375.96,50.94 L376.01,50.88 L376.15,50.72 L376.28,50.56 L376.39,50.43 L376.42,50.4 L376.55,50.23 L376.68,50.07 L376.82,49.9 L376.82,49.9 L376.95,49.74 L377.09,49.57 L377.22,49.4 L377.25,49.37 L377.36,49.23 L377.49,49.06 L377.63,48.89 L377.67,48.83 L377.76,48.72 L377.89,48.55 L378.03,48.37 L378.1,48.28 L378.16,48.2 L378.3,48.02 L378.43,47.85 L378.53,47.72 L378.57,47.67 L378.7,47.49 L378.84,47.31 L378.95,47.15 L378.97,47.13 L379.11,46.95 L379.24,46.77 L379.37,46.59 L379.38,46.58 L379.51,46.4 L379.64,46.22 L379.78,46.03 L379.81,45.99 L379.91,45.85 L380.05,45.66 L380.18,45.47 L380.23,45.4 L380.32,45.28 L380.45,45.09 L380.59,44.9 L380.66,44.79 L380.72,44.7 L380.85,44.51 L380.99,44.31 L381.09,44.16 L381.12,44.11 L381.26,43.91 L381.39,43.7 L381.52,43.51 L381.53,43.49 L381.66,43.28 L381.8,43.07 L381.93,42.86 L381.94,42.84 L382.07,42.65 L382.2,42.43 L382.33,42.21 L382.37,42.16 L382.47,41.99 L382.6,41.77 L382.74,41.55 L382.8,41.45 L382.87,41.32 L383.01,41.1 L383.14,40.87 L383.22,40.73 L383.28,40.64 L383.41,40.41 L383.55,40.18 L383.65,39.99 L383.68,39.94 L383.81,39.71 L383.95,39.47 L384.08,39.24 L384.08,39.23 L384.22,38.99 L384.35,38.75 L384.49,38.51 L384.5,38.48 L384.62,38.27 L384.76,38.02 L384.89,37.78 L384.93,37.7 L385.03,37.53 L385.16,37.28 L385.29,37.03 L385.36,36.92 L385.43,36.78 L385.56,36.53 L385.7,36.28 L385.79,36.12 L385.83,36.03 L385.97,35.78 L386.1,35.52 L386.21,35.31 L386.24,35.27 L386.37,35.01 L386.51,34.76 L386.64,34.5" fill="none" stroke="#fbc43e" stroke-width="1.3" stroke-linejoin="round" stroke-linecap="butt"/>
<path d="M258.83,34.5 L258.88,36.84 L258.93,39.13 L258.98,41.3 L259.03,43.3 L259.08,45.07 L259.13,46.64 L259.18,48.18 L259.24,49.69 L259.26,50.32 L259.29,51.17 L259.34,52.58 L259.39,53.94 L259.44,55.22 L259.49,56.41 L259.54,57.51 L259.59,58.49 L259.64,59.36 L259.68,59.99 L259.69,60.1 L259.74,60.69 L259.79,61.15 L259.84,61.59 L259.89,62.02 L259.94,62.43 L259.99,62.84 L260.04,63.23 L260.09,63.62 L260.11,63.71 L260.14,63.99 L260.19,64.35 L260.24,64.7 L260.29,65.05 L260.34,65.38 L260.4,65.7 L260.45,66.01 L260.5,66.32 L260.53,66.52 L260.55,66.61 L260.6,66.89 L260.65,67.17 L260.7,67.44 L260.75,67.69 L260.8,67.94 L260.85,68.18 L260.9,68.41 L260.95,68.63 L260.96,68.65 L261,68.84 L261.05,69.05 L261.1,69.25 L261.15,69.44 L261.2,69.62 L261.25,69.79 L261.3,69.96 L261.35,70.12 L261.38,70.2 L261.4,70.27 L261.45,70.41 L261.51,70.55 L261.56,70.68 L261.61,70.8 L261.66,70.92 L261.71,71.03 L261.76,71.13 L261.8,71.22 L261.81,71.23 L261.86,71.32 L261.91,71.4 L261.96,71.48 L262.01,71.56 L262.06,71.62 L262.11,71.69 L262.16,71.76 L262.21,71.83 L262.23,71.85 L262.26,71.89 L262.31,71.96 L262.36,72.02 L262.41,72.08 L262.46,72.15 L262.51,72.21 L262.56,72.27 L262.62,72.33 L262.65,72.37 L262.67,72.39 L262.72,72.44 L262.77,72.5 L262.82,72.56 L263.08,72.84 L263.5,73.26 L263.93,73.64 L264.35,73.97 L264.78,74.27 L265.2,74.54 L265.63,74.78 L266.05,75.01 L266.48,75.21 L266.9,75.4 L267.33,75.59 L267.75,75.77 L268.18,75.95 L268.6,76.15 L269.03,76.35 L269.45,76.55 L269.88,76.74 L270.3,76.93 L270.73,77.1 L271.15,77.28 L271.58,77.44 L272,77.61 L272.42,77.76 L272.85,77.92 L273.27,78.07 L273.7,78.21 L274.12,78.36 L274.55,78.5 L274.97,78.64 L275.4,78.77 L275.82,78.91 L276.25,79.05 L276.67,79.19 L277.1,79.32 L277.52,79.46 L277.95,79.6 L278.37,79.74 L278.8,79.89 L279.22,80.03 L279.65,80.18 L280.07,80.33 L280.5,80.49 L280.92,80.64 L281.35,80.79 L281.77,80.94 L282.19,81.1 L282.62,81.25 L283.04,81.4 L283.47,81.56 L283.89,81.71 L284.32,81.86 L284.74,82.01 L285.17,82.16 L285.59,82.3 L286.02,82.45 L286.44,82.59 L286.87,82.73 L287.29,82.87 L287.72,83.01 L288.14,83.15 L288.57,83.28 L288.99,83.41 L289.42,83.54 L289.84,83.67 L290.27,83.8 L290.69,83.93 L291.12,84.06 L291.54,84.18 L291.96,84.31 L292.39,84.43 L292.81,84.56 L293.24,84.68 L293.66,84.8 L294.09,84.93 L294.51,85.05 L294.94,85.17 L295.36,85.29 L295.79,85.41 L296.21,85.53 L296.64,85.64 L297.06,85.76 L297.49,85.88 L297.91,85.99 L298.34,86.11 L298.76,86.23 L299.19,86.34 L299.61,86.46 L300.04,86.57 L300.46,86.68 L300.89,86.8 L301.31,86.91 L301.73,87.02 L302.16,87.14 L302.58,87.25 L303.01,87.36 L303.43,87.47 L303.86,87.58 L304.28,87.7 L304.71,87.81 L305.13,87.92 L305.56,88.03 L305.98,88.14 L306.41,88.25 L306.83,88.37 L307.26,88.48 L307.68,88.59 L308.11,88.7 L308.53,88.81 L308.96,88.92 L309.38,89.04 L309.81,89.15 L310.23,89.26 L310.66,89.37 L311.08,89.49 L311.51,89.6 L311.93,89.71 L312.35,89.83 L312.78,89.94 L313.2,90.06 L313.63,90.17 L314.05,90.29 L314.48,90.4 L314.9,90.52 L315.33,90.64 L315.75,90.75 L316.18,90.87 L316.6,90.99 L317.03,91.11 L317.45,91.23 L317.88,91.35 L318.3,91.47 L318.73,91.59 L319.15,91.71 L319.58,91.83 L320,91.96 L320.43,92.08 L320.85,92.2 L321.28,92.33 L321.7,92.45 L322.12,92.57 L322.55,92.7 L322.97,92.82 L323.4,92.95 L323.82,93.07 L324.25,93.2 L324.67,93.32 L325.1,93.44 L325.52,93.57 L325.95,93.69 L326.37,93.82 L326.8,93.94 L327.22,94.07 L327.65,94.19 L328.07,94.32 L328.5,94.44 L328.92,94.56 L329.35,94.69 L329.77,94.81 L330.2,94.93 L330.62,95.06 L331.05,95.18 L331.47,95.3 L331.89,95.42 L332.32,95.54 L332.74,95.67 L333.17,95.79 L333.59,95.91 L334.02,96.03 L334.44,96.15 L334.87,96.27 L335.29,96.39 L335.72,96.51 L336.14,96.63 L336.57,96.75 L336.99,96.87 L337.42,96.99 L337.84,97.11 L338.27,97.23 L338.69,97.35 L339.12,97.47 L339.54,97.6 L339.97,97.72 L340.39,97.84 L340.82,97.96 L341.24,98.09 L341.66,98.21 L342.09,98.33 L342.51,98.46 L342.94,98.59 L343.36,98.71 L343.79,98.84 L344.21,98.97 L344.64,99.09 L345.06,99.22 L345.49,99.35 L345.91,99.47 L346.34,99.6 L346.76,99.72 L347.19,99.84 L347.61,99.96 L348.04,100.09 L348.46,100.22 L348.89,100.35 L349.31,100.49 L349.74,100.63 L350.16,100.78 L350.59,100.93 L351.01,101.1 L351.44,101.27 L351.86,101.45 L352.28,101.63 L352.71,101.83 L353.13,102.02 L353.56,102.23 L353.98,102.44 L354.41,102.66 L354.83,102.89 L355.26,103.12 L355.68,103.36 L356.11,103.6 L356.53,103.85 L356.96,104.11 L357.38,104.38 L357.81,104.65 L358.23,104.93 L358.66,105.21 L359.08,105.5 L359.51,105.8 L359.93,106.1 L360.36,106.41 L360.78,106.73 L361.21,107.05 L361.63,107.39 L362.05,107.74 L362.48,108.12 L362.9,108.51 L363.33,108.92 L363.75,109.35 L364.18,109.8 L364.6,110.27 L365.03,110.76 L365.45,111.26 L365.88,111.78 L366.3,112.33 L366.73,112.9 L367.15,113.49 L367.58,114.11 L368,114.75 L368.43,115.41 L368.85,116.09 L369.28,116.79 L369.7,117.51 L370.13,118.25 L370.55,119.01 L370.98,119.78 L371.4,120.57 L371.82,121.37 L372.25,122.19 L372.67,123.02 L373.1,123.86 L373.52,124.71 L373.95,125.58 L374.37,126.45 L374.8,127.34 L375.21,128.21 L375.22,128.23 L375.35,128.49 L375.48,128.78 L375.62,129.06 L375.65,129.12 L375.75,129.35 L375.89,129.63 L376.02,129.92 L376.07,130.03 L376.16,130.21 L376.29,130.49 L376.43,130.78 L376.5,130.94 L376.56,131.07 L376.69,131.36 L376.83,131.66 L376.92,131.86 L376.96,131.95 L377.1,132.25 L377.23,132.55 L377.35,132.81 L377.37,132.86 L377.5,133.16 L377.64,133.47 L377.77,133.78 L377.77,133.78 L377.91,134.09 L378.04,134.4 L378.17,134.72 L378.2,134.77 L378.31,135.03 L378.44,135.35 L378.58,135.67 L378.62,135.78 L378.71,135.99 L378.85,136.32 L378.98,136.65 L379.05,136.8 L379.12,136.97 L379.25,137.3 L379.38,137.64 L379.47,137.85 L379.52,137.97 L379.65,138.31 L379.79,138.65 L379.9,138.92 L379.92,138.98 L380.06,139.33 L380.19,139.67 L380.32,140 L380.33,140.01 L380.46,140.36 L380.6,140.71 L380.73,141.06 L380.75,141.1 L380.86,141.41 L381,141.77 L381.13,142.12 L381.17,142.22 L381.27,142.48 L381.4,142.84 L381.54,143.2 L381.59,143.35 L381.67,143.56 L381.81,143.92 L381.94,144.29 L382.02,144.5 L382.08,144.65 L382.21,145.02 L382.34,145.39 L382.44,145.67 L382.48,145.76 L382.61,146.14 L382.75,146.51 L382.87,146.85 L382.88,146.89 L383.02,147.26 L383.15,147.64 L383.29,148.02 L383.29,148.04 L383.42,148.4 L383.56,148.79 L383.69,149.17 L383.72,149.25 L383.82,149.56 L383.96,149.94 L384.09,150.33 L384.14,150.48 L384.23,150.72 L384.36,151.11 L384.5,151.51 L384.57,151.71 L384.63,151.9 L384.77,152.3 L384.9,152.69 L384.99,152.96 L385.04,153.09 L385.17,153.49 L385.3,153.89 L385.42,154.23 L385.44,154.29 L385.57,154.69 L385.71,155.1 L385.84,155.5" fill="none" stroke="#fbc43e" stroke-width="1.3" stroke-linejoin="round" stroke-linecap="butt"/>
<path d="M259.89,155.5 L259.94,149.47 L260,143.9 L260.05,139.15 L260.1,135.55 L260.15,132.76 L260.2,130.28 L260.25,128.09 L260.3,126.18 L260.35,124.54 L260.37,123.95 L260.4,123.15 L260.45,121.97 L260.5,120.89 L260.55,119.88 L260.6,118.93 L260.65,118.05 L260.7,117.22 L260.75,116.46 L260.8,115.75 L260.84,115.21 L260.85,115.09 L260.9,114.48 L260.95,113.92 L261,113.4 L261.05,112.92 L261.11,112.47 L261.16,112.04 L261.21,111.64 L261.26,111.24 L261.31,110.87 L261.32,110.79 L261.36,110.51 L261.41,110.16 L261.46,109.83 L261.51,109.52 L261.56,109.21 L261.61,108.93 L261.66,108.65 L261.71,108.4 L261.76,108.15 L261.79,108.01 L261.81,107.92 L261.86,107.7 L261.91,107.5 L261.96,107.3 L262.01,107.12 L262.06,106.95 L262.11,106.78 L262.16,106.62 L262.22,106.46 L262.27,106.31 L262.27,106.3 L262.32,106.15 L262.37,106 L262.42,105.86 L262.47,105.71 L262.52,105.58 L262.57,105.44 L262.62,105.31 L262.67,105.17 L262.72,105.05 L262.74,104.99 L262.77,104.92 L262.82,104.8 L262.87,104.68 L262.92,104.57 L262.97,104.45 L263.02,104.34 L263.07,104.23 L263.12,104.12 L263.17,104.02 L263.22,103.93 L263.22,103.92 L263.27,103.82 L263.33,103.72 L263.38,103.62 L263.43,103.53 L263.48,103.44 L263.53,103.34 L263.58,103.26 L263.63,103.17 L263.68,103.08 L263.69,103.06 L263.73,103 L263.78,102.91 L263.83,102.83 L263.88,102.75 L264.17,102.32 L264.64,101.65 L265.11,101.04 L265.59,100.48 L266.06,99.98 L266.54,99.52 L267.01,99.09 L267.49,98.7 L267.96,98.33 L268.44,97.97 L268.91,97.63 L269.39,97.31 L269.86,96.99 L270.33,96.68 L270.81,96.38 L271.28,96.1 L271.76,95.82 L272.23,95.55 L272.71,95.29 L273.18,95.04 L273.66,94.79 L274.13,94.55 L274.61,94.32 L275.08,94.09 L275.55,93.87 L276.03,93.65 L276.5,93.44 L276.98,93.23 L277.45,93.02 L277.93,92.82 L278.4,92.61 L278.88,92.42 L279.35,92.23 L279.83,92.04 L280.3,91.85 L280.77,91.67 L281.25,91.5 L281.72,91.32 L282.2,91.15 L282.67,90.99 L283.15,90.82 L283.62,90.66 L284.1,90.51 L284.57,90.35 L285.05,90.2 L285.52,90.05 L285.99,89.9 L286.47,89.76 L286.94,89.61 L287.42,89.47 L287.89,89.33 L288.37,89.19 L288.84,89.05 L289.32,88.92 L289.79,88.78 L290.27,88.65 L290.74,88.52 L291.21,88.39 L291.69,88.27 L292.16,88.14 L292.64,88.02 L293.11,87.9 L293.59,87.78 L294.06,87.66 L294.54,87.55 L295.01,87.43 L295.49,87.32 L295.96,87.21 L296.43,87.1 L296.91,87 L297.38,86.89 L297.86,86.79 L298.33,86.68 L298.81,86.58 L299.28,86.48 L299.76,86.38 L300.23,86.29 L300.71,86.19 L301.18,86.09 L301.65,86 L302.13,85.9 L302.6,85.81 L303.08,85.72 L303.55,85.63 L304.03,85.54 L304.5,85.45 L304.98,85.36 L305.45,85.27 L305.93,85.18 L306.4,85.1 L306.88,85.01 L307.35,84.92 L307.82,84.84 L308.3,84.76 L308.77,84.67 L309.25,84.59 L309.72,84.51 L310.2,84.42 L310.67,84.34 L311.15,84.26 L311.62,84.18 L312.1,84.1 L312.57,84.02 L313.04,83.94 L313.52,83.86 L313.99,83.78 L314.47,83.7 L314.94,83.62 L315.42,83.54 L315.89,83.46 L316.37,83.38 L316.84,83.3 L317.32,83.23 L317.79,83.15 L318.26,83.07 L318.74,82.99 L319.21,82.92 L319.69,82.85 L320.16,82.78 L320.64,82.71 L321.11,82.64 L321.59,82.57 L322.06,82.51 L322.54,82.44 L323.01,82.38 L323.48,82.31 L323.96,82.25 L324.43,82.18 L324.91,82.11 L325.38,82.04 L325.86,81.97 L326.33,81.9 L326.81,81.83 L327.28,81.75 L327.76,81.67 L328.23,81.59 L328.7,81.51 L329.18,81.42 L329.65,81.33 L330.13,81.23 L330.6,81.13 L331.08,81.03 L331.55,80.91 L332.03,80.8 L332.5,80.67 L332.98,80.54 L333.45,80.41 L333.92,80.28 L334.4,80.14 L334.87,80 L335.35,79.85 L335.82,79.7 L336.3,79.55 L336.77,79.4 L337.25,79.24 L337.72,79.07 L338.2,78.9 L338.67,78.72 L339.14,78.53 L339.62,78.35 L340.09,78.16 L340.57,77.97 L341.04,77.77 L341.52,77.58 L341.99,77.38 L342.47,77.19 L342.94,76.99 L343.42,76.8 L343.89,76.61 L344.36,76.42 L344.84,76.23 L345.31,76.04 L345.79,75.84 L346.26,75.64 L346.74,75.44 L347.21,75.24 L347.69,75.03 L348.16,74.82 L348.64,74.62 L349.11,74.41 L349.58,74.2 L350.06,74 L350.53,73.8 L351.01,73.61 L351.48,73.41 L351.96,73.23 L352.43,73.05 L352.91,72.87 L353.38,72.7 L353.86,72.54 L354.33,72.39 L354.8,72.25 L355.28,72.12 L355.75,71.99 L356.23,71.87 L356.7,71.76 L357.18,71.64 L357.65,71.54 L358.13,71.43 L358.6,71.33 L359.08,71.23 L359.55,71.14 L360.03,71.05 L360.5,70.96 L360.97,70.87 L361.45,70.78 L361.92,70.69 L362.4,70.61 L362.87,70.52 L363.35,70.43 L363.82,70.35 L364.3,70.26 L364.77,70.17 L365.25,70.08 L365.72,69.99 L366.19,69.89 L366.67,69.8 L367.14,69.7 L367.62,69.59 L368.09,69.49 L368.57,69.38 L369.04,69.26 L369.52,69.14 L369.99,69.02 L370.47,68.89 L370.94,68.76 L371.41,68.62 L371.89,68.49 L372.36,68.35 L372.84,68.21 L373.31,68.07 L373.79,67.92 L374.26,67.77 L374.74,67.61 L375.21,67.45 L375.69,67.29 L376.16,67.12 L376.63,66.95 L377.11,66.78 L377.58,66.59 L378.06,66.41 L378.53,66.22 L379.01,66.02 L379.48,65.82 L379.96,65.61 L380.43,65.39 L380.91,65.17 L381.38,64.92 L381.85,64.66 L382.33,64.39 L382.8,64.1 L383.28,63.79 L383.75,63.48 L384.23,63.15 L384.7,62.81 L385.18,62.47 L385.65,62.1 L386.13,61.73 L386.6,61.33 L387.07,60.93 L387.55,60.5 L388.02,60.06 L388.5,59.6 L388.97,59.12 L389.45,58.62 L389.92,58.1 L390.4,57.56 L390.87,56.99 L391.16,56.64 L391.29,56.47 L391.35,56.4 L391.43,56.3 L391.56,56.13 L391.7,55.95 L391.82,55.78 L391.83,55.77 L391.96,55.59 L392.1,55.41 L392.23,55.22 L392.29,55.14 L392.37,55.04 L392.5,54.85 L392.64,54.66 L392.77,54.47 L392.77,54.46 L392.91,54.27 L393.04,54.07 L393.18,53.87 L393.24,53.77 L393.31,53.67 L393.44,53.46 L393.58,53.25 L393.71,53.04 L393.72,53.04 L393.85,52.83 L393.98,52.62 L394.12,52.4 L394.19,52.28 L394.25,52.18 L394.39,51.96 L394.52,51.74 L394.66,51.51 L394.67,51.49 L394.79,51.29 L394.92,51.06 L395.06,50.82 L395.14,50.68 L395.19,50.59 L395.33,50.35 L395.46,50.11 L395.6,49.87 L395.62,49.83 L395.73,49.63 L395.87,49.38 L396,49.13 L396.09,48.96 L396.14,48.88 L396.27,48.62 L396.4,48.37 L396.54,48.11 L396.57,48.06 L396.67,47.85 L396.81,47.58 L396.94,47.32 L397.04,47.12 L397.08,47.05 L397.21,46.78 L397.35,46.5 L397.48,46.21 L397.51,46.14 L397.62,45.92 L397.75,45.63 L397.88,45.32 L397.99,45.08 L398.02,45.01 L398.15,44.7 L398.29,44.38 L398.42,44.05 L398.46,43.95 L398.56,43.72 L398.69,43.38 L398.83,43.04 L398.94,42.75 L398.96,42.69 L399.09,42.34 L399.23,41.98 L399.36,41.62 L399.41,41.49 L399.5,41.25 L399.63,40.88 L399.77,40.51 L399.89,40.17 L399.9,40.13 L400.04,39.75 L400.17,39.36 L400.31,38.98 L400.36,38.81 L400.44,38.58 L400.57,38.19 L400.71,37.79 L400.84,37.41 L400.84,37.39 L400.98,36.98 L401.11,36.57 L401.25,36.16 L401.31,35.97 L401.38,35.75 L401.52,35.34 L401.65,34.92 L401.79,34.5" fill="none" stroke="#f88e62" stroke-width="1.3" stroke-linejoin="round" stroke-linecap="butt"/>
<path d="M259.23,34.5 L259.28,35.36 L259.33,36.22 L259.38,37.07 L259.43,37.91 L259.48,38.75 L259.53,39.57 L259.58,40.38 L259.63,41.18 L259.68,41.98 L259.7,42.31 L259.73,42.78 L259.78,43.58 L259.84,44.37 L259.89,45.16 L259.94,45.95 L259.99,46.72 L260.04,47.47 L260.09,48.22 L260.14,48.94 L260.18,49.52 L260.19,49.64 L260.24,50.31 L260.29,50.96 L260.34,51.59 L260.39,52.22 L260.44,52.84 L260.49,53.46 L260.54,54.06 L260.59,54.65 L260.64,55.22 L260.65,55.36 L260.69,55.77 L260.74,56.29 L260.79,56.79 L260.84,57.25 L260.89,57.68 L260.95,58.07 L261,58.42 L261.05,58.76 L261.1,59.09 L261.13,59.3 L261.15,59.41 L261.2,59.71 L261.25,60.01 L261.3,60.29 L261.35,60.57 L261.4,60.83 L261.45,61.09 L261.5,61.34 L261.55,61.58 L261.6,61.82 L261.6,61.83 L261.65,62.04 L261.7,62.26 L261.75,62.48 L261.8,62.69 L261.85,62.89 L261.9,63.09 L261.95,63.29 L262,63.48 L262.06,63.67 L262.08,63.77 L262.11,63.86 L262.16,64.05 L262.21,64.23 L262.26,64.41 L262.31,64.59 L262.36,64.77 L262.41,64.94 L262.46,65.11 L262.51,65.28 L262.55,65.43 L262.56,65.44 L262.61,65.6 L262.66,65.76 L262.71,65.91 L262.76,66.06 L262.81,66.21 L262.86,66.35 L262.91,66.49 L262.96,66.62 L263.01,66.75 L263.03,66.8 L263.06,66.88 L263.11,67 L263.17,67.12 L263.22,67.23 L263.5,67.79 L263.98,68.57 L264.45,69.21 L264.93,69.69 L265.4,70.07 L265.88,70.39 L266.35,70.68 L266.83,70.93 L267.3,71.16 L267.78,71.37 L268.25,71.57 L268.73,71.76 L269.2,71.95 L269.68,72.12 L270.15,72.29 L270.63,72.46 L271.1,72.62 L271.58,72.77 L272.05,72.92 L272.53,73.06 L273,73.2 L273.48,73.34 L273.95,73.47 L274.43,73.6 L274.9,73.73 L275.38,73.85 L275.85,73.98 L276.33,74.11 L276.8,74.23 L277.28,74.36 L277.75,74.48 L278.23,74.61 L278.7,74.74 L279.18,74.87 L279.65,74.99 L280.13,75.12 L280.6,75.24 L281.08,75.37 L281.55,75.49 L282.03,75.61 L282.5,75.73 L282.98,75.85 L283.45,75.96 L283.93,76.08 L284.4,76.19 L284.88,76.3 L285.35,76.4 L285.83,76.51 L286.3,76.61 L286.78,76.71 L287.25,76.8 L287.73,76.9 L288.2,76.99 L288.68,77.07 L289.15,77.16 L289.63,77.24 L290.1,77.32 L290.58,77.39 L291.05,77.47 L291.53,77.54 L292,77.61 L292.48,77.68 L292.95,77.75 L293.43,77.82 L293.9,77.89 L294.38,77.96 L294.85,78.03 L295.33,78.09 L295.8,78.16 L296.28,78.23 L296.75,78.3 L297.23,78.38 L297.7,78.45 L298.18,78.52 L298.65,78.6 L299.13,78.68 L299.6,78.75 L300.08,78.83 L300.55,78.9 L301.03,78.98 L301.5,79.06 L301.98,79.13 L302.45,79.21 L302.93,79.29 L303.4,79.36 L303.88,79.44 L304.35,79.52 L304.83,79.6 L305.3,79.67 L305.78,79.75 L306.25,79.83 L306.73,79.91 L307.2,79.98 L307.68,80.06 L308.15,80.14 L308.63,80.22 L309.1,80.3 L309.58,80.38 L310.05,80.46 L310.53,80.54 L311,80.61 L311.48,80.69 L311.95,80.77 L312.43,80.85 L312.9,80.93 L313.38,81.01 L313.85,81.1 L314.33,81.18 L314.8,81.26 L315.28,81.34 L315.75,81.42 L316.23,81.5 L316.7,81.58 L317.18,81.67 L317.65,81.75 L318.13,81.83 L318.6,81.91 L319.08,82 L319.55,82.08 L320.03,82.16 L320.5,82.24 L320.98,82.33 L321.45,82.41 L321.93,82.49 L322.4,82.58 L322.88,82.66 L323.35,82.75 L323.83,82.83 L324.3,82.92 L324.78,83 L325.25,83.09 L325.73,83.18 L326.2,83.26 L326.68,83.35 L327.15,83.44 L327.63,83.53 L328.1,83.62 L328.58,83.71 L329.05,83.81 L329.53,83.9 L330,83.99 L330.48,84.09 L330.95,84.18 L331.43,84.27 L331.9,84.36 L332.38,84.45 L332.85,84.54 L333.33,84.63 L333.8,84.73 L334.28,84.84 L334.75,84.95 L335.23,85.07 L335.7,85.19 L336.18,85.33 L336.65,85.48 L337.13,85.65 L337.6,85.84 L338.08,86.04 L338.55,86.26 L339.03,86.49 L339.5,86.73 L339.98,86.98 L340.45,87.24 L340.93,87.5 L341.4,87.76 L341.88,88.03 L342.35,88.29 L342.83,88.55 L343.3,88.81 L343.78,89.06 L344.25,89.3 L344.73,89.53 L345.2,89.77 L345.68,90 L346.15,90.24 L346.63,90.48 L347.1,90.73 L347.58,90.97 L348.05,91.22 L348.53,91.46 L349,91.71 L349.48,91.95 L349.95,92.19 L350.43,92.42 L350.9,92.66 L351.38,92.88 L351.85,93.1 L352.33,93.32 L352.8,93.53 L353.28,93.73 L353.75,93.92 L354.23,94.1 L354.7,94.28 L355.18,94.44 L355.65,94.6 L356.13,94.75 L356.6,94.89 L357.08,95.03 L357.55,95.16 L358.03,95.29 L358.5,95.41 L358.98,95.53 L359.45,95.65 L359.93,95.76 L360.4,95.87 L360.88,95.98 L361.35,96.09 L361.83,96.2 L362.3,96.3 L362.78,96.41 L363.25,96.52 L363.73,96.62 L364.2,96.73 L364.68,96.84 L365.15,96.96 L365.63,97.07 L366.1,97.19 L366.58,97.31 L367.05,97.44 L367.53,97.57 L368,97.7 L368.48,97.84 L368.95,97.99 L369.43,98.14 L369.9,98.3 L370.38,98.47 L370.85,98.64 L371.33,98.81 L371.8,98.99 L372.28,99.18 L372.75,99.37 L373.23,99.57 L373.7,99.77 L374.18,99.99 L374.65,100.2 L375.13,100.43 L375.6,100.66 L376.08,100.9 L376.55,101.14 L377.03,101.4 L377.5,101.66 L377.98,101.93 L378.45,102.21 L378.93,102.5 L379.4,102.79 L379.88,103.08 L380.35,103.38 L380.83,103.69 L381.3,104 L381.78,104.32 L382.25,104.65 L382.73,105 L383.2,105.35 L383.68,105.72 L384.15,106.1 L384.63,106.49 L385.1,106.9 L385.58,107.33 L386.05,107.77 L386.53,108.23 L387,108.71 L387.48,109.22 L387.95,109.74 L388.43,110.29 L388.9,110.86 L389.38,111.46 L389.85,112.08 L390.33,112.72 L390.63,113.14 L390.76,113.34 L390.8,113.4 L390.89,113.53 L391.03,113.73 L391.16,113.93 L391.28,114.11 L391.3,114.14 L391.43,114.35 L391.57,114.58 L391.7,114.82 L391.75,114.92 L391.84,115.07 L391.97,115.32 L392.11,115.59 L392.23,115.85 L392.24,115.87 L392.37,116.15 L392.51,116.45 L392.64,116.75 L392.7,116.89 L392.78,117.07 L392.91,117.39 L393.05,117.72 L393.18,118.05 L393.18,118.06 L393.32,118.41 L393.45,118.77 L393.59,119.13 L393.65,119.32 L393.72,119.5 L393.85,119.88 L393.99,120.27 L394.12,120.67 L394.13,120.69 L394.26,121.08 L394.39,121.49 L394.53,121.91 L394.6,122.15 L394.66,122.33 L394.8,122.77 L394.93,123.21 L395.07,123.66 L395.08,123.7 L395.2,124.11 L395.33,124.57 L395.47,125.04 L395.55,125.34 L395.6,125.51 L395.74,125.99 L395.87,126.48 L396.01,126.97 L396.03,127.06 L396.14,127.47 L396.28,127.98 L396.41,128.49 L396.5,128.84 L396.55,129 L396.68,129.52 L396.81,130.05 L396.95,130.58 L396.98,130.7 L397.08,131.12 L397.22,131.66 L397.35,132.21 L397.45,132.62 L397.49,132.76 L397.62,133.32 L397.76,133.9 L397.89,134.51 L397.93,134.69 L398.03,135.15 L398.16,135.8 L398.29,136.48 L398.4,137.06 L398.43,137.19 L398.56,137.91 L398.7,138.66 L398.83,139.42 L398.88,139.69 L398.97,140.2 L399.1,141 L399.24,141.82 L399.35,142.55 L399.37,142.65 L399.51,143.5 L399.64,144.36 L399.77,145.23 L399.83,145.59 L399.91,146.12 L400.04,147.02 L400.18,147.93 L400.3,148.79 L400.31,148.85 L400.45,149.78 L400.58,150.72 L400.72,151.66 L400.78,152.11 L400.85,152.61 L400.99,153.57 L401.12,154.53 L401.25,155.5" fill="none" stroke="#f88e62" stroke-width="1.3" stroke-linejoin="round" stroke-linecap="butt"/>
<path d="M259.89,155.5 L259.94,149.78 L260,144.51 L260.05,140.02 L260.1,136.66 L260.15,134.1 L260.2,131.85 L260.25,129.88 L260.3,128.16 L260.35,126.66 L260.4,125.34 L260.4,125.32 L260.45,124.17 L260.5,123.06 L260.55,122.01 L260.6,121.03 L260.65,120.09 L260.7,119.21 L260.75,118.39 L260.8,117.62 L260.85,116.91 L260.9,116.25 L260.9,116.23 L260.95,115.64 L261,115.08 L261.05,114.57 L261.11,114.12 L261.16,113.69 L261.21,113.27 L261.26,112.88 L261.31,112.5 L261.36,112.14 L261.41,111.79 L261.41,111.78 L261.46,111.46 L261.51,111.15 L261.56,110.85 L261.61,110.56 L261.66,110.29 L261.71,110.04 L261.76,109.79 L261.81,109.56 L261.86,109.35 L261.91,109.14 L261.92,109.13 L261.96,108.95 L262.01,108.77 L262.06,108.6 L262.11,108.43 L262.16,108.27 L262.22,108.11 L262.27,107.96 L262.32,107.8 L262.37,107.65 L262.42,107.51 L262.42,107.5 L262.47,107.36 L262.52,107.23 L262.57,107.09 L262.62,106.96 L262.67,106.82 L262.72,106.7 L262.77,106.57 L262.82,106.45 L262.87,106.33 L262.92,106.22 L262.93,106.21 L262.97,106.1 L263.02,105.99 L263.07,105.88 L263.12,105.77 L263.17,105.67 L263.22,105.57 L263.27,105.47 L263.33,105.37 L263.38,105.27 L263.43,105.18 L263.43,105.17 L263.48,105.09 L263.53,104.99 L263.58,104.91 L263.63,104.82 L263.68,104.73 L263.73,104.65 L263.78,104.56 L263.83,104.48 L263.88,104.4 L263.94,104.31 L264.44,103.57 L264.95,102.9 L265.45,102.29 L265.96,101.74 L266.46,101.24 L266.97,100.78 L267.47,100.36 L267.98,99.97 L268.48,99.59 L268.99,99.23 L269.49,98.88 L270,98.55 L270.5,98.22 L271.01,97.91 L271.51,97.61 L272.02,97.32 L272.52,97.04 L273.03,96.77 L273.54,96.5 L274.04,96.25 L274.55,96 L275.05,95.75 L275.56,95.52 L276.06,95.29 L276.57,95.06 L277.07,94.84 L277.58,94.62 L278.08,94.4 L278.59,94.19 L279.09,93.98 L279.6,93.78 L280.1,93.58 L280.61,93.39 L281.11,93.2 L281.62,93.01 L282.12,92.83 L282.63,92.65 L283.13,92.48 L283.64,92.31 L284.14,92.14 L284.65,91.98 L285.15,91.81 L285.66,91.66 L286.17,91.5 L286.67,91.34 L287.18,91.19 L287.68,91.04 L288.19,90.89 L288.69,90.75 L289.2,90.6 L289.7,90.46 L290.21,90.32 L290.71,90.18 L291.22,90.05 L291.72,89.92 L292.23,89.78 L292.73,89.65 L293.24,89.53 L293.74,89.4 L294.25,89.28 L294.75,89.16 L295.26,89.04 L295.76,88.92 L296.27,88.8 L296.77,88.68 L297.28,88.57 L297.79,88.45 L298.29,88.34 L298.8,88.23 L299.3,88.12 L299.81,88.01 L300.31,87.9 L300.82,87.79 L301.32,87.68 L301.83,87.57 L302.33,87.46 L302.84,87.36 L303.34,87.25 L303.85,87.15 L304.35,87.04 L304.86,86.94 L305.36,86.83 L305.87,86.73 L306.37,86.63 L306.88,86.53 L307.38,86.43 L307.89,86.33 L308.39,86.23 L308.9,86.14 L309.41,86.04 L309.91,85.95 L310.42,85.85 L310.92,85.76 L311.43,85.66 L311.93,85.57 L312.44,85.48 L312.94,85.39 L313.45,85.3 L313.95,85.21 L314.46,85.13 L314.96,85.04 L315.47,84.95 L315.97,84.87 L316.48,84.79 L316.98,84.7 L317.49,84.62 L317.99,84.54 L318.5,84.47 L319,84.39 L319.51,84.32 L320.01,84.25 L320.52,84.19 L321.03,84.12 L321.53,84.06 L322.04,84 L322.54,83.94 L323.05,83.88 L323.55,83.82 L324.06,83.76 L324.56,83.7 L325.07,83.63 L325.57,83.57 L326.08,83.51 L326.58,83.44 L327.09,83.37 L327.59,83.3 L328.1,83.22 L328.6,83.15 L329.11,83.06 L329.61,82.98 L330.12,82.89 L330.62,82.79 L331.13,82.68 L331.63,82.57 L332.14,82.45 L332.64,82.33 L333.15,82.2 L333.66,82.06 L334.16,81.92 L334.67,81.78 L335.17,81.64 L335.68,81.5 L336.18,81.35 L336.69,81.21 L337.19,81.05 L337.7,80.9 L338.2,80.74 L338.71,80.58 L339.21,80.41 L339.72,80.25 L340.22,80.07 L340.73,79.9 L341.23,79.73 L341.74,79.55 L342.24,79.37 L342.75,79.19 L343.25,79.01 L343.76,78.83 L344.26,78.64 L344.77,78.46 L345.28,78.27 L345.78,78.07 L346.29,77.87 L346.79,77.66 L347.3,77.44 L347.8,77.22 L348.31,77 L348.81,76.78 L349.32,76.56 L349.82,76.34 L350.33,76.12 L350.83,75.91 L351.34,75.69 L351.84,75.49 L352.35,75.29 L352.85,75.1 L353.36,74.92 L353.86,74.74 L354.37,74.58 L354.87,74.43 L355.38,74.29 L355.88,74.16 L356.39,74.02 L356.9,73.89 L357.4,73.77 L357.91,73.65 L358.41,73.53 L358.92,73.41 L359.42,73.3 L359.93,73.19 L360.43,73.08 L360.94,72.97 L361.44,72.87 L361.95,72.76 L362.45,72.66 L362.96,72.56 L363.46,72.46 L363.97,72.37 L364.47,72.27 L364.98,72.17 L365.48,72.08 L365.99,71.98 L366.49,71.89 L367,71.79 L367.5,71.7 L368.01,71.6 L368.51,71.51 L369.02,71.41 L369.53,71.31 L370.03,71.21 L370.54,71.12 L371.04,71.02 L371.55,70.93 L372.05,70.83 L372.56,70.74 L373.06,70.65 L373.57,70.56 L374.07,70.48 L374.58,70.39 L375.08,70.3 L375.59,70.21 L376.09,70.13 L376.6,70.04 L377.1,69.96 L377.61,69.87 L378.11,69.78 L378.62,69.7 L379.12,69.61 L379.63,69.52 L380.13,69.43 L380.64,69.34 L381.15,69.24 L381.65,69.15 L382.16,69.05 L382.66,68.96 L383.17,68.85 L383.67,68.75 L384.18,68.65 L384.68,68.54 L385.19,68.43 L385.69,68.32 L386.2,68.21 L386.7,68.1 L387.21,68 L387.71,67.88 L388.22,67.77 L388.72,67.66 L389.23,67.54 L389.73,67.41 L390.24,67.28 L390.74,67.15 L391.25,67.01 L391.75,66.86 L392.26,66.71 L392.77,66.55 L393.27,66.38 L393.78,66.19 L394.28,66.01 L394.79,65.81 L395.29,65.61 L395.8,65.39 L396.3,65.17 L396.81,64.94 L397.31,64.69 L397.82,64.42 L398.32,64.14 L398.83,63.84 L399.33,63.52 L399.84,63.18 L400.32,62.83 L400.34,62.82 L400.46,62.73 L400.59,62.63 L400.73,62.53 L400.85,62.43 L400.86,62.42 L401,62.31 L401.13,62.2 L401.27,62.09 L401.35,62.02 L401.4,61.98 L401.54,61.86 L401.67,61.75 L401.8,61.63 L401.86,61.58 L401.94,61.5 L402.07,61.38 L402.21,61.26 L402.34,61.13 L402.36,61.11 L402.48,61 L402.61,60.87 L402.75,60.73 L402.87,60.61 L402.88,60.59 L403.02,60.46 L403.15,60.31 L403.28,60.17 L403.37,60.07 L403.42,60.02 L403.55,59.88 L403.69,59.73 L403.82,59.57 L403.88,59.51 L403.96,59.42 L404.09,59.24 L404.23,59.06 L404.36,58.85 L404.39,58.81 L404.49,58.62 L404.63,58.38 L404.76,58.13 L404.89,57.87 L404.9,57.86 L405.03,57.57 L405.17,57.27 L405.3,56.96 L405.4,56.73 L405.44,56.63 L405.57,56.29 L405.71,55.94 L405.84,55.58 L405.9,55.41 L405.97,55.2 L406.11,54.82 L406.24,54.43 L406.38,54.03 L406.41,53.94 L406.51,53.62 L406.65,53.2 L406.78,52.77 L406.91,52.36 L406.92,52.34 L407.05,51.9 L407.19,51.46 L407.32,51.01 L407.42,50.69 L407.45,50.56 L407.59,50.1 L407.72,49.64 L407.86,49.17 L407.92,48.96 L407.99,48.71 L408.13,48.24 L408.26,47.74 L408.4,47.23 L408.43,47.11 L408.53,46.69 L408.67,46.14 L408.8,45.57 L408.93,44.99 L408.93,44.98 L409.07,44.37 L409.2,43.75 L409.34,43.11 L409.44,42.63 L409.47,42.45 L409.61,41.78 L409.74,41.1 L409.88,40.41 L409.94,40.07 L410.01,39.7 L410.15,38.99 L410.28,38.26 L410.41,37.52 L410.45,37.34 L410.55,36.78 L410.68,36.03 L410.82,35.27 L410.95,34.5" fill="none" stroke="#f45656" stroke-width="1.3" stroke-linejoin="round" stroke-linecap="butt"/>
<path d="M259.23,34.5 L259.28,35.31 L259.33,36.11 L259.38,36.9 L259.43,37.69 L259.48,38.46 L259.53,39.23 L259.58,39.99 L259.63,40.73 L259.68,41.48 L259.73,42.22 L259.75,42.42 L259.78,42.96 L259.84,43.7 L259.89,44.44 L259.94,45.16 L259.99,45.88 L260.04,46.58 L260.09,47.28 L260.14,47.95 L260.19,48.61 L260.24,49.24 L260.27,49.57 L260.29,49.86 L260.34,50.46 L260.39,51.07 L260.44,51.66 L260.49,52.26 L260.54,52.84 L260.59,53.41 L260.64,53.96 L260.69,54.5 L260.74,55.01 L260.78,55.39 L260.79,55.49 L260.84,55.94 L260.89,56.36 L260.95,56.75 L261,57.1 L261.05,57.44 L261.1,57.76 L261.15,58.08 L261.2,58.39 L261.25,58.68 L261.3,58.97 L261.3,58.98 L261.35,59.24 L261.4,59.51 L261.45,59.77 L261.5,60.02 L261.55,60.26 L261.6,60.5 L261.65,60.73 L261.7,60.95 L261.75,61.16 L261.8,61.37 L261.82,61.44 L261.85,61.58 L261.9,61.78 L261.95,61.97 L262,62.16 L262.06,62.35 L262.11,62.53 L262.16,62.72 L262.21,62.89 L262.26,63.07 L262.31,63.24 L262.34,63.33 L262.36,63.41 L262.41,63.57 L262.46,63.74 L262.51,63.89 L262.56,64.05 L262.61,64.2 L262.66,64.35 L262.71,64.5 L262.76,64.64 L262.81,64.78 L262.85,64.89 L262.86,64.92 L262.91,65.05 L262.96,65.18 L263.01,65.31 L263.06,65.43 L263.11,65.55 L263.17,65.67 L263.22,65.78 L263.37,66.12 L263.89,67.13 L264.41,67.97 L264.92,68.58 L265.44,69.01 L265.96,69.36 L266.48,69.66 L266.99,69.92 L267.51,70.15 L268.03,70.37 L268.55,70.59 L269.07,70.8 L269.58,71.01 L270.1,71.2 L270.62,71.39 L271.14,71.57 L271.65,71.74 L272.17,71.91 L272.69,72.07 L273.21,72.23 L273.72,72.38 L274.24,72.54 L274.76,72.68 L275.28,72.83 L275.79,72.97 L276.31,73.11 L276.83,73.25 L277.35,73.39 L277.87,73.52 L278.38,73.66 L278.9,73.8 L279.42,73.93 L279.94,74.07 L280.45,74.2 L280.97,74.33 L281.49,74.46 L282.01,74.59 L282.52,74.71 L283.04,74.84 L283.56,74.96 L284.08,75.07 L284.6,75.19 L285.11,75.3 L285.63,75.41 L286.15,75.51 L286.67,75.61 L287.18,75.71 L287.7,75.8 L288.22,75.89 L288.74,75.97 L289.25,76.05 L289.77,76.12 L290.29,76.2 L290.81,76.27 L291.32,76.33 L291.84,76.4 L292.36,76.46 L292.88,76.52 L293.4,76.59 L293.91,76.65 L294.43,76.71 L294.95,76.77 L295.47,76.83 L295.98,76.9 L296.5,76.97 L297.02,77.04 L297.54,77.11 L298.05,77.18 L298.57,77.26 L299.09,77.34 L299.61,77.42 L300.12,77.51 L300.64,77.59 L301.16,77.68 L301.68,77.76 L302.2,77.85 L302.71,77.94 L303.23,78.03 L303.75,78.12 L304.27,78.21 L304.78,78.3 L305.3,78.4 L305.82,78.49 L306.34,78.58 L306.85,78.68 L307.37,78.78 L307.89,78.87 L308.41,78.97 L308.92,79.06 L309.44,79.16 L309.96,79.26 L310.48,79.35 L311,79.45 L311.51,79.54 L312.03,79.64 L312.55,79.74 L313.07,79.83 L313.58,79.93 L314.1,80.02 L314.62,80.11 L315.14,80.21 L315.65,80.3 L316.17,80.39 L316.69,80.48 L317.21,80.57 L317.72,80.66 L318.24,80.75 L318.76,80.83 L319.28,80.92 L319.8,81 L320.31,81.09 L320.83,81.17 L321.35,81.25 L321.87,81.33 L322.38,81.41 L322.9,81.49 L323.42,81.57 L323.94,81.65 L324.45,81.73 L324.97,81.81 L325.49,81.9 L326.01,81.98 L326.53,82.06 L327.04,82.15 L327.56,82.24 L328.08,82.32 L328.6,82.42 L329.11,82.51 L329.63,82.6 L330.15,82.7 L330.67,82.8 L331.18,82.9 L331.7,83 L332.22,83.1 L332.74,83.2 L333.25,83.31 L333.77,83.42 L334.29,83.54 L334.81,83.66 L335.33,83.78 L335.84,83.92 L336.36,84.06 L336.88,84.21 L337.4,84.38 L337.91,84.55 L338.43,84.74 L338.95,84.93 L339.47,85.14 L339.98,85.34 L340.5,85.56 L341.02,85.77 L341.54,85.99 L342.05,86.21 L342.57,86.44 L343.09,86.65 L343.61,86.87 L344.13,87.09 L344.64,87.29 L345.16,87.5 L345.68,87.72 L346.2,87.93 L346.71,88.15 L347.23,88.37 L347.75,88.6 L348.27,88.82 L348.78,89.05 L349.3,89.27 L349.82,89.5 L350.34,89.72 L350.85,89.94 L351.37,90.15 L351.89,90.37 L352.41,90.57 L352.93,90.78 L353.44,90.97 L353.96,91.16 L354.48,91.34 L355,91.52 L355.51,91.68 L356.03,91.85 L356.55,92.01 L357.07,92.17 L357.58,92.33 L358.1,92.48 L358.62,92.64 L359.14,92.79 L359.65,92.93 L360.17,93.08 L360.69,93.22 L361.21,93.36 L361.73,93.5 L362.24,93.64 L362.76,93.78 L363.28,93.91 L363.8,94.04 L364.31,94.18 L364.83,94.31 L365.35,94.44 L365.87,94.56 L366.38,94.69 L366.9,94.82 L367.42,94.95 L367.94,95.07 L368.46,95.2 L368.97,95.32 L369.49,95.45 L370.01,95.58 L370.53,95.7 L371.04,95.82 L371.56,95.94 L372.08,96.06 L372.6,96.18 L373.11,96.29 L373.63,96.4 L374.15,96.52 L374.67,96.63 L375.18,96.74 L375.7,96.85 L376.22,96.95 L376.74,97.06 L377.26,97.17 L377.77,97.28 L378.29,97.39 L378.81,97.5 L379.33,97.6 L379.84,97.71 L380.36,97.82 L380.88,97.93 L381.4,98.05 L381.91,98.16 L382.43,98.28 L382.95,98.39 L383.47,98.51 L383.98,98.63 L384.5,98.75 L385.02,98.88 L385.54,99 L386.06,99.12 L386.57,99.24 L387.09,99.35 L387.61,99.47 L388.13,99.59 L388.64,99.71 L389.16,99.83 L389.68,99.96 L390.2,100.1 L390.71,100.23 L391.23,100.38 L391.75,100.54 L392.27,100.7 L392.78,100.87 L393.3,101.06 L393.82,101.25 L394.34,101.44 L394.86,101.64 L395.37,101.85 L395.89,102.06 L396.41,102.29 L396.93,102.52 L397.44,102.76 L397.96,103.02 L398.48,103.29 L399,103.58 L399.51,103.88 L400.03,104.2 L400.55,104.54 L401.07,104.9 L401.58,105.28 L402.1,105.68 L402.62,106.11 L403.14,106.56 L403.38,106.78 L403.51,106.91 L403.65,107.04 L403.66,107.04 L403.78,107.17 L403.92,107.3 L404.05,107.43 L404.17,107.55 L404.19,107.56 L404.32,107.7 L404.46,107.84 L404.59,107.98 L404.69,108.09 L404.73,108.12 L404.86,108.27 L404.99,108.42 L405.13,108.57 L405.21,108.65 L405.26,108.72 L405.4,108.87 L405.53,109.03 L405.67,109.18 L405.73,109.25 L405.8,109.34 L405.94,109.51 L406.07,109.67 L406.21,109.85 L406.24,109.9 L406.34,110.04 L406.47,110.24 L406.61,110.46 L406.74,110.7 L406.76,110.73 L406.88,110.94 L407.01,111.21 L407.15,111.48 L407.28,111.77 L407.28,111.77 L407.42,112.08 L407.55,112.4 L407.69,112.73 L407.8,113.01 L407.82,113.08 L407.95,113.44 L408.09,113.81 L408.22,114.2 L408.31,114.47 L408.36,114.6 L408.49,115.02 L408.63,115.45 L408.76,115.9 L408.83,116.14 L408.9,116.36 L409.03,116.83 L409.17,117.32 L409.3,117.82 L409.35,118.01 L409.43,118.33 L409.57,118.86 L409.7,119.41 L409.84,119.96 L409.87,120.09 L409.97,120.53 L410.11,121.12 L410.24,121.71 L410.38,122.32 L410.38,122.36 L410.51,122.95 L410.65,123.59 L410.78,124.24 L410.9,124.85 L410.91,124.9 L411.05,125.58 L411.18,126.28 L411.32,127.01 L411.42,127.63 L411.45,127.83 L411.59,128.75 L411.72,129.76 L411.86,130.85 L411.94,131.55 L411.99,132.01 L412.13,133.26 L412.26,134.56 L412.39,135.94 L412.46,136.58 L412.53,137.37 L412.66,138.85 L412.8,140.38 L412.93,141.96 L412.97,142.45 L413.07,143.57 L413.2,145.22 L413.34,146.89 L413.47,148.59 L413.49,148.85 L413.6,150.3 L413.74,152.03 L413.87,153.76 L414.01,155.5" fill="none" stroke="#f45656" stroke-width="1.3" stroke-linejoin="round" stroke-linecap="butt"/>
<path d="M259.89,155.5 L259.94,150.54 L260,145.95 L260.05,141.97 L260.1,138.87 L260.15,136.38 L260.2,134.14 L260.25,132.15 L260.3,130.39 L260.35,128.85 L260.4,127.52 L260.45,126.39 L260.48,125.76 L260.5,125.33 L260.55,124.34 L260.6,123.41 L260.65,122.54 L260.7,121.72 L260.75,120.96 L260.8,120.25 L260.85,119.58 L260.9,118.96 L260.95,118.38 L261,117.84 L261.05,117.33 L261.06,117.26 L261.11,116.86 L261.16,116.41 L261.21,115.97 L261.26,115.54 L261.31,115.13 L261.36,114.74 L261.41,114.36 L261.46,113.99 L261.51,113.65 L261.56,113.31 L261.61,112.99 L261.65,112.76 L261.66,112.69 L261.71,112.4 L261.76,112.12 L261.81,111.87 L261.86,111.62 L261.91,111.39 L261.96,111.18 L262.01,110.98 L262.06,110.79 L262.11,110.6 L262.16,110.42 L262.22,110.24 L262.23,110.19 L262.27,110.07 L262.32,109.9 L262.37,109.73 L262.42,109.57 L262.47,109.41 L262.52,109.25 L262.57,109.1 L262.62,108.95 L262.67,108.81 L262.72,108.67 L262.77,108.53 L262.82,108.4 L262.82,108.39 L262.87,108.26 L262.92,108.13 L262.97,108 L263.02,107.87 L263.07,107.75 L263.12,107.63 L263.17,107.52 L263.22,107.4 L263.27,107.29 L263.33,107.18 L263.38,107.07 L263.4,107.02 L263.43,106.97 L263.48,106.86 L263.53,106.76 L263.58,106.66 L263.63,106.57 L263.68,106.47 L263.73,106.38 L263.78,106.28 L263.83,106.19 L263.88,106.11 L263.98,105.93 L264.57,105.01 L265.15,104.21 L265.74,103.49 L266.32,102.86 L266.91,102.29 L267.49,101.79 L268.07,101.32 L268.66,100.88 L269.24,100.47 L269.83,100.07 L270.41,99.69 L271,99.32 L271.58,98.98 L272.16,98.64 L272.75,98.32 L273.33,98.02 L273.92,97.72 L274.5,97.43 L275.09,97.16 L275.67,96.89 L276.25,96.62 L276.84,96.37 L277.42,96.11 L278.01,95.86 L278.59,95.61 L279.18,95.37 L279.76,95.14 L280.34,94.91 L280.93,94.69 L281.51,94.47 L282.1,94.26 L282.68,94.06 L283.27,93.85 L283.85,93.66 L284.44,93.46 L285.02,93.28 L285.6,93.09 L286.19,92.91 L286.77,92.74 L287.36,92.56 L287.94,92.39 L288.53,92.23 L289.11,92.07 L289.69,91.91 L290.28,91.75 L290.86,91.6 L291.45,91.45 L292.03,91.31 L292.62,91.16 L293.2,91.02 L293.78,90.89 L294.37,90.75 L294.95,90.62 L295.54,90.48 L296.12,90.35 L296.71,90.23 L297.29,90.1 L297.87,89.97 L298.46,89.85 L299.04,89.72 L299.63,89.6 L300.21,89.47 L300.8,89.35 L301.38,89.22 L301.96,89.1 L302.55,88.98 L303.13,88.85 L303.72,88.73 L304.3,88.61 L304.89,88.49 L305.47,88.37 L306.05,88.25 L306.64,88.14 L307.22,88.02 L307.81,87.91 L308.39,87.79 L308.98,87.68 L309.56,87.57 L310.14,87.46 L310.73,87.36 L311.31,87.25 L311.9,87.15 L312.48,87.05 L313.07,86.95 L313.65,86.85 L314.23,86.75 L314.82,86.66 L315.4,86.57 L315.99,86.48 L316.57,86.39 L317.16,86.31 L317.74,86.23 L318.32,86.15 L318.91,86.08 L319.49,86 L320.08,85.94 L320.66,85.87 L321.25,85.81 L321.83,85.74 L322.41,85.68 L323,85.63 L323.58,85.57 L324.17,85.51 L324.75,85.45 L325.34,85.39 L325.92,85.34 L326.51,85.28 L327.09,85.22 L327.67,85.15 L328.26,85.09 L328.84,85.02 L329.43,84.96 L330.01,84.88 L330.6,84.81 L331.18,84.74 L331.76,84.67 L332.35,84.59 L332.93,84.52 L333.52,84.43 L334.1,84.35 L334.69,84.26 L335.27,84.16 L335.85,84.06 L336.44,83.94 L337.02,83.81 L337.61,83.66 L338.19,83.5 L338.78,83.32 L339.36,83.13 L339.94,82.94 L340.53,82.73 L341.11,82.52 L341.7,82.31 L342.28,82.1 L342.87,81.88 L343.45,81.67 L344.03,81.46 L344.62,81.26 L345.2,81.06 L345.79,80.85 L346.37,80.64 L346.96,80.42 L347.54,80.2 L348.12,79.98 L348.71,79.75 L349.29,79.52 L349.88,79.3 L350.46,79.08 L351.05,78.86 L351.63,78.65 L352.21,78.45 L352.8,78.25 L353.38,78.06 L353.97,77.88 L354.55,77.71 L355.14,77.55 L355.72,77.4 L356.3,77.25 L356.89,77.11 L357.47,76.97 L358.06,76.83 L358.64,76.69 L359.23,76.56 L359.81,76.42 L360.39,76.29 L360.98,76.17 L361.56,76.05 L362.15,75.92 L362.73,75.81 L363.32,75.69 L363.9,75.58 L364.48,75.47 L365.07,75.36 L365.65,75.25 L366.24,75.15 L366.82,75.04 L367.41,74.94 L367.99,74.85 L368.57,74.75 L369.16,74.66 L369.74,74.56 L370.33,74.47 L370.91,74.39 L371.5,74.3 L372.08,74.22 L372.67,74.14 L373.25,74.06 L373.83,73.98 L374.42,73.9 L375,73.83 L375.59,73.75 L376.17,73.68 L376.76,73.61 L377.34,73.54 L377.92,73.47 L378.51,73.4 L379.09,73.34 L379.68,73.27 L380.26,73.2 L380.85,73.14 L381.43,73.07 L382.01,73 L382.6,72.94 L383.18,72.87 L383.77,72.8 L384.35,72.74 L384.94,72.67 L385.52,72.6 L386.1,72.53 L386.69,72.47 L387.27,72.41 L387.86,72.35 L388.44,72.28 L389.03,72.22 L389.61,72.16 L390.19,72.1 L390.78,72.03 L391.36,71.97 L391.95,71.9 L392.53,71.84 L393.12,71.77 L393.7,71.69 L394.28,71.62 L394.87,71.54 L395.45,71.47 L396.04,71.39 L396.62,71.31 L397.21,71.23 L397.79,71.15 L398.37,71.07 L398.96,70.99 L399.54,70.9 L400.13,70.82 L400.71,70.73 L401.3,70.64 L401.88,70.54 L402.46,70.45 L403.05,70.35 L403.63,70.25 L404.22,70.15 L404.8,70.05 L405.39,69.94 L405.97,69.83 L406.55,69.73 L407.14,69.62 L407.72,69.51 L408.31,69.4 L408.89,69.29 L409.48,69.18 L410.06,69.06 L410.64,68.95 L411.23,68.83 L411.81,68.7 L412.4,68.58 L412.98,68.44 L413.57,68.31 L414.15,68.17 L414.74,68.02 L415.32,67.87 L415.9,67.72 L416.49,67.56 L417.07,67.39 L417.66,67.21 L418.24,67.03 L418.83,66.83 L419.41,66.63 L419.99,66.43 L420.58,66.21 L421.16,65.98 L421.75,65.75 L422.33,65.49 L422.92,65.23 L423.5,64.94 L423.97,64.68 L424.08,64.62 L424.11,64.61 L424.24,64.53 L424.38,64.45 L424.51,64.37 L424.65,64.29 L424.67,64.27 L424.78,64.2 L424.91,64.12 L425.05,64.03 L425.18,63.94 L425.25,63.89 L425.32,63.85 L425.45,63.75 L425.59,63.66 L425.72,63.56 L425.84,63.47 L425.86,63.46 L425.99,63.36 L426.13,63.25 L426.26,63.14 L426.39,63.03 L426.42,63.01 L426.53,62.92 L426.66,62.81 L426.8,62.69 L426.93,62.57 L427.01,62.51 L427.07,62.45 L427.2,62.32 L427.34,62.2 L427.47,62.07 L427.59,61.95 L427.61,61.93 L427.74,61.8 L427.87,61.66 L428.01,61.52 L428.14,61.37 L428.17,61.34 L428.28,61.22 L428.41,61.07 L428.55,60.92 L428.68,60.76 L428.76,60.67 L428.82,60.6 L428.95,60.44 L429.09,60.27 L429.22,60.08 L429.34,59.89 L429.35,59.87 L429.49,59.63 L429.62,59.38 L429.76,59.11 L429.89,58.81 L429.93,58.73 L430.03,58.5 L430.16,58.16 L430.3,57.81 L430.43,57.44 L430.51,57.21 L430.57,57.05 L430.7,56.64 L430.83,56.21 L430.97,55.77 L431.1,55.34 L431.1,55.31 L431.24,54.84 L431.37,54.35 L431.51,53.84 L431.64,53.32 L431.68,53.17 L431.78,52.79 L431.91,52.24 L432.05,51.68 L432.18,51.11 L432.26,50.74 L432.31,50.52 L432.45,49.92 L432.58,49.31 L432.72,48.69 L432.85,48.05 L432.85,48.03 L432.99,47.3 L433.12,46.49 L433.26,45.61 L433.39,44.68 L433.43,44.37 L433.53,43.69 L433.66,42.65 L433.79,41.56 L433.93,40.44 L434.02,39.69 L434.06,39.29 L434.2,38.12 L434.33,36.92 L434.47,35.71 L434.6,34.5" fill="none" stroke="#a0121e" stroke-width="1.3" stroke-linejoin="round" stroke-linecap="butt"/>
<path d="M259.23,34.5 L259.28,35.21 L259.33,35.91 L259.38,36.61 L259.43,37.31 L259.48,38 L259.53,38.7 L259.58,39.38 L259.63,40.07 L259.68,40.76 L259.73,41.45 L259.78,42.15 L259.82,42.63 L259.84,42.85 L259.89,43.55 L259.94,44.25 L259.99,44.94 L260.04,45.61 L260.09,46.28 L260.14,46.93 L260.19,47.56 L260.24,48.17 L260.29,48.76 L260.34,49.34 L260.39,49.91 L260.41,50.12 L260.44,50.48 L260.49,51.04 L260.54,51.59 L260.59,52.13 L260.64,52.66 L260.69,53.17 L260.74,53.65 L260.79,54.11 L260.84,54.55 L260.89,54.95 L260.95,55.32 L261,55.66 L261,55.68 L261.05,55.99 L261.1,56.31 L261.15,56.62 L261.2,56.91 L261.25,57.2 L261.3,57.48 L261.35,57.75 L261.4,58.02 L261.45,58.27 L261.5,58.52 L261.55,58.76 L261.59,58.93 L261.6,58.99 L261.65,59.21 L261.7,59.43 L261.75,59.64 L261.8,59.85 L261.85,60.05 L261.9,60.25 L261.95,60.44 L262,60.62 L262.06,60.81 L262.11,60.99 L262.16,61.16 L262.18,61.24 L262.21,61.34 L262.26,61.5 L262.31,61.67 L262.36,61.83 L262.41,61.99 L262.46,62.15 L262.51,62.3 L262.56,62.45 L262.61,62.6 L262.66,62.75 L262.71,62.89 L262.76,63.03 L262.77,63.04 L262.81,63.16 L262.86,63.29 L262.91,63.42 L262.96,63.55 L263.01,63.67 L263.06,63.79 L263.11,63.91 L263.17,64.03 L263.22,64.14 L263.36,64.44 L263.95,65.55 L264.54,66.46 L265.13,67.14 L265.72,67.71 L266.31,68.2 L266.9,68.63 L267.48,68.99 L268.07,69.3 L268.66,69.57 L269.25,69.83 L269.84,70.07 L270.43,70.3 L271.02,70.51 L271.61,70.71 L272.2,70.9 L272.79,71.08 L273.38,71.25 L273.97,71.42 L274.56,71.58 L275.15,71.73 L275.74,71.88 L276.33,72.03 L276.92,72.18 L277.51,72.33 L278.1,72.49 L278.69,72.64 L279.28,72.79 L279.87,72.93 L280.46,73.08 L281.05,73.22 L281.64,73.36 L282.23,73.49 L282.82,73.63 L283.41,73.76 L283.99,73.88 L284.58,74 L285.17,74.12 L285.76,74.24 L286.35,74.35 L286.94,74.46 L287.53,74.56 L288.12,74.66 L288.71,74.75 L289.3,74.84 L289.89,74.93 L290.48,75.01 L291.07,75.09 L291.66,75.17 L292.25,75.24 L292.84,75.31 L293.43,75.38 L294.02,75.45 L294.61,75.53 L295.2,75.6 L295.79,75.67 L296.38,75.75 L296.97,75.82 L297.56,75.9 L298.15,75.99 L298.74,76.07 L299.33,76.16 L299.91,76.25 L300.5,76.34 L301.09,76.43 L301.68,76.53 L302.27,76.62 L302.86,76.72 L303.45,76.81 L304.04,76.91 L304.63,77.01 L305.22,77.11 L305.81,77.2 L306.4,77.3 L306.99,77.4 L307.58,77.5 L308.17,77.6 L308.76,77.7 L309.35,77.8 L309.94,77.9 L310.53,78 L311.12,78.1 L311.71,78.2 L312.3,78.29 L312.89,78.39 L313.48,78.48 L314.07,78.58 L314.66,78.67 L315.25,78.76 L315.84,78.85 L316.42,78.94 L317.01,79.03 L317.6,79.11 L318.19,79.19 L318.78,79.27 L319.37,79.35 L319.96,79.43 L320.55,79.51 L321.14,79.58 L321.73,79.66 L322.32,79.73 L322.91,79.8 L323.5,79.88 L324.09,79.95 L324.68,80.02 L325.27,80.09 L325.86,80.16 L326.45,80.24 L327.04,80.31 L327.63,80.38 L328.22,80.46 L328.81,80.54 L329.4,80.61 L329.99,80.69 L330.58,80.77 L331.17,80.85 L331.76,80.92 L332.34,81 L332.93,81.08 L333.52,81.16 L334.11,81.24 L334.7,81.33 L335.29,81.43 L335.88,81.53 L336.47,81.64 L337.06,81.77 L337.65,81.91 L338.24,82.06 L338.83,82.22 L339.42,82.39 L340.01,82.57 L340.6,82.75 L341.19,82.94 L341.78,83.12 L342.37,83.31 L342.96,83.49 L343.55,83.67 L344.14,83.85 L344.73,84.02 L345.32,84.19 L345.91,84.35 L346.5,84.52 L347.09,84.68 L347.68,84.85 L348.27,85.01 L348.85,85.18 L349.44,85.34 L350.03,85.51 L350.62,85.67 L351.21,85.84 L351.8,86 L352.39,86.16 L352.98,86.33 L353.57,86.49 L354.16,86.66 L354.75,86.82 L355.34,86.99 L355.93,87.15 L356.52,87.32 L357.11,87.5 L357.7,87.67 L358.29,87.84 L358.88,88.02 L359.47,88.19 L360.06,88.37 L360.65,88.54 L361.24,88.72 L361.83,88.89 L362.42,89.07 L363.01,89.24 L363.6,89.41 L364.19,89.58 L364.78,89.74 L365.36,89.9 L365.95,90.07 L366.54,90.22 L367.13,90.38 L367.72,90.53 L368.31,90.67 L368.9,90.81 L369.49,90.95 L370.08,91.08 L370.67,91.21 L371.26,91.33 L371.85,91.46 L372.44,91.58 L373.03,91.7 L373.62,91.82 L374.21,91.94 L374.8,92.05 L375.39,92.16 L375.98,92.27 L376.57,92.38 L377.16,92.49 L377.75,92.6 L378.34,92.7 L378.93,92.81 L379.52,92.91 L380.11,93.01 L380.7,93.11 L381.28,93.21 L381.87,93.3 L382.46,93.4 L383.05,93.5 L383.64,93.59 L384.23,93.68 L384.82,93.78 L385.41,93.87 L386,93.96 L386.59,94.04 L387.18,94.13 L387.77,94.21 L388.36,94.29 L388.95,94.37 L389.54,94.45 L390.13,94.53 L390.72,94.61 L391.31,94.69 L391.9,94.76 L392.49,94.84 L393.08,94.92 L393.67,94.99 L394.26,95.07 L394.85,95.15 L395.44,95.23 L396.03,95.31 L396.62,95.39 L397.21,95.47 L397.79,95.55 L398.38,95.63 L398.97,95.71 L399.56,95.79 L400.15,95.86 L400.74,95.93 L401.33,96 L401.92,96.07 L402.51,96.14 L403.1,96.21 L403.69,96.28 L404.28,96.35 L404.87,96.42 L405.46,96.49 L406.05,96.56 L406.64,96.64 L407.23,96.72 L407.82,96.8 L408.41,96.88 L409,96.96 L409.59,97.05 L410.18,97.15 L410.77,97.24 L411.36,97.35 L411.95,97.46 L412.54,97.57 L413.13,97.69 L413.71,97.81 L414.3,97.95 L414.89,98.09 L415.48,98.23 L416.07,98.39 L416.66,98.56 L417.25,98.75 L417.84,98.94 L418.43,99.15 L419.02,99.37 L419.61,99.61 L420.2,99.87 L420.79,100.14 L421.38,100.44 L421.97,100.75 L422.56,101.08 L423.15,101.43 L423.74,101.81 L424.33,102.21 L424.9,102.62 L424.92,102.63 L425.04,102.72 L425.17,102.82 L425.31,102.92 L425.44,103.02 L425.51,103.08 L425.58,103.13 L425.71,103.23 L425.84,103.34 L425.98,103.45 L426.1,103.55 L426.11,103.56 L426.25,103.67 L426.38,103.79 L426.52,103.9 L426.65,104.02 L426.69,104.05 L426.79,104.13 L426.92,104.25 L427.06,104.37 L427.19,104.5 L427.28,104.58 L427.32,104.63 L427.46,104.77 L427.59,104.91 L427.73,105.06 L427.86,105.22 L427.87,105.22 L428,105.38 L428.13,105.55 L428.27,105.73 L428.4,105.92 L428.46,106 L428.54,106.11 L428.67,106.32 L428.8,106.53 L428.94,106.75 L429.05,106.93 L429.07,106.98 L429.21,107.22 L429.34,107.47 L429.48,107.73 L429.61,108 L429.64,108.04 L429.75,108.28 L429.88,108.57 L430.02,108.87 L430.15,109.18 L430.22,109.36 L430.28,109.5 L430.42,109.83 L430.55,110.18 L430.69,110.54 L430.81,110.88 L430.82,110.91 L430.96,111.29 L431.09,111.68 L431.23,112.09 L431.36,112.51 L431.4,112.65 L431.5,112.95 L431.63,113.4 L431.76,113.86 L431.9,114.34 L431.99,114.68 L432.03,114.83 L432.17,115.33 L432.3,115.85 L432.44,116.42 L432.57,117.13 L432.58,117.19 L432.71,117.97 L432.84,118.94 L432.98,120.02 L433.11,121.21 L433.17,121.81 L433.24,122.5 L433.38,123.88 L433.51,125.34 L433.65,126.86 L433.76,128.21 L433.78,128.45 L433.92,130.09 L434.05,131.76 L434.19,133.48 L434.32,135.21 L434.35,135.62 L434.46,136.96 L434.59,138.79 L434.72,140.8 L434.86,142.98 L434.94,144.4 L434.99,145.3 L435.13,147.74 L435.26,150.26 L435.4,152.86 L435.53,155.5" fill="none" stroke="#a0121e" stroke-width="1.3" stroke-linejoin="round" stroke-linecap="butt"/>
<path d="M259.89,155.5 L259.94,150.16 L260,145.23 L260.05,141 L260.1,137.77 L260.15,135.23 L260.2,132.98 L260.25,131 L260.3,129.25 L260.35,127.73 L260.4,126.42 L260.44,125.46 L260.45,125.28 L260.5,124.23 L260.55,123.23 L260.6,122.3 L260.65,121.42 L260.7,120.6 L260.75,119.83 L260.8,119.12 L260.85,118.45 L260.9,117.83 L260.95,117.25 L260.99,116.88 L261,116.72 L261.05,116.22 L261.11,115.77 L261.16,115.33 L261.21,114.91 L261.26,114.5 L261.31,114.11 L261.36,113.74 L261.41,113.38 L261.46,113.04 L261.51,112.71 L261.54,112.55 L261.56,112.4 L261.61,112.1 L261.66,111.81 L261.71,111.54 L261.76,111.29 L261.81,111.04 L261.86,110.81 L261.91,110.6 L261.96,110.39 L262.01,110.2 L262.06,110.02 L262.08,109.96 L262.11,109.85 L262.16,109.67 L262.22,109.5 L262.27,109.34 L262.32,109.17 L262.37,109.01 L262.42,108.86 L262.47,108.71 L262.52,108.56 L262.57,108.41 L262.62,108.27 L262.63,108.24 L262.67,108.13 L262.72,107.99 L262.77,107.86 L262.82,107.73 L262.87,107.6 L262.92,107.47 L262.97,107.35 L263.02,107.23 L263.07,107.11 L263.12,107 L263.17,106.88 L263.18,106.88 L263.22,106.77 L263.27,106.67 L263.33,106.56 L263.38,106.46 L263.43,106.35 L263.48,106.26 L263.53,106.16 L263.58,106.06 L263.63,105.97 L263.68,105.88 L263.72,105.8 L263.73,105.79 L263.78,105.7 L263.83,105.61 L263.88,105.53 L264.27,104.91 L264.82,104.15 L265.36,103.47 L265.91,102.87 L266.46,102.33 L267.01,101.84 L267.55,101.39 L268.1,100.97 L268.65,100.57 L269.19,100.19 L269.74,99.82 L270.29,99.46 L270.83,99.12 L271.38,98.79 L271.93,98.47 L272.47,98.17 L273.02,97.87 L273.57,97.58 L274.12,97.31 L274.66,97.04 L275.21,96.78 L275.76,96.52 L276.3,96.28 L276.85,96.03 L277.4,95.79 L277.94,95.56 L278.49,95.33 L279.04,95.1 L279.59,94.88 L280.13,94.67 L280.68,94.46 L281.23,94.26 L281.77,94.06 L282.32,93.86 L282.87,93.67 L283.41,93.48 L283.96,93.3 L284.51,93.12 L285.06,92.95 L285.6,92.77 L286.15,92.6 L286.7,92.44 L287.24,92.27 L287.79,92.11 L288.34,91.95 L288.88,91.79 L289.43,91.64 L289.98,91.48 L290.53,91.33 L291.07,91.19 L291.62,91.04 L292.17,90.9 L292.71,90.76 L293.26,90.62 L293.81,90.49 L294.35,90.35 L294.9,90.22 L295.45,90.09 L295.99,89.96 L296.54,89.84 L297.09,89.71 L297.64,89.59 L298.18,89.46 L298.73,89.34 L299.28,89.22 L299.82,89.1 L300.37,88.98 L300.92,88.87 L301.46,88.75 L302.01,88.63 L302.56,88.52 L303.11,88.4 L303.65,88.29 L304.2,88.17 L304.75,88.06 L305.29,87.95 L305.84,87.84 L306.39,87.73 L306.93,87.62 L307.48,87.51 L308.03,87.41 L308.58,87.3 L309.12,87.19 L309.67,87.09 L310.22,86.99 L310.76,86.89 L311.31,86.78 L311.86,86.69 L312.4,86.59 L312.95,86.49 L313.5,86.39 L314.05,86.3 L314.59,86.2 L315.14,86.11 L315.69,86.02 L316.23,85.93 L316.78,85.84 L317.33,85.75 L317.87,85.66 L318.42,85.58 L318.97,85.5 L319.52,85.42 L320.06,85.34 L320.61,85.27 L321.16,85.2 L321.7,85.13 L322.25,85.06 L322.8,84.99 L323.34,84.93 L323.89,84.86 L324.44,84.79 L324.98,84.72 L325.53,84.66 L326.08,84.59 L326.63,84.51 L327.17,84.44 L327.72,84.36 L328.27,84.28 L328.81,84.2 L329.36,84.11 L329.91,84.02 L330.45,83.93 L331,83.83 L331.55,83.73 L332.1,83.62 L332.64,83.5 L333.19,83.39 L333.74,83.27 L334.28,83.14 L334.83,83.01 L335.38,82.88 L335.92,82.74 L336.47,82.6 L337.02,82.44 L337.57,82.28 L338.11,82.12 L338.66,81.94 L339.21,81.76 L339.75,81.58 L340.3,81.39 L340.85,81.19 L341.39,81 L341.94,80.8 L342.49,80.6 L343.04,80.4 L343.58,80.21 L344.13,80.01 L344.68,79.81 L345.22,79.61 L345.77,79.41 L346.32,79.2 L346.86,78.98 L347.41,78.76 L347.96,78.54 L348.51,78.31 L349.05,78.09 L349.6,77.87 L350.15,77.64 L350.69,77.42 L351.24,77.21 L351.79,77 L352.33,76.8 L352.88,76.6 L353.43,76.42 L353.97,76.24 L354.52,76.07 L355.07,75.92 L355.62,75.77 L356.16,75.62 L356.71,75.48 L357.26,75.34 L357.8,75.2 L358.35,75.07 L358.9,74.93 L359.44,74.8 L359.99,74.67 L360.54,74.55 L361.09,74.42 L361.63,74.3 L362.18,74.19 L362.73,74.07 L363.27,73.96 L363.82,73.85 L364.37,73.74 L364.91,73.63 L365.46,73.53 L366.01,73.43 L366.56,73.33 L367.1,73.23 L367.65,73.14 L368.2,73.05 L368.74,72.96 L369.29,72.87 L369.84,72.79 L370.38,72.71 L370.93,72.63 L371.48,72.55 L372.03,72.48 L372.57,72.41 L373.12,72.34 L373.67,72.28 L374.21,72.21 L374.76,72.15 L375.31,72.09 L375.85,72.03 L376.4,71.97 L376.95,71.91 L377.5,71.86 L378.04,71.8 L378.59,71.74 L379.14,71.68 L379.68,71.63 L380.23,71.57 L380.78,71.51 L381.32,71.45 L381.87,71.39 L382.42,71.33 L382.96,71.26 L383.51,71.2 L384.06,71.13 L384.61,71.06 L385.15,70.99 L385.7,70.92 L386.25,70.84 L386.79,70.77 L387.34,70.69 L387.89,70.61 L388.43,70.54 L388.98,70.46 L389.53,70.38 L390.08,70.3 L390.62,70.21 L391.17,70.13 L391.72,70.04 L392.26,69.96 L392.81,69.87 L393.36,69.78 L393.9,69.68 L394.45,69.59 L395,69.5 L395.55,69.41 L396.09,69.32 L396.64,69.24 L397.19,69.15 L397.73,69.06 L398.28,68.97 L398.83,68.88 L399.37,68.78 L399.92,68.69 L400.47,68.59 L401.02,68.48 L401.56,68.38 L402.11,68.27 L402.66,68.15 L403.2,68.03 L403.75,67.91 L404.3,67.78 L404.84,67.64 L405.39,67.49 L405.94,67.34 L406.49,67.18 L407.03,67.01 L407.58,66.84 L408.13,66.65 L408.67,66.45 L409.22,66.24 L409.77,66.01 L410.31,65.77 L410.86,65.5 L411.41,65.22 L411.95,64.91 L412.5,64.58 L412.81,64.38 L412.95,64.29 L413.05,64.23 L413.08,64.2 L413.22,64.11 L413.35,64.02 L413.49,63.92 L413.6,63.84 L413.62,63.82 L413.75,63.73 L413.89,63.62 L414.02,63.52 L414.14,63.43 L414.16,63.42 L414.29,63.31 L414.43,63.2 L414.56,63.09 L414.69,62.98 L414.7,62.98 L414.83,62.86 L414.97,62.75 L415.1,62.63 L415.23,62.51 L415.24,62.51 L415.37,62.39 L415.5,62.26 L415.64,62.14 L415.77,62.01 L415.78,62 L415.91,61.88 L416.04,61.74 L416.18,61.61 L416.31,61.47 L416.33,61.45 L416.45,61.33 L416.58,61.19 L416.71,61.04 L416.85,60.9 L416.88,60.86 L416.98,60.75 L417.12,60.59 L417.25,60.44 L417.39,60.28 L417.42,60.24 L417.52,60.11 L417.66,59.92 L417.79,59.71 L417.93,59.49 L417.97,59.41 L418.06,59.25 L418.19,59 L418.33,58.73 L418.46,58.44 L418.52,58.32 L418.6,58.14 L418.73,57.82 L418.87,57.49 L419,57.14 L419.07,56.97 L419.14,56.78 L419.27,56.41 L419.41,56.02 L419.54,55.62 L419.61,55.4 L419.67,55.2 L419.81,54.78 L419.94,54.33 L420.08,53.88 L420.16,53.6 L420.21,53.41 L420.35,52.93 L420.48,52.44 L420.62,51.94 L420.71,51.6 L420.75,51.43 L420.89,50.9 L421.02,50.36 L421.15,49.81 L421.25,49.4 L421.29,49.26 L421.42,48.69 L421.56,48.09 L421.69,47.42 L421.8,46.83 L421.83,46.68 L421.96,45.88 L422.1,45.02 L422.23,44.11 L422.35,43.29 L422.37,43.16 L422.5,42.17 L422.63,41.14 L422.77,40.08 L422.89,39.06 L422.9,38.99 L423.04,37.89 L423.17,36.76 L423.31,35.63 L423.44,34.5" fill="none" stroke="#f01414" stroke-width="1.3" stroke-linejoin="round" stroke-linecap="butt"/>
<path d="M259.23,34.5 L259.28,35.24 L259.33,35.98 L259.38,36.71 L259.43,37.44 L259.48,38.16 L259.53,38.88 L259.58,39.59 L259.63,40.29 L259.68,40.99 L259.73,41.7 L259.78,42.38 L259.78,42.41 L259.84,43.12 L259.89,43.83 L259.94,44.53 L259.99,45.22 L260.04,45.9 L260.09,46.57 L260.14,47.23 L260.19,47.87 L260.24,48.49 L260.29,49.09 L260.33,49.62 L260.34,49.68 L260.39,50.27 L260.44,50.86 L260.49,51.44 L260.54,52.01 L260.59,52.57 L260.64,53.12 L260.69,53.64 L260.74,54.14 L260.79,54.62 L260.84,55.07 L260.89,55.42 L260.89,55.49 L260.95,55.87 L261,56.22 L261.05,56.55 L261.1,56.88 L261.15,57.2 L261.2,57.5 L261.25,57.8 L261.3,58.09 L261.35,58.36 L261.4,58.63 L261.44,58.84 L261.45,58.89 L261.5,59.14 L261.55,59.39 L261.6,59.62 L261.65,59.85 L261.7,60.08 L261.75,60.29 L261.8,60.5 L261.85,60.7 L261.9,60.9 L261.95,61.1 L261.99,61.24 L262,61.28 L262.06,61.47 L262.11,61.65 L262.16,61.83 L262.21,62 L262.26,62.17 L262.31,62.34 L262.36,62.5 L262.41,62.66 L262.46,62.82 L262.51,62.98 L262.54,63.08 L262.56,63.13 L262.61,63.28 L262.66,63.42 L262.71,63.56 L262.76,63.7 L262.81,63.84 L262.86,63.97 L262.91,64.1 L262.96,64.22 L263.01,64.35 L263.06,64.47 L263.1,64.54 L263.11,64.58 L263.17,64.69 L263.22,64.8 L263.65,65.65 L264.2,66.58 L264.75,67.31 L265.31,67.83 L265.86,68.26 L266.41,68.64 L266.96,68.97 L267.51,69.25 L268.07,69.51 L268.62,69.76 L269.17,69.99 L269.72,70.21 L270.28,70.42 L270.83,70.62 L271.38,70.81 L271.93,70.99 L272.49,71.17 L273.04,71.34 L273.59,71.5 L274.14,71.66 L274.69,71.81 L275.25,71.96 L275.8,72.11 L276.35,72.25 L276.9,72.4 L277.46,72.54 L278.01,72.68 L278.56,72.82 L279.11,72.96 L279.67,73.1 L280.22,73.24 L280.77,73.37 L281.32,73.5 L281.87,73.63 L282.43,73.76 L282.98,73.88 L283.53,74 L284.08,74.12 L284.64,74.24 L285.19,74.35 L285.74,74.45 L286.29,74.56 L286.85,74.66 L287.4,74.76 L287.95,74.85 L288.5,74.94 L289.05,75.03 L289.61,75.11 L290.16,75.19 L290.71,75.26 L291.26,75.33 L291.82,75.4 L292.37,75.47 L292.92,75.54 L293.47,75.6 L294.03,75.67 L294.58,75.74 L295.13,75.8 L295.68,75.87 L296.23,75.94 L296.79,76.02 L297.34,76.09 L297.89,76.17 L298.44,76.25 L299,76.34 L299.55,76.42 L300.1,76.51 L300.65,76.59 L301.21,76.68 L301.76,76.77 L302.31,76.86 L302.86,76.96 L303.41,77.05 L303.97,77.14 L304.52,77.24 L305.07,77.33 L305.62,77.43 L306.18,77.53 L306.73,77.62 L307.28,77.72 L307.83,77.82 L308.39,77.92 L308.94,78.02 L309.49,78.11 L310.04,78.21 L310.6,78.31 L311.15,78.41 L311.7,78.51 L312.25,78.61 L312.8,78.71 L313.36,78.81 L313.91,78.9 L314.46,79 L315.01,79.1 L315.57,79.19 L316.12,79.29 L316.67,79.38 L317.22,79.48 L317.78,79.57 L318.33,79.66 L318.88,79.75 L319.43,79.84 L319.98,79.93 L320.54,80.02 L321.09,80.1 L321.64,80.19 L322.19,80.28 L322.75,80.36 L323.3,80.45 L323.85,80.53 L324.4,80.62 L324.96,80.71 L325.51,80.8 L326.06,80.89 L326.61,80.98 L327.16,81.07 L327.72,81.16 L328.27,81.26 L328.82,81.36 L329.37,81.46 L329.93,81.56 L330.48,81.66 L331.03,81.77 L331.58,81.88 L332.14,81.99 L332.69,82.1 L333.24,82.22 L333.79,82.34 L334.34,82.46 L334.9,82.59 L335.45,82.72 L336,82.86 L336.55,83 L337.11,83.16 L337.66,83.32 L338.21,83.49 L338.76,83.66 L339.32,83.84 L339.87,84.02 L340.42,84.21 L340.97,84.4 L341.52,84.59 L342.08,84.78 L342.63,84.97 L343.18,85.16 L343.73,85.35 L344.29,85.53 L344.84,85.71 L345.39,85.89 L345.94,86.07 L346.5,86.24 L347.05,86.42 L347.6,86.6 L348.15,86.78 L348.7,86.96 L349.26,87.14 L349.81,87.32 L350.36,87.5 L350.91,87.67 L351.47,87.85 L352.02,88.03 L352.57,88.21 L353.12,88.39 L353.68,88.56 L354.23,88.74 L354.78,88.92 L355.33,89.09 L355.88,89.27 L356.44,89.46 L356.99,89.64 L357.54,89.83 L358.09,90.01 L358.65,90.2 L359.2,90.39 L359.75,90.58 L360.3,90.77 L360.86,90.96 L361.41,91.15 L361.96,91.33 L362.51,91.52 L363.06,91.7 L363.62,91.88 L364.17,92.06 L364.72,92.24 L365.27,92.41 L365.83,92.58 L366.38,92.75 L366.93,92.91 L367.48,93.06 L368.04,93.21 L368.59,93.36 L369.14,93.5 L369.69,93.63 L370.24,93.76 L370.8,93.88 L371.35,94.01 L371.9,94.13 L372.45,94.24 L373.01,94.36 L373.56,94.47 L374.11,94.58 L374.66,94.69 L375.22,94.79 L375.77,94.89 L376.32,95 L376.87,95.1 L377.42,95.19 L377.98,95.29 L378.53,95.39 L379.08,95.48 L379.63,95.58 L380.19,95.67 L380.74,95.76 L381.29,95.85 L381.84,95.94 L382.4,96.03 L382.95,96.12 L383.5,96.21 L384.05,96.29 L384.6,96.38 L385.16,96.47 L385.71,96.55 L386.26,96.63 L386.81,96.71 L387.37,96.78 L387.92,96.85 L388.47,96.92 L389.02,96.98 L389.58,97.05 L390.13,97.11 L390.68,97.17 L391.23,97.23 L391.78,97.29 L392.34,97.35 L392.89,97.41 L393.44,97.46 L393.99,97.52 L394.55,97.58 L395.1,97.65 L395.65,97.71 L396.2,97.77 L396.76,97.84 L397.31,97.91 L397.86,97.99 L398.41,98.06 L398.97,98.14 L399.52,98.23 L400.07,98.31 L400.62,98.41 L401.17,98.5 L401.73,98.61 L402.28,98.71 L402.83,98.83 L403.38,98.95 L403.94,99.08 L404.49,99.21 L405.04,99.36 L405.59,99.51 L406.15,99.68 L406.7,99.86 L407.25,100.06 L407.8,100.27 L408.35,100.49 L408.91,100.73 L409.46,100.99 L410.01,101.27 L410.56,101.57 L411.12,101.89 L411.67,102.23 L412.22,102.6 L412.77,102.99 L413.33,103.4 L413.74,103.73 L413.88,103.84 L413.88,103.84 L414.01,103.95 L414.15,104.06 L414.28,104.18 L414.42,104.29 L414.43,104.31 L414.55,104.41 L414.68,104.53 L414.82,104.65 L414.95,104.77 L414.98,104.8 L415.09,104.9 L415.22,105.02 L415.36,105.15 L415.49,105.28 L415.53,105.32 L415.63,105.41 L415.76,105.54 L415.9,105.68 L416.03,105.82 L416.09,105.87 L416.16,105.95 L416.3,106.09 L416.43,106.24 L416.57,106.38 L416.64,106.46 L416.7,106.52 L416.84,106.67 L416.97,106.82 L417.11,106.97 L417.19,107.07 L417.24,107.13 L417.38,107.28 L417.51,107.44 L417.64,107.6 L417.74,107.72 L417.78,107.77 L417.91,107.95 L418.05,108.15 L418.18,108.35 L418.3,108.54 L418.32,108.58 L418.45,108.81 L418.59,109.06 L418.72,109.33 L418.85,109.59 L418.86,109.61 L418.99,109.9 L419.12,110.22 L419.26,110.55 L419.39,110.89 L419.4,110.91 L419.53,111.26 L419.66,111.64 L419.8,112.04 L419.93,112.46 L419.95,112.52 L420.07,112.89 L420.2,113.35 L420.34,113.83 L420.47,114.33 L420.51,114.46 L420.6,114.85 L420.74,115.39 L420.87,115.95 L421.01,116.53 L421.06,116.75 L421.14,117.14 L421.28,117.77 L421.41,118.42 L421.55,119.09 L421.61,119.42 L421.68,119.8 L421.82,120.52 L421.95,121.27 L422.08,122.05 L422.16,122.51 L422.22,122.85 L422.35,123.68 L422.49,124.53 L422.62,125.41 L422.71,126.03 L422.76,126.32 L422.89,127.4 L423.03,128.87 L423.16,130.7 L423.27,132.36 L423.3,132.83 L423.43,135.23 L423.56,137.84 L423.7,140.62 L423.82,143.22 L423.83,143.53 L423.97,146.51 L424.1,149.53 L424.24,152.55 L424.37,155.5" fill="none" stroke="#f01414" stroke-width="1.3" stroke-linejoin="round" stroke-linecap="butt"/>
<line x1="255.1" y1="23.5" x2="258.3" y2="23.5" stroke="#444" stroke-width="0.9"/>
<text x="253.6" y="26.7" font-size="9" text-anchor="end" fill="#000" font-weight="bold" stroke="#000" stroke-width="0.22">4.6</text>
<line x1="256.7" y1="34.5" x2="258.3" y2="34.5" stroke="#444" stroke-width="0.9"/>
<line x1="255.1" y1="45.5" x2="258.3" y2="45.5" stroke="#444" stroke-width="0.9"/>
<text x="253.6" y="48.7" font-size="9" text-anchor="end" fill="#000" font-weight="bold" stroke="#000" stroke-width="0.22">4.4</text>
<line x1="256.7" y1="56.5" x2="258.3" y2="56.5" stroke="#444" stroke-width="0.9"/>
<line x1="255.1" y1="67.5" x2="258.3" y2="67.5" stroke="#444" stroke-width="0.9"/>
<text x="253.6" y="70.7" font-size="9" text-anchor="end" fill="#000" font-weight="bold" stroke="#000" stroke-width="0.22">4.2</text>
<line x1="256.7" y1="78.5" x2="258.3" y2="78.5" stroke="#444" stroke-width="0.9"/>
<line x1="255.1" y1="89.5" x2="258.3" y2="89.5" stroke="#444" stroke-width="0.9"/>
<text x="253.6" y="92.7" font-size="9" text-anchor="end" fill="#000" font-weight="bold" stroke="#000" stroke-width="0.22">4.0</text>
<line x1="256.7" y1="100.5" x2="258.3" y2="100.5" stroke="#444" stroke-width="0.9"/>
<line x1="255.1" y1="111.5" x2="258.3" y2="111.5" stroke="#444" stroke-width="0.9"/>
<text x="253.6" y="114.7" font-size="9" text-anchor="end" fill="#000" font-weight="bold" stroke="#000" stroke-width="0.22">3.8</text>
<line x1="256.7" y1="122.5" x2="258.3" y2="122.5" stroke="#444" stroke-width="0.9"/>
<line x1="255.1" y1="133.5" x2="258.3" y2="133.5" stroke="#444" stroke-width="0.9"/>
<text x="253.6" y="136.7" font-size="9" text-anchor="end" fill="#000" font-weight="bold" stroke="#000" stroke-width="0.22">3.6</text>
<line x1="256.7" y1="144.5" x2="258.3" y2="144.5" stroke="#444" stroke-width="0.9"/>
<line x1="255.1" y1="155.5" x2="258.3" y2="155.5" stroke="#444" stroke-width="0.9"/>
<text x="253.6" y="158.7" font-size="9" text-anchor="end" fill="#000" font-weight="bold" stroke="#000" stroke-width="0.22">3.4</text>
<line x1="258.3" y1="166.3" x2="258.3" y2="169.3" stroke="#444" stroke-width="0.9"/>
<text x="258.5" y="178.8" font-size="9" text-anchor="middle" fill="#000" font-weight="bold" stroke="#000" stroke-width="0.22">0</text>
<line x1="271.59" y1="166.3" x2="271.59" y2="167.9" stroke="#444" stroke-width="0.9"/>
<line x1="284.87" y1="166.3" x2="284.87" y2="169.3" stroke="#444" stroke-width="0.9"/>
<text x="285.07" y="178.8" font-size="9" text-anchor="middle" fill="#000" font-weight="bold" stroke="#000" stroke-width="0.22">20</text>
<line x1="298.16" y1="166.3" x2="298.16" y2="167.9" stroke="#444" stroke-width="0.9"/>
<line x1="311.44" y1="166.3" x2="311.44" y2="169.3" stroke="#444" stroke-width="0.9"/>
<text x="311.64" y="178.8" font-size="9" text-anchor="middle" fill="#000" font-weight="bold" stroke="#000" stroke-width="0.22">40</text>
<line x1="324.73" y1="166.3" x2="324.73" y2="167.9" stroke="#444" stroke-width="0.9"/>
<line x1="338.01" y1="166.3" x2="338.01" y2="169.3" stroke="#444" stroke-width="0.9"/>
<text x="338.21" y="178.8" font-size="9" text-anchor="middle" fill="#000" font-weight="bold" stroke="#000" stroke-width="0.22">60</text>
<line x1="351.3" y1="166.3" x2="351.3" y2="167.9" stroke="#444" stroke-width="0.9"/>
<line x1="364.59" y1="166.3" x2="364.59" y2="169.3" stroke="#444" stroke-width="0.9"/>
<text x="364.79" y="178.8" font-size="9" text-anchor="middle" fill="#000" font-weight="bold" stroke="#000" stroke-width="0.22">80</text>
<line x1="377.87" y1="166.3" x2="377.87" y2="167.9" stroke="#444" stroke-width="0.9"/>
<line x1="391.16" y1="166.3" x2="391.16" y2="169.3" stroke="#444" stroke-width="0.9"/>
<text x="391.36" y="178.8" font-size="9" text-anchor="middle" fill="#000" font-weight="bold" stroke="#000" stroke-width="0.22">100</text>
<line x1="404.44" y1="166.3" x2="404.44" y2="167.9" stroke="#444" stroke-width="0.9"/>
<line x1="417.73" y1="166.3" x2="417.73" y2="169.3" stroke="#444" stroke-width="0.9"/>
<text x="417.93" y="178.8" font-size="9" text-anchor="middle" fill="#000" font-weight="bold" stroke="#000" stroke-width="0.22">120</text>
<line x1="431.01" y1="166.3" x2="431.01" y2="167.9" stroke="#444" stroke-width="0.9"/>
<line x1="444.3" y1="166.3" x2="444.3" y2="169.3" stroke="#444" stroke-width="0.9"/>
<text x="444.5" y="178.8" font-size="9" text-anchor="middle" fill="#000" font-weight="bold" stroke="#000" stroke-width="0.22">140</text>
<text x="308" y="193" font-size="10" text-anchor="start" fill="#000" font-weight="bold" stroke="#000" stroke-width="0.22">Capacity (mAh g<tspan font-size="6.5" dy="-4">-1</tspan><tspan dy="4">)</tspan></text>
<text transform="translate(235.7,85.6) rotate(-90)" x="0" y="0" font-size="10" text-anchor="middle" fill="#000" font-weight="bold" stroke="#000" stroke-width="0.22">Voltage (V)</text>
<text x="235.9" y="8.9" font-size="12.6" text-anchor="start" fill="#000" font-weight="bold" stroke="#000" stroke-width="0.22">b</text>
<text x="263.8" y="27.8" font-size="10.8" text-anchor="start" fill="#000" font-weight="bold" stroke="#000" stroke-width="0.22">LMO-TB</text>
<text x="346.4" y="25.1" font-size="8.1" text-anchor="start" fill="#000" font-weight="bold" stroke="#000" stroke-width="0.22">10C</text>
<text x="364.6" y="25.1" font-size="8.1" text-anchor="start" fill="#000" font-weight="bold" stroke="#000" stroke-width="0.22">5C</text>
<text x="378.4" y="25.1" font-size="8.1" text-anchor="start" fill="#000" font-weight="bold" stroke="#000" stroke-width="0.22">2C</text>
<text x="392" y="25.1" font-size="8.1" text-anchor="start" fill="#000" font-weight="bold" stroke="#000" stroke-width="0.22">1C</text>
<text x="405.8" y="25.1" font-size="8.1" text-anchor="start" fill="#000" font-weight="bold" stroke="#000" stroke-width="0.22">0.5C</text>
<text x="424.8" y="25.1" font-size="8.1" text-anchor="start" fill="#000" font-weight="bold" stroke="#000" stroke-width="0.22">0.2C</text>
<line x1="316.2" y1="27.8" x2="443.4" y2="27.8" stroke="#3a3a3a" stroke-width="1"/>
<path d="M312.2,27.8 L316.8,26.1 L316,27.8 L316.8,29.5 Z" fill="#111"/>
<path d="M503.48,46.22 L508.65,47.17 L513.83,47.37 L519.01,47.65 L524.19,48.23 L529.36,55.02 L534.54,55.4 L539.72,55.69 L544.89,55.88 L550.07,56.17 L555.25,68.7 L560.42,67.56 L565.6,67.56 L570.78,68.13 L575.96,68.13 L581.13,77.99 L586.31,78.66 L591.49,78.75 L596.66,78.75 L601.84,79.04 L607.02,104.49 L612.19,105.07 L617.37,105.07 L622.55,105.07 L627.73,105.35 L632.9,137.79 L638.08,138.27 L643.26,138.08 L648.43,138.08 L653.61,138.08 L658.79,50.52 L663.96,51.38 L669.14,51.77 L674.32,52.15 L679.5,52.63" fill="none" stroke="#777" stroke-width="0.5" stroke-linejoin="round" stroke-linecap="round"/>
<path d="M503.48,38.37 L508.65,38.08 L513.83,39.52 L519.01,39.52 L524.19,39.81 L529.36,45.36 L534.54,46.22 L539.72,46.5 L544.89,46.79 L550.07,47.08 L555.25,54.16 L560.42,54.35 L565.6,55.69 L570.78,55.69 L575.96,55.21 L581.13,63.35 L586.31,63.35 L591.49,62.58 L596.66,63.35 L601.84,64.11 L607.02,72.82 L612.19,73.87 L617.37,73.59 L622.55,74.35 L627.73,73.59 L632.9,94.64 L638.08,93.58 L643.26,93.01 L648.43,93.01 L653.61,93.58 L658.79,42.29 L663.96,41.53 L669.14,41.05 L674.32,41.53 L679.5,42.68" fill="none" stroke="#f55" stroke-width="0.5" stroke-linejoin="round" stroke-linecap="round"/>
<circle cx="503.48" cy="46.22" r="2.25" fill="#fff" stroke="#000" stroke-width="0.8"/>
<path d="M501.23,46.22 A2.25,2.25 0 0 1 505.73,46.22 Z" fill="#000"/>
<circle cx="508.65" cy="47.17" r="2.25" fill="#fff" stroke="#000" stroke-width="0.8"/>
<path d="M506.4,47.17 A2.25,2.25 0 0 1 510.9,47.17 Z" fill="#000"/>
<circle cx="513.83" cy="47.37" r="2.25" fill="#fff" stroke="#000" stroke-width="0.8"/>
<path d="M511.58,47.37 A2.25,2.25 0 0 1 516.08,47.37 Z" fill="#000"/>
<circle cx="519.01" cy="47.65" r="2.25" fill="#fff" stroke="#000" stroke-width="0.8"/>
<path d="M516.76,47.65 A2.25,2.25 0 0 1 521.26,47.65 Z" fill="#000"/>
<circle cx="524.19" cy="48.23" r="2.25" fill="#fff" stroke="#000" stroke-width="0.8"/>
<path d="M521.94,48.23 A2.25,2.25 0 0 1 526.44,48.23 Z" fill="#000"/>
<circle cx="529.36" cy="55.02" r="2.25" fill="#fff" stroke="#000" stroke-width="0.8"/>
<path d="M527.11,55.02 A2.25,2.25 0 0 1 531.61,55.02 Z" fill="#000"/>
<circle cx="534.54" cy="55.4" r="2.25" fill="#fff" stroke="#000" stroke-width="0.8"/>
<path d="M532.29,55.4 A2.25,2.25 0 0 1 536.79,55.4 Z" fill="#000"/>
<circle cx="539.72" cy="55.69" r="2.25" fill="#fff" stroke="#000" stroke-width="0.8"/>
<path d="M537.47,55.69 A2.25,2.25 0 0 1 541.97,55.69 Z" fill="#000"/>
<circle cx="544.89" cy="55.88" r="2.25" fill="#fff" stroke="#000" stroke-width="0.8"/>
<path d="M542.64,55.88 A2.25,2.25 0 0 1 547.14,55.88 Z" fill="#000"/>
<circle cx="550.07" cy="56.17" r="2.25" fill="#fff" stroke="#000" stroke-width="0.8"/>
<path d="M547.82,56.17 A2.25,2.25 0 0 1 552.32,56.17 Z" fill="#000"/>
<circle cx="555.25" cy="68.7" r="2.25" fill="#fff" stroke="#000" stroke-width="0.8"/>
<path d="M553,68.7 A2.25,2.25 0 0 1 557.5,68.7 Z" fill="#000"/>
<circle cx="560.42" cy="67.56" r="2.25" fill="#fff" stroke="#000" stroke-width="0.8"/>
<path d="M558.17,67.56 A2.25,2.25 0 0 1 562.67,67.56 Z" fill="#000"/>
<circle cx="565.6" cy="67.56" r="2.25" fill="#fff" stroke="#000" stroke-width="0.8"/>
<path d="M563.35,67.56 A2.25,2.25 0 0 1 567.85,67.56 Z" fill="#000"/>
<circle cx="570.78" cy="68.13" r="2.25" fill="#fff" stroke="#000" stroke-width="0.8"/>
<path d="M568.53,68.13 A2.25,2.25 0 0 1 573.03,68.13 Z" fill="#000"/>
<circle cx="575.96" cy="68.13" r="2.25" fill="#fff" stroke="#000" stroke-width="0.8"/>
<path d="M573.71,68.13 A2.25,2.25 0 0 1 578.21,68.13 Z" fill="#000"/>
<circle cx="581.13" cy="77.99" r="2.25" fill="#fff" stroke="#000" stroke-width="0.8"/>
<path d="M578.88,77.99 A2.25,2.25 0 0 1 583.38,77.99 Z" fill="#000"/>
<circle cx="586.31" cy="78.66" r="2.25" fill="#fff" stroke="#000" stroke-width="0.8"/>
<path d="M584.06,78.66 A2.25,2.25 0 0 1 588.56,78.66 Z" fill="#000"/>
<circle cx="591.49" cy="78.75" r="2.25" fill="#fff" stroke="#000" stroke-width="0.8"/>
<path d="M589.24,78.75 A2.25,2.25 0 0 1 593.74,78.75 Z" fill="#000"/>
<circle cx="596.66" cy="78.75" r="2.25" fill="#fff" stroke="#000" stroke-width="0.8"/>
<path d="M594.41,78.75 A2.25,2.25 0 0 1 598.91,78.75 Z" fill="#000"/>
<circle cx="601.84" cy="79.04" r="2.25" fill="#fff" stroke="#000" stroke-width="0.8"/>
<path d="M599.59,79.04 A2.25,2.25 0 0 1 604.09,79.04 Z" fill="#000"/>
<circle cx="607.02" cy="104.49" r="2.25" fill="#fff" stroke="#000" stroke-width="0.8"/>
<path d="M604.77,104.49 A2.25,2.25 0 0 1 609.27,104.49 Z" fill="#000"/>
<circle cx="612.19" cy="105.07" r="2.25" fill="#fff" stroke="#000" stroke-width="0.8"/>
<path d="M609.94,105.07 A2.25,2.25 0 0 1 614.44,105.07 Z" fill="#000"/>
<circle cx="617.37" cy="105.07" r="2.25" fill="#fff" stroke="#000" stroke-width="0.8"/>
<path d="M615.12,105.07 A2.25,2.25 0 0 1 619.62,105.07 Z" fill="#000"/>
<circle cx="622.55" cy="105.07" r="2.25" fill="#fff" stroke="#000" stroke-width="0.8"/>
<path d="M620.3,105.07 A2.25,2.25 0 0 1 624.8,105.07 Z" fill="#000"/>
<circle cx="627.73" cy="105.35" r="2.25" fill="#fff" stroke="#000" stroke-width="0.8"/>
<path d="M625.48,105.35 A2.25,2.25 0 0 1 629.98,105.35 Z" fill="#000"/>
<circle cx="632.9" cy="137.79" r="2.25" fill="#fff" stroke="#000" stroke-width="0.8"/>
<path d="M630.65,137.79 A2.25,2.25 0 0 1 635.15,137.79 Z" fill="#000"/>
<circle cx="638.08" cy="138.27" r="2.25" fill="#fff" stroke="#000" stroke-width="0.8"/>
<path d="M635.83,138.27 A2.25,2.25 0 0 1 640.33,138.27 Z" fill="#000"/>
<circle cx="643.26" cy="138.08" r="2.25" fill="#fff" stroke="#000" stroke-width="0.8"/>
<path d="M641.01,138.08 A2.25,2.25 0 0 1 645.51,138.08 Z" fill="#000"/>
<circle cx="648.43" cy="138.08" r="2.25" fill="#fff" stroke="#000" stroke-width="0.8"/>
<path d="M646.18,138.08 A2.25,2.25 0 0 1 650.68,138.08 Z" fill="#000"/>
<circle cx="653.61" cy="138.08" r="2.25" fill="#fff" stroke="#000" stroke-width="0.8"/>
<path d="M651.36,138.08 A2.25,2.25 0 0 1 655.86,138.08 Z" fill="#000"/>
<circle cx="658.79" cy="50.52" r="2.25" fill="#fff" stroke="#000" stroke-width="0.8"/>
<path d="M656.54,50.52 A2.25,2.25 0 0 1 661.04,50.52 Z" fill="#000"/>
<circle cx="663.96" cy="51.38" r="2.25" fill="#fff" stroke="#000" stroke-width="0.8"/>
<path d="M661.71,51.38 A2.25,2.25 0 0 1 666.21,51.38 Z" fill="#000"/>
<circle cx="669.14" cy="51.77" r="2.25" fill="#fff" stroke="#000" stroke-width="0.8"/>
<path d="M666.89,51.77 A2.25,2.25 0 0 1 671.39,51.77 Z" fill="#000"/>
<circle cx="674.32" cy="52.15" r="2.25" fill="#fff" stroke="#000" stroke-width="0.8"/>
<path d="M672.07,52.15 A2.25,2.25 0 0 1 676.57,52.15 Z" fill="#000"/>
<circle cx="679.5" cy="52.63" r="2.25" fill="#fff" stroke="#000" stroke-width="0.8"/>
<path d="M677.25,52.63 A2.25,2.25 0 0 1 681.75,52.63 Z" fill="#000"/>
<circle cx="503.48" cy="38.37" r="2.25" fill="#fff" stroke="#f0282a" stroke-width="0.8"/>
<path d="M501.23,38.37 A2.25,2.25 0 0 1 505.73,38.37 Z" fill="#f0282a"/>
<circle cx="508.65" cy="38.08" r="2.25" fill="#fff" stroke="#f0282a" stroke-width="0.8"/>
<path d="M506.4,38.08 A2.25,2.25 0 0 1 510.9,38.08 Z" fill="#f0282a"/>
<circle cx="513.83" cy="39.52" r="2.25" fill="#fff" stroke="#f0282a" stroke-width="0.8"/>
<path d="M511.58,39.52 A2.25,2.25 0 0 1 516.08,39.52 Z" fill="#f0282a"/>
<circle cx="519.01" cy="39.52" r="2.25" fill="#fff" stroke="#f0282a" stroke-width="0.8"/>
<path d="M516.76,39.52 A2.25,2.25 0 0 1 521.26,39.52 Z" fill="#f0282a"/>
<circle cx="524.19" cy="39.81" r="2.25" fill="#fff" stroke="#f0282a" stroke-width="0.8"/>
<path d="M521.94,39.81 A2.25,2.25 0 0 1 526.44,39.81 Z" fill="#f0282a"/>
<circle cx="529.36" cy="45.36" r="2.25" fill="#fff" stroke="#f0282a" stroke-width="0.8"/>
<path d="M527.11,45.36 A2.25,2.25 0 0 1 531.61,45.36 Z" fill="#f0282a"/>
<circle cx="534.54" cy="46.22" r="2.25" fill="#fff" stroke="#f0282a" stroke-width="0.8"/>
<path d="M532.29,46.22 A2.25,2.25 0 0 1 536.79,46.22 Z" fill="#f0282a"/>
<circle cx="539.72" cy="46.5" r="2.25" fill="#fff" stroke="#f0282a" stroke-width="0.8"/>
<path d="M537.47,46.5 A2.25,2.25 0 0 1 541.97,46.5 Z" fill="#f0282a"/>
<circle cx="544.89" cy="46.79" r="2.25" fill="#fff" stroke="#f0282a" stroke-width="0.8"/>
<path d="M542.64,46.79 A2.25,2.25 0 0 1 547.14,46.79 Z" fill="#f0282a"/>
<circle cx="550.07" cy="47.08" r="2.25" fill="#fff" stroke="#f0282a" stroke-width="0.8"/>
<path d="M547.82,47.08 A2.25,2.25 0 0 1 552.32,47.08 Z" fill="#f0282a"/>
<circle cx="555.25" cy="54.16" r="2.25" fill="#fff" stroke="#f0282a" stroke-width="0.8"/>
<path d="M553,54.16 A2.25,2.25 0 0 1 557.5,54.16 Z" fill="#f0282a"/>
<circle cx="560.42" cy="54.35" r="2.25" fill="#fff" stroke="#f0282a" stroke-width="0.8"/>
<path d="M558.17,54.35 A2.25,2.25 0 0 1 562.67,54.35 Z" fill="#f0282a"/>
<circle cx="565.6" cy="55.69" r="2.25" fill="#fff" stroke="#f0282a" stroke-width="0.8"/>
<path d="M563.35,55.69 A2.25,2.25 0 0 1 567.85,55.69 Z" fill="#f0282a"/>
<circle cx="570.78" cy="55.69" r="2.25" fill="#fff" stroke="#f0282a" stroke-width="0.8"/>
<path d="M568.53,55.69 A2.25,2.25 0 0 1 573.03,55.69 Z" fill="#f0282a"/>
<circle cx="575.96" cy="55.21" r="2.25" fill="#fff" stroke="#f0282a" stroke-width="0.8"/>
<path d="M573.71,55.21 A2.25,2.25 0 0 1 578.21,55.21 Z" fill="#f0282a"/>
<circle cx="581.13" cy="63.35" r="2.25" fill="#fff" stroke="#f0282a" stroke-width="0.8"/>
<path d="M578.88,63.35 A2.25,2.25 0 0 1 583.38,63.35 Z" fill="#f0282a"/>
<circle cx="586.31" cy="63.35" r="2.25" fill="#fff" stroke="#f0282a" stroke-width="0.8"/>
<path d="M584.06,63.35 A2.25,2.25 0 0 1 588.56,63.35 Z" fill="#f0282a"/>
<circle cx="591.49" cy="62.58" r="2.25" fill="#fff" stroke="#f0282a" stroke-width="0.8"/>
<path d="M589.24,62.58 A2.25,2.25 0 0 1 593.74,62.58 Z" fill="#f0282a"/>
<circle cx="596.66" cy="63.35" r="2.25" fill="#fff" stroke="#f0282a" stroke-width="0.8"/>
<path d="M594.41,63.35 A2.25,2.25 0 0 1 598.91,63.35 Z" fill="#f0282a"/>
<circle cx="601.84" cy="64.11" r="2.25" fill="#fff" stroke="#f0282a" stroke-width="0.8"/>
<path d="M599.59,64.11 A2.25,2.25 0 0 1 604.09,64.11 Z" fill="#f0282a"/>
<circle cx="607.02" cy="72.82" r="2.25" fill="#fff" stroke="#f0282a" stroke-width="0.8"/>
<path d="M604.77,72.82 A2.25,2.25 0 0 1 609.27,72.82 Z" fill="#f0282a"/>
<circle cx="612.19" cy="73.87" r="2.25" fill="#fff" stroke="#f0282a" stroke-width="0.8"/>
<path d="M609.94,73.87 A2.25,2.25 0 0 1 614.44,73.87 Z" fill="#f0282a"/>
<circle cx="617.37" cy="73.59" r="2.25" fill="#fff" stroke="#f0282a" stroke-width="0.8"/>
<path d="M615.12,73.59 A2.25,2.25 0 0 1 619.62,73.59 Z" fill="#f0282a"/>
<circle cx="622.55" cy="74.35" r="2.25" fill="#fff" stroke="#f0282a" stroke-width="0.8"/>
<path d="M620.3,74.35 A2.25,2.25 0 0 1 624.8,74.35 Z" fill="#f0282a"/>
<circle cx="627.73" cy="73.59" r="2.25" fill="#fff" stroke="#f0282a" stroke-width="0.8"/>
<path d="M625.48,73.59 A2.25,2.25 0 0 1 629.98,73.59 Z" fill="#f0282a"/>
<circle cx="632.9" cy="94.64" r="2.25" fill="#fff" stroke="#f0282a" stroke-width="0.8"/>
<path d="M630.65,94.64 A2.25,2.25 0 0 1 635.15,94.64 Z" fill="#f0282a"/>
<circle cx="638.08" cy="93.58" r="2.25" fill="#fff" stroke="#f0282a" stroke-width="0.8"/>
<path d="M635.83,93.58 A2.25,2.25 0 0 1 640.33,93.58 Z" fill="#f0282a"/>
<circle cx="643.26" cy="93.01" r="2.25" fill="#fff" stroke="#f0282a" stroke-width="0.8"/>
<path d="M641.01,93.01 A2.25,2.25 0 0 1 645.51,93.01 Z" fill="#f0282a"/>
<circle cx="648.43" cy="93.01" r="2.25" fill="#fff" stroke="#f0282a" stroke-width="0.8"/>
<path d="M646.18,93.01 A2.25,2.25 0 0 1 650.68,93.01 Z" fill="#f0282a"/>
<circle cx="653.61" cy="93.58" r="2.25" fill="#fff" stroke="#f0282a" stroke-width="0.8"/>
<path d="M651.36,93.58 A2.25,2.25 0 0 1 655.86,93.58 Z" fill="#f0282a"/>
<circle cx="658.79" cy="42.29" r="2.25" fill="#fff" stroke="#f0282a" stroke-width="0.8"/>
<path d="M656.54,42.29 A2.25,2.25 0 0 1 661.04,42.29 Z" fill="#f0282a"/>
<circle cx="663.96" cy="41.53" r="2.25" fill="#fff" stroke="#f0282a" stroke-width="0.8"/>
<path d="M661.71,41.53 A2.25,2.25 0 0 1 666.21,41.53 Z" fill="#f0282a"/>
<circle cx="669.14" cy="41.05" r="2.25" fill="#fff" stroke="#f0282a" stroke-width="0.8"/>
<path d="M666.89,41.05 A2.25,2.25 0 0 1 671.39,41.05 Z" fill="#f0282a"/>
<circle cx="674.32" cy="41.53" r="2.25" fill="#fff" stroke="#f0282a" stroke-width="0.8"/>
<path d="M672.07,41.53 A2.25,2.25 0 0 1 676.57,41.53 Z" fill="#f0282a"/>
<circle cx="679.5" cy="42.68" r="2.25" fill="#fff" stroke="#f0282a" stroke-width="0.8"/>
<path d="M677.25,42.68 A2.25,2.25 0 0 1 681.75,42.68 Z" fill="#f0282a"/>
<line x1="498.3" y1="13.4" x2="684.4" y2="13.4" stroke="#aaa" stroke-width="1.1"/>
<line x1="684.4" y1="13.4" x2="684.4" y2="166.5" stroke="#777" stroke-width="1.1"/>
<line x1="498.3" y1="13.4" x2="498.3" y2="167" stroke="#555" stroke-width="1.1"/>
<line x1="497.8" y1="166.5" x2="684.9" y2="166.5" stroke="#555" stroke-width="1.1"/>
<line x1="495.3" y1="166.5" x2="498.3" y2="166.5" stroke="#444" stroke-width="0.9"/>
<text x="492.9" y="169.2" font-size="8.2" text-anchor="end" fill="#000" font-weight="bold" stroke="#000" stroke-width="0.22">0</text>
<line x1="496.8" y1="156.93" x2="498.3" y2="156.93" stroke="#444" stroke-width="0.9"/>
<line x1="495.3" y1="147.36" x2="498.3" y2="147.36" stroke="#444" stroke-width="0.9"/>
<text x="492.9" y="150.06" font-size="8.2" text-anchor="end" fill="#000" font-weight="bold" stroke="#000" stroke-width="0.22">20</text>
<line x1="496.8" y1="137.79" x2="498.3" y2="137.79" stroke="#444" stroke-width="0.9"/>
<line x1="495.3" y1="128.22" x2="498.3" y2="128.22" stroke="#444" stroke-width="0.9"/>
<text x="492.9" y="130.92" font-size="8.2" text-anchor="end" fill="#000" font-weight="bold" stroke="#000" stroke-width="0.22">40</text>
<line x1="496.8" y1="118.66" x2="498.3" y2="118.66" stroke="#444" stroke-width="0.9"/>
<line x1="495.3" y1="109.09" x2="498.3" y2="109.09" stroke="#444" stroke-width="0.9"/>
<text x="492.9" y="111.79" font-size="8.2" text-anchor="end" fill="#000" font-weight="bold" stroke="#000" stroke-width="0.22">60</text>
<line x1="496.8" y1="99.52" x2="498.3" y2="99.52" stroke="#444" stroke-width="0.9"/>
<line x1="495.3" y1="89.95" x2="498.3" y2="89.95" stroke="#444" stroke-width="0.9"/>
<text x="492.9" y="92.65" font-size="8.2" text-anchor="end" fill="#000" font-weight="bold" stroke="#000" stroke-width="0.22">80</text>
<line x1="496.8" y1="80.38" x2="498.3" y2="80.38" stroke="#444" stroke-width="0.9"/>
<line x1="495.3" y1="70.81" x2="498.3" y2="70.81" stroke="#444" stroke-width="0.9"/>
<text x="492.9" y="73.51" font-size="8.2" text-anchor="end" fill="#000" font-weight="bold" stroke="#000" stroke-width="0.22">100</text>
<line x1="496.8" y1="61.24" x2="498.3" y2="61.24" stroke="#444" stroke-width="0.9"/>
<line x1="495.3" y1="51.67" x2="498.3" y2="51.67" stroke="#444" stroke-width="0.9"/>
<text x="492.9" y="54.37" font-size="8.2" text-anchor="end" fill="#000" font-weight="bold" stroke="#000" stroke-width="0.22">120</text>
<line x1="496.8" y1="42.1" x2="498.3" y2="42.1" stroke="#444" stroke-width="0.9"/>
<line x1="495.3" y1="32.53" x2="498.3" y2="32.53" stroke="#444" stroke-width="0.9"/>
<text x="492.9" y="35.23" font-size="8.2" text-anchor="end" fill="#000" font-weight="bold" stroke="#000" stroke-width="0.22">140</text>
<line x1="496.8" y1="22.97" x2="498.3" y2="22.97" stroke="#444" stroke-width="0.9"/>
<line x1="495.3" y1="13.4" x2="498.3" y2="13.4" stroke="#444" stroke-width="0.9"/>
<text x="492.9" y="16.1" font-size="8.2" text-anchor="end" fill="#000" font-weight="bold" stroke="#000" stroke-width="0.22">160</text>
<line x1="498.3" y1="166.5" x2="498.3" y2="169.5" stroke="#444" stroke-width="0.9"/>
<text x="498.4" y="178.5" font-size="8.4" text-anchor="middle" fill="#000" font-weight="bold" stroke="#000" stroke-width="0.22">0</text>
<line x1="511.24" y1="166.5" x2="511.24" y2="168" stroke="#444" stroke-width="0.9"/>
<line x1="524.19" y1="166.5" x2="524.19" y2="169.5" stroke="#444" stroke-width="0.9"/>
<text x="524.29" y="178.5" font-size="8.4" text-anchor="middle" fill="#000" font-weight="bold" stroke="#000" stroke-width="0.22">5</text>
<line x1="537.13" y1="166.5" x2="537.13" y2="168" stroke="#444" stroke-width="0.9"/>
<line x1="550.07" y1="166.5" x2="550.07" y2="169.5" stroke="#444" stroke-width="0.9"/>
<text x="550.17" y="178.5" font-size="8.4" text-anchor="middle" fill="#000" font-weight="bold" stroke="#000" stroke-width="0.22">10</text>
<line x1="563.01" y1="166.5" x2="563.01" y2="168" stroke="#444" stroke-width="0.9"/>
<line x1="575.96" y1="166.5" x2="575.96" y2="169.5" stroke="#444" stroke-width="0.9"/>
<text x="576.06" y="178.5" font-size="8.4" text-anchor="middle" fill="#000" font-weight="bold" stroke="#000" stroke-width="0.22">15</text>
<line x1="588.9" y1="166.5" x2="588.9" y2="168" stroke="#444" stroke-width="0.9"/>
<line x1="601.84" y1="166.5" x2="601.84" y2="169.5" stroke="#444" stroke-width="0.9"/>
<text x="601.94" y="178.5" font-size="8.4" text-anchor="middle" fill="#000" font-weight="bold" stroke="#000" stroke-width="0.22">20</text>
<line x1="614.78" y1="166.5" x2="614.78" y2="168" stroke="#444" stroke-width="0.9"/>
<line x1="627.73" y1="166.5" x2="627.73" y2="169.5" stroke="#444" stroke-width="0.9"/>
<text x="627.83" y="178.5" font-size="8.4" text-anchor="middle" fill="#000" font-weight="bold" stroke="#000" stroke-width="0.22">25</text>
<line x1="640.67" y1="166.5" x2="640.67" y2="168" stroke="#444" stroke-width="0.9"/>
<line x1="653.61" y1="166.5" x2="653.61" y2="169.5" stroke="#444" stroke-width="0.9"/>
<text x="653.71" y="178.5" font-size="8.4" text-anchor="middle" fill="#000" font-weight="bold" stroke="#000" stroke-width="0.22">30</text>
<line x1="666.55" y1="166.5" x2="666.55" y2="168" stroke="#444" stroke-width="0.9"/>
<line x1="679.5" y1="166.5" x2="679.5" y2="169.5" stroke="#444" stroke-width="0.9"/>
<text x="679.6" y="178.5" font-size="8.4" text-anchor="middle" fill="#000" font-weight="bold" stroke="#000" stroke-width="0.22">35</text>
<text x="559" y="190.5" font-size="9.9" text-anchor="start" fill="#000" font-weight="bold" stroke="#000" stroke-width="0.22">Cycle number</text>
<text transform="translate(473.9,88.6) rotate(-90)" x="0" y="0" font-size="10" text-anchor="middle" fill="#000" font-weight="bold" stroke="#000" stroke-width="0.22">Capacity (mAh g<tspan font-size="6.3" dy="-3.8">-1</tspan><tspan dy="3.8">)</tspan></text>
<text x="469.4" y="9.3" font-size="13" text-anchor="start" fill="#000" font-weight="bold" stroke="#000" stroke-width="0.22">c</text>
<text x="505.9" y="33.5" font-size="8.9" text-anchor="start" fill="#000" font-weight="bold" stroke="#000" stroke-width="0.22">0.2 C</text>
<text x="531.9" y="40.8" font-size="8.9" text-anchor="start" fill="#000" font-weight="bold" stroke="#000" stroke-width="0.22">0.5 C</text>
<text x="560.9" y="50.6" font-size="8.9" text-anchor="start" fill="#000" font-weight="bold" stroke="#000" stroke-width="0.22">1 C</text>
<text x="585.3" y="58.9" font-size="8.9" text-anchor="start" fill="#000" font-weight="bold" stroke="#000" stroke-width="0.22">2 C</text>
<text x="611.1" y="69.5" font-size="8.9" text-anchor="start" fill="#000" font-weight="bold" stroke="#000" stroke-width="0.22">5 C</text>
<text x="634" y="88.7" font-size="8.9" text-anchor="start" fill="#000" font-weight="bold" stroke="#000" stroke-width="0.22">10 C</text>
<text x="658.6" y="36.6" font-size="8.9" text-anchor="start" fill="#000" font-weight="bold" stroke="#000" stroke-width="0.22">0.2 C</text>
<line x1="506" y1="108.8" x2="526.3" y2="108.8" stroke="#777" stroke-width="0.6"/>
<circle cx="516.1" cy="108.8" r="2.25" fill="#fff" stroke="#000" stroke-width="0.8"/>
<path d="M513.85,108.8 A2.25,2.25 0 0 1 518.35,108.8 Z" fill="#000"/>
<text x="529.6" y="111.8" font-size="9.3" text-anchor="start" fill="#000" font-weight="bold" stroke="#000" stroke-width="0.22">LMO</text>
<line x1="506" y1="120.7" x2="526.3" y2="120.7" stroke="#f55" stroke-width="0.6"/>
<circle cx="516.1" cy="120.7" r="2.25" fill="#fff" stroke="#f0282a" stroke-width="0.8"/>
<path d="M513.85,120.7 A2.25,2.25 0 0 1 518.35,120.7 Z" fill="#f0282a"/>
<text x="529.6" y="123.8" font-size="9.3" text-anchor="start" fill="#000" font-weight="bold" stroke="#000" stroke-width="0.22">LMO-TB</text>
<text x="505.5" y="139.8" font-size="8.5" text-anchor="start" fill="#000" font-weight="bold" stroke="#000" stroke-width="0.22" xml:space="preserve">3.4 V-4.5&#160;V &#160;&#160;25&#160;°C</text>
<path d="M42.25,218.8 L43,219.6 L43.75,220 L44.5,220.68 L45.25,220.87 L46,220.86 L46.75,220.89 L47.5,220.82 L48.25,220.89 L49,220.84 L49.75,220.74 L50.5,221.01 L51.25,221.01 L52,221.11 L52.75,220.91 L53.5,220.85 L54.25,220.83 L55,220.71 L55.75,221.02 L56.5,220.77 L57.25,220.76 L58,220.88 L58.75,221.08 L59.5,220.93 L60.25,220.78 L61,220.81 L61.75,220.98 L62.5,220.88 L63.25,220.81 L64,220.87 L64.75,220.99 L65.5,221.14 L66.25,220.75 L67,220.82 L67.75,220.8 L68.5,220.61 L69.25,220.79 L70,220.78 L70.75,221.03 L71.5,220.88 L72.25,220.71 L73,220.98 L73.75,220.86 L74.5,220.69 L75.25,220.83 L76,220.83 L76.75,220.8 L77.5,220.9 L78.25,220.63 L79,220.87 L79.75,221.02 L80.5,221 L81.25,221.03 L82,221.03 L82.75,221.08 L83.5,220.77 L84.25,221 L85,220.68 L85.75,220.83 L86.5,220.67 L87.25,221.03 L88,221.06 L88.75,220.88 L89.5,221.11 L90.25,220.82 L91,220.92 L91.75,220.92 L92.5,220.77 L93.25,220.95 L94,221.13 L94.75,220.78 L95.5,221.01 L96.25,220.88 L97,221.11 L97.75,220.96 L98.5,220.98 L99.25,220.98 L100,220.93 L100.75,220.73 L101.5,221.07 L102.25,220.74 L103,220.93 L103.75,220.97 L104.5,220.8 L105.25,220.92 L106,221.04 L106.75,220.9 L107.5,220.79 L108.25,220.55 L109,220.78 L109.75,220.83 L110.5,220.84 L111.25,220.78 L112,220.95 L112.75,220.83 L113.5,220.89 L114.25,220.98 L115,220.8 L115.75,220.86 L116.5,221.16 L117.25,221 L118,220.74 L118.75,220.89 L119.5,220.97 L120.25,221.05 L121,220.92 L121.75,220.84 L122.5,220.81 L123.25,220.98 L124,220.94 L124.75,220.84 L125.5,220.88 L126.25,220.85 L127,220.99 L127.75,220.82 L128.5,220.96 L129.25,221 L130,220.96 L130.75,220.8 L131.5,221.06 L132.25,220.82 L133,220.95 L133.75,220.81 L134.5,220.69 L135.25,220.93 L136,220.93 L136.75,220.89 L137.5,220.93 L138.25,220.82 L139,220.81 L139.75,220.88 L140.5,221.13 L141.25,221 L142,220.84 L142.75,220.97 L143.5,220.84 L144.25,220.85 L145,221 L145.75,220.84 L146.5,220.7 L147.25,220.79 L148,220.91 L148.75,220.92 L149.5,221.05 L150.25,220.81 L151,220.99 L151.75,220.95 L152.5,220.88 L153.25,221 L154,220.96 L154.75,220.8 L155.5,221.03 L156.25,220.75 L157,220.91 L157.75,220.9 L158.5,220.95 L159.25,220.81 L160,220.9 L160.75,220.88 L161.5,221.02 L162.25,220.8 L163,220.91 L163.75,220.87 L164.5,220.74 L165.25,221.22 L166,220.89 L166.75,220.72 L167.5,221.07 L168.25,220.77 L169,220.94 L169.75,221 L170.5,220.82 L171.25,220.85 L172,220.84 L172.75,220.88 L173.5,220.71 L174.25,220.75 L175,220.88 L175.75,221.02 L176.5,220.98 L177.25,221.11 L178,220.98 L178.75,220.84 L179.5,220.89 L180.25,220.66 L181,220.78 L181.75,220.78 L182.5,220.93 L183.25,220.98 L184,220.83 L184.75,220.83 L185.5,220.71 L186.25,220.88 L187,220.93 L187.75,220.95 L188.5,220.81 L189.25,221.14 L190,221.04 L190.75,220.89 L191.5,220.84 L192.25,220.86 L193,220.92 L193.75,220.9 L194.5,220.96 L195.25,220.99 L196,221.06 L196.75,221.04 L197.5,220.89 L198.25,220.95 L199,220.85 L199.75,220.83 L200.5,221.13 L201.25,220.84 L202,221.14 L202.75,220.86 L203.5,220.93 L204.25,221.03 L205,220.9 L205.75,220.95 L206.5,220.87 L207.25,220.84 L208,220.88 L208.75,220.82 L209.5,221.1 L210.25,220.88 L211,221.11 L211.75,220.58 L212.5,220.9 L213.25,220.97 L214,220.86 L214.75,221.03 L215.5,220.98 L216.25,220.87 L217,220.95 L217.75,221.24 L218.5,220.93 L219.25,220.94 L220,220.85 L220.75,220.92 L221.5,220.75 L222.25,220.88 L223,221.19 L223.75,221.03 L224.5,220.98 L225.25,221.03 L226,221.13 L226.75,220.97 L227.5,221.15 L228.25,221.03 L229,220.92 L229.75,221.11 L230.5,220.62 L231.25,220.83 L232,220.93 L232.75,220.79 L233.5,220.88 L234.25,220.82 L235,220.82 L235.75,221.23 L236.5,220.98 L237.25,220.89 L238,221.06 L238.75,220.87 L239.5,221.01 L240.25,220.94 L241,221.1 L241.75,220.73 L242.5,220.99 L243.25,220.91 L244,220.76 L244.75,221.03 L245.5,220.8 L246.25,221.09 L247,220.96 L247.75,220.98 L248.5,220.91 L249.25,221.01 L250,220.68 L250.75,220.91 L251.5,220.82 L252.25,220.93 L253,220.89 L253.75,220.97 L254.5,220.8 L255.25,221.12 L256,221.18 L256.75,220.88 L257.5,220.9 L258.25,220.93 L259,221.05 L259.75,221.13 L260.5,220.76 L261.25,220.83 L262,220.77 L262.75,220.77 L263.5,220.7 L264.25,220.94 L265,220.76 L265.75,221.08 L266.5,221.01 L267.25,220.78 L268,220.78 L268.75,220.83 L269.5,221.07 L270.25,220.8 L271,220.72 L271.75,220.89 L272.5,220.94 L273.25,220.82 L274,221.09 L274.75,220.93 L275.5,220.95 L276.25,220.8 L277,220.9 L277.75,220.88 L278.5,220.63 L279.25,220.93 L280,220.68 L280.75,220.9 L281.5,220.72 L282.25,221.14 L283,220.94 L283.75,221 L284.5,221.01 L285.25,220.74 L286,220.63 L286.75,220.86 L287.5,221.01 L288.25,220.91 L289,220.99 L289.75,221.01 L290.5,220.72 L291.25,220.93 L292,221.14 L292.75,220.83 L293.5,220.66 L294.25,220.87 L295,220.84 L295.75,220.95 L296.5,220.79 L297.25,220.91 L298,220.63 L298.75,221 L299.5,221.09 L300.25,221.06 L301,220.72 L301.75,220.94 L302.5,220.54 L303.25,220.93 L304,220.89 L304.75,220.78 L305.5,220.94 L306.25,220.92 L307,221.01 L307.75,220.92 L308.5,220.93 L309.25,220.67 L310,220.76 L310.75,220.84 L311.5,220.94 L312.25,220.9 L313,221.08 L313.75,220.8 L314.5,220.87 L315.25,220.93 L316,220.87 L316.75,220.96 L317.5,220.83 L318.25,221.07 L319,220.86 L319.75,221.03 L320.5,220.9 L321.25,221.08 L322,220.73 L322.75,220.96 L323.5,220.85 L324.25,220.93 L325,221.04 L325.75,220.76 L326.5,220.74 L327.25,220.78 L328,220.93 L328.75,220.67 L329.5,220.91 L330.25,220.75 L331,220.76 L331.75,220.86 L332.5,220.95 L333.25,220.82 L334,220.84 L334.75,220.89 L335.5,220.87 L336.25,220.58 L337,220.85 L337.75,220.91 L338.5,221.03 L339.25,221.15 L340,220.98 L340.75,220.91 L341.5,220.78 L342.25,220.91 L343,220.99 L343.75,221.05 L344.5,220.79 L345.25,220.93 L346,221 L346.75,221.12 L347.5,220.93 L348.25,220.84 L349,220.82 L349.75,220.86 L350.5,220.82 L351.25,221 L352,221.03 L352.75,220.99 L353.5,221.04 L354.25,220.85 L355,220.95 L355.75,220.85 L356.5,220.91 L357.25,221.05 L358,220.9 L358.75,220.68 L359.5,220.87 L360.25,220.81 L361,220.72 L361.75,220.81 L362.5,221.02 L363.25,221.1 L364,220.84 L364.75,221.02 L365.5,221.04 L366.25,220.76 L367,220.9 L367.75,220.89 L368.5,220.92 L369.25,220.71 L370,220.86 L370.75,221.03 L371.5,221.05 L372.25,221.12 L373,220.86 L373.75,221.12 L374.5,220.98 L375.25,220.74 L376,220.99 L376.75,220.86 L377.5,220.96 L378.25,220.89 L379,221.04 L379.75,220.93 L380.5,220.87 L381.25,221.02 L382,220.93 L382.75,220.85 L383.5,221.05 L384.25,220.85 L385,220.82 L385.75,220.84 L386.5,220.72 L387.25,220.83 L388,221.12 L388.75,220.79 L389.5,220.9 L390.25,220.77 L391,220.83 L391.75,221.08 L392.5,221.01 L393.25,220.83 L394,220.9 L394.75,220.8 L395.5,220.81 L396.25,220.79 L397,220.79 L397.75,220.94 L398.5,220.97 L399.25,220.96 L400,220.88 L400.75,220.74 L401.5,220.89 L402.25,220.79 L403,221.01 L403.75,220.97 L404.5,220.99 L405.25,220.86 L406,220.68 L406.75,221.01 L407.5,221.05 L408.25,220.72 L409,220.92 L409.75,221.04 L410.5,220.77 L411.25,221.11 L412,220.86 L412.75,220.77 L413.5,221.06 L414.25,220.94 L415,220.82 L415.75,221.01 L416.5,220.67" fill="none" stroke="#969696" stroke-width="4.2" stroke-linejoin="round" stroke-linecap="round"/>
<path d="M42.25,217.3 L43,218.1 L43.75,218.5 L44.5,219.18 L45.25,219.37 L46,219.36 L46.75,219.39 L47.5,219.32 L48.25,219.39 L49,219.34 L49.75,219.24 L50.5,219.51 L51.25,219.51 L52,219.61 L52.75,219.41 L53.5,219.35 L54.25,219.33 L55,219.21 L55.75,219.52 L56.5,219.27 L57.25,219.26 L58,219.38 L58.75,219.58 L59.5,219.43 L60.25,219.28 L61,219.31 L61.75,219.48 L62.5,219.38 L63.25,219.31 L64,219.37 L64.75,219.49 L65.5,219.64 L66.25,219.25 L67,219.32 L67.75,219.3 L68.5,219.11 L69.25,219.29 L70,219.28 L70.75,219.53 L71.5,219.38 L72.25,219.21 L73,219.48 L73.75,219.36 L74.5,219.19 L75.25,219.33 L76,219.33 L76.75,219.3 L77.5,219.4 L78.25,219.13 L79,219.37 L79.75,219.52 L80.5,219.5 L81.25,219.53 L82,219.53 L82.75,219.58 L83.5,219.27 L84.25,219.5 L85,219.18 L85.75,219.33 L86.5,219.17 L87.25,219.53 L88,219.56 L88.75,219.38 L89.5,219.61 L90.25,219.32 L91,219.42 L91.75,219.42 L92.5,219.27 L93.25,219.45 L94,219.63 L94.75,219.28 L95.5,219.51 L96.25,219.38 L97,219.61 L97.75,219.46 L98.5,219.48 L99.25,219.48 L100,219.43 L100.75,219.23 L101.5,219.57 L102.25,219.24 L103,219.43 L103.75,219.47 L104.5,219.3 L105.25,219.42 L106,219.54 L106.75,219.4 L107.5,219.29 L108.25,219.05 L109,219.28 L109.75,219.33 L110.5,219.34 L111.25,219.28 L112,219.45 L112.75,219.33 L113.5,219.39 L114.25,219.48 L115,219.3 L115.75,219.36 L116.5,219.66 L117.25,219.5 L118,219.24 L118.75,219.39 L119.5,219.47 L120.25,219.55 L121,219.42 L121.75,219.34 L122.5,219.31 L123.25,219.48 L124,219.44 L124.75,219.34 L125.5,219.38 L126.25,219.35 L127,219.49 L127.75,219.32 L128.5,219.46 L129.25,219.5 L130,219.46 L130.75,219.3 L131.5,219.56 L132.25,219.32 L133,219.45 L133.75,219.31 L134.5,219.19 L135.25,219.43 L136,219.43 L136.75,219.39 L137.5,219.43 L138.25,219.32 L139,219.31 L139.75,219.38 L140.5,219.63 L141.25,219.5 L142,219.34 L142.75,219.47 L143.5,219.34 L144.25,219.35 L145,219.5 L145.75,219.34 L146.5,219.2 L147.25,219.29 L148,219.41 L148.75,219.42 L149.5,219.55 L150.25,219.31 L151,219.49 L151.75,219.45 L152.5,219.38 L153.25,219.5 L154,219.46 L154.75,219.3 L155.5,219.53 L156.25,219.25 L157,219.41 L157.75,219.4 L158.5,219.45 L159.25,219.31 L160,219.4 L160.75,219.38 L161.5,219.52 L162.25,219.3 L163,219.41 L163.75,219.37 L164.5,219.24 L165.25,219.72 L166,219.39 L166.75,219.22 L167.5,219.57 L168.25,219.27 L169,219.44 L169.75,219.5 L170.5,219.32 L171.25,219.35 L172,219.34 L172.75,219.38 L173.5,219.21 L174.25,219.25 L175,219.38 L175.75,219.52 L176.5,219.48 L177.25,219.61 L178,219.48 L178.75,219.34 L179.5,219.39 L180.25,219.16 L181,219.28 L181.75,219.28 L182.5,219.43 L183.25,219.48 L184,219.33 L184.75,219.33 L185.5,219.21 L186.25,219.38 L187,219.43 L187.75,219.45 L188.5,219.31 L189.25,219.64 L190,219.54 L190.75,219.39 L191.5,219.34 L192.25,219.36 L193,219.42 L193.75,219.4 L194.5,219.46 L195.25,219.49 L196,219.56 L196.75,219.54 L197.5,219.39 L198.25,219.45 L199,219.35 L199.75,219.33 L200.5,219.63 L201.25,219.34 L202,219.64 L202.75,219.36 L203.5,219.43 L204.25,219.53 L205,219.4 L205.75,219.45 L206.5,219.37 L207.25,219.34 L208,219.38 L208.75,219.32 L209.5,219.6 L210.25,219.38 L211,219.61 L211.75,219.08 L212.5,219.4 L213.25,219.47 L214,219.36 L214.75,219.53 L215.5,219.48 L216.25,219.37 L217,219.45 L217.75,219.74 L218.5,219.43 L219.25,219.44 L220,219.35 L220.75,219.42 L221.5,219.25 L222.25,219.38 L223,219.69 L223.75,219.53 L224.5,219.48 L225.25,219.53 L226,219.63 L226.75,219.47 L227.5,219.65 L228.25,219.53 L229,219.42 L229.75,219.61 L230.5,219.12 L231.25,219.33 L232,219.43 L232.75,219.29 L233.5,219.38 L234.25,219.32 L235,219.32 L235.75,219.73 L236.5,219.48 L237.25,219.39 L238,219.56 L238.75,219.37 L239.5,219.51 L240.25,219.44 L241,219.6 L241.75,219.23 L242.5,219.49 L243.25,219.41 L244,219.26 L244.75,219.53 L245.5,219.3 L246.25,219.59 L247,219.46 L247.75,219.48 L248.5,219.41 L249.25,219.51 L250,219.18 L250.75,219.41 L251.5,219.32 L252.25,219.43 L253,219.39 L253.75,219.47 L254.5,219.3 L255.25,219.62 L256,219.68 L256.75,219.38 L257.5,219.4 L258.25,219.43 L259,219.55 L259.75,219.63 L260.5,219.26 L261.25,219.33 L262,219.27 L262.75,219.27 L263.5,219.2 L264.25,219.44 L265,219.26 L265.75,219.58 L266.5,219.51 L267.25,219.28 L268,219.28 L268.75,219.33 L269.5,219.57 L270.25,219.3 L271,219.22 L271.75,219.39 L272.5,219.44 L273.25,219.32 L274,219.59 L274.75,219.43 L275.5,219.45 L276.25,219.3 L277,219.4 L277.75,219.38 L278.5,219.13 L279.25,219.43 L280,219.18 L280.75,219.4 L281.5,219.22 L282.25,219.64 L283,219.44 L283.75,219.5 L284.5,219.51 L285.25,219.24 L286,219.13 L286.75,219.36 L287.5,219.51 L288.25,219.41 L289,219.49 L289.75,219.51 L290.5,219.22 L291.25,219.43 L292,219.64 L292.75,219.33 L293.5,219.16 L294.25,219.37 L295,219.34 L295.75,219.45 L296.5,219.29 L297.25,219.41 L298,219.13 L298.75,219.5 L299.5,219.59 L300.25,219.56 L301,219.22 L301.75,219.44 L302.5,219.04 L303.25,219.43 L304,219.39 L304.75,219.28 L305.5,219.44 L306.25,219.42 L307,219.51 L307.75,219.42 L308.5,219.43 L309.25,219.17 L310,219.26 L310.75,219.34 L311.5,219.44 L312.25,219.4 L313,219.58 L313.75,219.3 L314.5,219.37 L315.25,219.43 L316,219.37 L316.75,219.46 L317.5,219.33 L318.25,219.57 L319,219.36 L319.75,219.53 L320.5,219.4 L321.25,219.58 L322,219.23 L322.75,219.46 L323.5,219.35 L324.25,219.43 L325,219.54 L325.75,219.26 L326.5,219.24 L327.25,219.28 L328,219.43 L328.75,219.17 L329.5,219.41 L330.25,219.25 L331,219.26 L331.75,219.36 L332.5,219.45 L333.25,219.32 L334,219.34 L334.75,219.39 L335.5,219.37 L336.25,219.08 L337,219.35 L337.75,219.41 L338.5,219.53 L339.25,219.65 L340,219.48 L340.75,219.41 L341.5,219.28 L342.25,219.41 L343,219.49 L343.75,219.55 L344.5,219.29 L345.25,219.43 L346,219.5 L346.75,219.62 L347.5,219.43 L348.25,219.34 L349,219.32 L349.75,219.36 L350.5,219.32 L351.25,219.5 L352,219.53 L352.75,219.49 L353.5,219.54 L354.25,219.35 L355,219.45 L355.75,219.35 L356.5,219.41 L357.25,219.55 L358,219.4 L358.75,219.18 L359.5,219.37 L360.25,219.31 L361,219.22 L361.75,219.31 L362.5,219.52 L363.25,219.6 L364,219.34 L364.75,219.52 L365.5,219.54 L366.25,219.26 L367,219.4 L367.75,219.39 L368.5,219.42 L369.25,219.21 L370,219.36 L370.75,219.53 L371.5,219.55 L372.25,219.62 L373,219.36 L373.75,219.62 L374.5,219.48 L375.25,219.24 L376,219.49 L376.75,219.36 L377.5,219.46 L378.25,219.39 L379,219.54 L379.75,219.43 L380.5,219.37 L381.25,219.52 L382,219.43 L382.75,219.35 L383.5,219.55 L384.25,219.35 L385,219.32 L385.75,219.34 L386.5,219.22 L387.25,219.33 L388,219.62 L388.75,219.29 L389.5,219.4 L390.25,219.27 L391,219.33 L391.75,219.58 L392.5,219.51 L393.25,219.33 L394,219.4 L394.75,219.3 L395.5,219.31 L396.25,219.29 L397,219.29 L397.75,219.44 L398.5,219.47 L399.25,219.46 L400,219.38 L400.75,219.24 L401.5,219.39 L402.25,219.29 L403,219.51 L403.75,219.47 L404.5,219.49 L405.25,219.36 L406,219.18 L406.75,219.51 L407.5,219.55 L408.25,219.22 L409,219.42 L409.75,219.54 L410.5,219.27 L411.25,219.61 L412,219.36 L412.75,219.27 L413.5,219.56 L414.25,219.44 L415,219.32 L415.75,219.51 L416.5,219.17" fill="none" stroke="#555" stroke-width="0.7" stroke-linejoin="round" stroke-linecap="round" stroke-dasharray="2 1.5"/>
<path d="M42.25,219.1 L43,219.9 L43.75,220.3 L44.5,220.98 L45.25,221.17 L46,221.16 L46.75,221.19 L47.5,221.12 L48.25,221.19 L49,221.14 L49.75,221.04 L50.5,221.31 L51.25,221.31 L52,221.41 L52.75,221.21 L53.5,221.15 L54.25,221.13 L55,221.01 L55.75,221.32 L56.5,221.07 L57.25,221.06 L58,221.18 L58.75,221.38 L59.5,221.23 L60.25,221.08 L61,221.11 L61.75,221.28 L62.5,221.18 L63.25,221.11 L64,221.17 L64.75,221.29 L65.5,221.44 L66.25,221.05 L67,221.12 L67.75,221.1 L68.5,220.91 L69.25,221.09 L70,221.08 L70.75,221.33 L71.5,221.18 L72.25,221.01 L73,221.28 L73.75,221.16 L74.5,220.99 L75.25,221.13 L76,221.13 L76.75,221.1 L77.5,221.2 L78.25,220.93 L79,221.17 L79.75,221.32 L80.5,221.3 L81.25,221.33 L82,221.33 L82.75,221.38 L83.5,221.07 L84.25,221.3 L85,220.98 L85.75,221.13 L86.5,220.97 L87.25,221.33 L88,221.36 L88.75,221.18 L89.5,221.41 L90.25,221.12 L91,221.22 L91.75,221.22 L92.5,221.07 L93.25,221.25 L94,221.43 L94.75,221.08 L95.5,221.31 L96.25,221.18 L97,221.41 L97.75,221.26 L98.5,221.28 L99.25,221.28 L100,221.23 L100.75,221.03 L101.5,221.37 L102.25,221.04 L103,221.23 L103.75,221.27 L104.5,221.1 L105.25,221.22 L106,221.34 L106.75,221.2 L107.5,221.09 L108.25,220.85 L109,221.08 L109.75,221.13 L110.5,221.14 L111.25,221.08 L112,221.25 L112.75,221.13 L113.5,221.19 L114.25,221.28 L115,221.1 L115.75,221.16 L116.5,221.46 L117.25,221.3 L118,221.04 L118.75,221.19 L119.5,221.27 L120.25,221.35 L121,221.22 L121.75,221.14 L122.5,221.11 L123.25,221.28 L124,221.24 L124.75,221.14 L125.5,221.18 L126.25,221.15 L127,221.29 L127.75,221.12 L128.5,221.26 L129.25,221.3 L130,221.26 L130.75,221.1 L131.5,221.36 L132.25,221.12 L133,221.25 L133.75,221.11 L134.5,220.99 L135.25,221.23 L136,221.23 L136.75,221.19 L137.5,221.23 L138.25,221.12 L139,221.11 L139.75,221.18 L140.5,221.43 L141.25,221.3 L142,221.14 L142.75,221.27 L143.5,221.14 L144.25,221.15 L145,221.3 L145.75,221.14 L146.5,221 L147.25,221.09 L148,221.21 L148.75,221.22 L149.5,221.35 L150.25,221.11 L151,221.29 L151.75,221.25 L152.5,221.18 L153.25,221.3 L154,221.26 L154.75,221.1 L155.5,221.33 L156.25,221.05 L157,221.21 L157.75,221.2 L158.5,221.25 L159.25,221.11 L160,221.2 L160.75,221.18 L161.5,221.32 L162.25,221.1 L163,221.21 L163.75,221.17 L164.5,221.04 L165.25,221.52 L166,221.19 L166.75,221.02 L167.5,221.37 L168.25,221.07 L169,221.24 L169.75,221.3 L170.5,221.12 L171.25,221.15 L172,221.14 L172.75,221.18 L173.5,221.01 L174.25,221.05 L175,221.18 L175.75,221.32 L176.5,221.28 L177.25,221.41 L178,221.28 L178.75,221.14 L179.5,221.19 L180.25,220.96 L181,221.08 L181.75,221.08 L182.5,221.23 L183.25,221.28 L184,221.13 L184.75,221.13 L185.5,221.01 L186.25,221.18 L187,221.23 L187.75,221.25 L188.5,221.11 L189.25,221.44 L190,221.34 L190.75,221.19 L191.5,221.14 L192.25,221.16 L193,221.22 L193.75,221.2 L194.5,221.26 L195.25,221.29 L196,221.36 L196.75,221.34 L197.5,221.19 L198.25,221.25 L199,221.15 L199.75,221.13 L200.5,221.43 L201.25,221.14 L202,221.44 L202.75,221.16 L203.5,221.23 L204.25,221.33 L205,221.2 L205.75,221.25 L206.5,221.17 L207.25,221.14 L208,221.18 L208.75,221.12 L209.5,221.4 L210.25,221.18 L211,221.41 L211.75,220.88 L212.5,221.2 L213.25,221.27 L214,221.16 L214.75,221.33 L215.5,221.28 L216.25,221.17 L217,221.25 L217.75,221.54 L218.5,221.23 L219.25,221.24 L220,221.15 L220.75,221.22 L221.5,221.05 L222.25,221.18 L223,221.49 L223.75,221.33 L224.5,221.28 L225.25,221.33 L226,221.43 L226.75,221.27 L227.5,221.45 L228.25,221.33 L229,221.22 L229.75,221.41 L230.5,220.92 L231.25,221.13 L232,221.23 L232.75,221.09 L233.5,221.18 L234.25,221.12 L235,221.12 L235.75,221.53 L236.5,221.28 L237.25,221.19 L238,221.36 L238.75,221.17 L239.5,221.31 L240.25,221.24 L241,221.4 L241.75,221.03 L242.5,221.29 L243.25,221.21 L244,221.06 L244.75,221.33 L245.5,221.1 L246.25,221.39 L247,221.26 L247.75,221.28 L248.5,221.21 L249.25,221.31 L250,220.98 L250.75,221.21 L251.5,221.12 L252.25,221.23 L253,221.19 L253.75,221.27 L254.5,221.1 L255.25,221.42 L256,221.48 L256.75,221.18 L257.5,221.2 L258.25,221.23 L259,221.35 L259.75,221.43 L260.5,221.06 L261.25,221.13 L262,221.07 L262.75,221.07 L263.5,221 L264.25,221.24 L265,221.06 L265.75,221.38 L266.5,221.31 L267.25,221.08 L268,221.08 L268.75,221.13 L269.5,221.37 L270.25,221.1 L271,221.02 L271.75,221.19 L272.5,221.24 L273.25,221.12 L274,221.39 L274.75,221.23 L275.5,221.25 L276.25,221.1 L277,221.2 L277.75,221.18 L278.5,220.93 L279.25,221.23 L280,220.98 L280.75,221.2 L281.5,221.02 L282.25,221.44 L283,221.24 L283.75,221.3 L284.5,221.31 L285.25,221.04 L286,220.93 L286.75,221.16 L287.5,221.31 L288.25,221.21 L289,221.29 L289.75,221.31 L290.5,221.02 L291.25,221.23 L292,221.44 L292.75,221.13 L293.5,220.96 L294.25,221.17 L295,221.14 L295.75,221.25 L296.5,221.09 L297.25,221.21 L298,220.93 L298.75,221.3 L299.5,221.39 L300.25,221.36 L301,221.02 L301.75,221.24 L302.5,220.84 L303.25,221.23 L304,221.19 L304.75,221.08 L305.5,221.24 L306.25,221.22 L307,221.31 L307.75,221.22 L308.5,221.23 L309.25,220.97 L310,221.06 L310.75,221.14 L311.5,221.24 L312.25,221.2 L313,221.38 L313.75,221.1 L314.5,221.17 L315.25,221.23 L316,221.17 L316.75,221.26 L317.5,221.13 L318.25,221.37 L319,221.16 L319.75,221.33 L320.5,221.2 L321.25,221.38 L322,221.03 L322.75,221.26 L323.5,221.15 L324.25,221.23 L325,221.34 L325.75,221.06 L326.5,221.04 L327.25,221.08 L328,221.23 L328.75,220.97 L329.5,221.21 L330.25,221.05 L331,221.06 L331.75,221.16 L332.5,221.25 L333.25,221.12 L334,221.14 L334.75,221.19 L335.5,221.17 L336.25,220.88 L337,221.15 L337.75,221.21 L338.5,221.33 L339.25,221.45 L340,221.28 L340.75,221.21 L341.5,221.08 L342.25,221.21 L343,221.29 L343.75,221.35 L344.5,221.09 L345.25,221.23 L346,221.3 L346.75,221.42 L347.5,221.23 L348.25,221.14 L349,221.12 L349.75,221.16 L350.5,221.12 L351.25,221.3 L352,221.33 L352.75,221.29 L353.5,221.34 L354.25,221.15 L355,221.25 L355.75,221.15 L356.5,221.21 L357.25,221.35 L358,221.2 L358.75,220.98 L359.5,221.17 L360.25,221.11 L361,221.02 L361.75,221.11 L362.5,221.32 L363.25,221.4 L364,221.14 L364.75,221.32 L365.5,221.34 L366.25,221.06 L367,221.2 L367.75,221.19 L368.5,221.22 L369.25,221.01 L370,221.16 L370.75,221.33 L371.5,221.35 L372.25,221.42 L373,221.16 L373.75,221.42 L374.5,221.28 L375.25,221.04 L376,221.29 L376.75,221.16 L377.5,221.26 L378.25,221.19 L379,221.34 L379.75,221.23 L380.5,221.17 L381.25,221.32 L382,221.23 L382.75,221.15 L383.5,221.35 L384.25,221.15 L385,221.12 L385.75,221.14 L386.5,221.02 L387.25,221.13 L388,221.42 L388.75,221.09 L389.5,221.2 L390.25,221.07 L391,221.13 L391.75,221.38 L392.5,221.31 L393.25,221.13 L394,221.2 L394.75,221.1 L395.5,221.11 L396.25,221.09 L397,221.09 L397.75,221.24 L398.5,221.27 L399.25,221.26 L400,221.18 L400.75,221.04 L401.5,221.19 L402.25,221.09 L403,221.31 L403.75,221.27 L404.5,221.29 L405.25,221.16 L406,220.98 L406.75,221.31 L407.5,221.35 L408.25,221.02 L409,221.22 L409.75,221.34 L410.5,221.07 L411.25,221.41 L412,221.16 L412.75,221.07 L413.5,221.36 L414.25,221.24 L415,221.12 L415.75,221.31 L416.5,220.97" fill="none" stroke="#cfcfcf" stroke-width="1.4" stroke-linejoin="round" stroke-linecap="round" stroke-dasharray="1.2 0.8"/>
<path d="M42.25,216.75 L43,216.7 L43.75,216.94 L44.5,217.02 L45.25,217.21 L46,217.35 L46.75,217.31 L47.5,217.53 L48.25,217.52 L49,217.56 L49.75,217.66 L50.5,217.65 L51.25,217.71 L52,217.9 L52.75,217.85 L53.5,217.99 L54.25,217.96 L55,217.88 L55.75,217.83 L56.5,217.95 L57.25,218.05 L58,218.05 L58.75,217.99 L59.5,218.16 L60.25,217.95 L61,218 L61.75,218.12 L62.5,218.3 L63.25,218.16 L64,218.06 L64.75,218.19 L65.5,218.2 L66.25,218.23 L67,218.13 L67.75,218.1 L68.5,218.18 L69.25,218.2 L70,218.3 L70.75,218.34 L71.5,218.12 L72.25,218.14 L73,218.18 L73.75,218.16 L74.5,218.23 L75.25,218.23 L76,218.21 L76.75,218.3 L77.5,218.18 L78.25,218.11 L79,218.07 L79.75,218.11 L80.5,218.11 L81.25,218.04 L82,218.25 L82.75,218.21 L83.5,218.16 L84.25,218.13 L85,218.07 L85.75,218.12 L86.5,218.35 L87.25,218.02 L88,218.21 L88.75,218.26 L89.5,218.21 L90.25,218.17 L91,218.26 L91.75,218.11 L92.5,218.24 L93.25,218.31 L94,218.12 L94.75,218.13 L95.5,218.21 L96.25,218.28 L97,218.31 L97.75,218.25 L98.5,218.15 L99.25,218.11 L100,218.22 L100.75,218.23 L101.5,218.11 L102.25,218.2 L103,218.23 L103.75,218.28 L104.5,218.12 L105.25,218.24 L106,218.11 L106.75,218.17 L107.5,218.19 L108.25,218.32 L109,218.47 L109.75,218.22 L110.5,218.24 L111.25,218.28 L112,218.09 L112.75,218.26 L113.5,218.1 L114.25,218.33 L115,218.32 L115.75,218.24 L116.5,218.14 L117.25,218.33 L118,218.22 L118.75,218.21 L119.5,218.25 L120.25,218.06 L121,218.23 L121.75,218.28 L122.5,218.23 L123.25,218.21 L124,218.12 L124.75,218.25 L125.5,218.22 L126.25,218.2 L127,218.15 L127.75,218.27 L128.5,218.3 L129.25,218.23 L130,218.27 L130.75,218.31 L131.5,218.33 L132.25,218.22 L133,218.18 L133.75,218.17 L134.5,218.2 L135.25,218.24 L136,218.28 L136.75,218.17 L137.5,218.21 L138.25,218.12 L139,218.3 L139.75,218.17 L140.5,218.23 L141.25,218.14 L142,218.18 L142.75,218.15 L143.5,218.34 L144.25,218.23 L145,218.19 L145.75,218.12 L146.5,218.15 L147.25,218.25 L148,218.33 L148.75,218.09 L149.5,218.13 L150.25,218.19 L151,218.15 L151.75,218.07 L152.5,218.2 L153.25,218.26 L154,218.07 L154.75,218.22 L155.5,218.28 L156.25,218.28 L157,218.17 L157.75,218.38 L158.5,218.24 L159.25,218.14 L160,218.28 L160.75,218.11 L161.5,218.27 L162.25,218.1 L163,218.26 L163.75,218.15 L164.5,218.29 L165.25,218.26 L166,218.24 L166.75,218.2 L167.5,218.29 L168.25,218.06 L169,218.23 L169.75,218.23 L170.5,218.24 L171.25,218.27 L172,218.5 L172.75,218.21 L173.5,218.26 L174.25,218.21 L175,218.33 L175.75,218.04 L176.5,218.34 L177.25,218.15 L178,218.02 L178.75,218.11 L179.5,218.19 L180.25,218.22 L181,218.2 L181.75,218.27 L182.5,218.2 L183.25,218.19 L184,218.03 L184.75,218.24 L185.5,218.28 L186.25,218.17 L187,218.05 L187.75,218.09 L188.5,218.33 L189.25,218.15 L190,218.15 L190.75,218.13 L191.5,218.25 L192.25,218.15 L193,218.13 L193.75,218.08 L194.5,218.19 L195.25,218.28 L196,218.19 L196.75,218.27 L197.5,218.21 L198.25,218.21 L199,218.21 L199.75,218.2 L200.5,218.28 L201.25,218.24 L202,218.15 L202.75,218.21 L203.5,218.19 L204.25,218.24 L205,218.21 L205.75,218.23 L206.5,218.08 L207.25,218.23 L208,218.31 L208.75,218.09 L209.5,218.33 L210.25,218.22 L211,218.18 L211.75,218.06 L212.5,218.29 L213.25,218.12 L214,218.16 L214.75,218.24 L215.5,218.12 L216.25,218.12 L217,218.11 L217.75,218.19 L218.5,218.25 L219.25,218.23 L220,218.23 L220.75,218.17 L221.5,218.21 L222.25,218.14 L223,218.36 L223.75,218.22 L224.5,218.04 L225.25,218.11 L226,218.33 L226.75,218.09 L227.5,218.16 L228.25,218.23 L229,218.11 L229.75,218.29 L230.5,218.33 L231.25,218.13 L232,218.29 L232.75,218.13 L233.5,218.12 L234.25,218.22 L235,218.22 L235.75,218.15 L236.5,218.27 L237.25,218.08 L238,218.13 L238.75,218.11 L239.5,218.26 L240.25,218.26 L241,218.25 L241.75,218.1 L242.5,218.21 L243.25,218.24 L244,218.07 L244.75,218.13 L245.5,218.25 L246.25,218.26 L247,218.22 L247.75,218.24 L248.5,218.23 L249.25,218.21 L250,218.19 L250.75,218.13 L251.5,218.18 L252.25,218.17 L253,218.39 L253.75,218.22 L254.5,218.2 L255.25,218.18 L256,218.19 L256.75,218.18 L257.5,218.24 L258.25,218.2 L259,218.26 L259.75,218.14 L260.5,218.23 L261.25,218.27 L262,218.11 L262.75,218.21 L263.5,218.22 L264.25,218.17 L265,218.16 L265.75,218.05 L266.5,218.29 L267.25,218.13 L268,218.1 L268.75,218.25 L269.5,218.05 L270.25,218.28 L271,218.23 L271.75,218.25 L272.5,218.19 L273.25,218.1 L274,218.05 L274.75,218.32 L275.5,218.16 L276.25,218.16 L277,218.33 L277.75,218.15 L278.5,218.18 L279.25,218.18 L280,218.19 L280.75,218.12 L281.5,218.16 L282.25,218.3 L283,218.26 L283.75,217.96 L284.5,218.04 L285.25,218.23 L286,218.19 L286.75,218.17 L287.5,218.28 L288.25,218.06 L289,218.3 L289.75,218.21 L290.5,218.24 L291.25,218.22 L292,218.27 L292.75,218.18 L293.5,218.16 L294.25,218.26 L295,218.21 L295.75,218.1 L296.5,218.31 L297.25,218.3 L298,218.32 L298.75,218.21 L299.5,218.23 L300.25,218.17 L301,218.12 L301.75,218.21 L302.5,218.21 L303.25,218.15 L304,218.35 L304.75,218.07 L305.5,218.13 L306.25,218.15 L307,218.3 L307.75,218.18 L308.5,218.17 L309.25,218.13 L310,218.14 L310.75,218.1 L311.5,218.28 L312.25,218.25 L313,218.28 L313.75,218.15 L314.5,218.4 L315.25,218.12 L316,218.04 L316.75,218.18 L317.5,218.21 L318.25,218.26 L319,218.12 L319.75,218.25 L320.5,218.34 L321.25,218.13 L322,218.14 L322.75,218.06 L323.5,218.22 L324.25,218.27 L325,218.26 L325.75,218.27 L326.5,218.31 L327.25,218.21 L328,218.28 L328.75,218.12 L329.5,218.14 L330.25,218.22 L331,218.13 L331.75,218.25 L332.5,218.31 L333.25,218.23 L334,218.14 L334.75,218.14 L335.5,218.31 L336.25,218.14 L337,218.21 L337.75,218.18 L338.5,218.2 L339.25,218.29 L340,218.16 L340.75,218.09 L341.5,218.32 L342.25,218.22 L343,218.26 L343.75,218.2 L344.5,218.26 L345.25,218.3 L346,218.31 L346.75,218.18 L347.5,218.17 L348.25,218.23 L349,218.22 L349.75,218.25 L350.5,218.14 L351.25,218.01 L352,218.24 L352.75,218.26 L353.5,218.25 L354.25,218.33 L355,218.27 L355.75,218.17 L356.5,218.28 L357.25,218.19 L358,218.3 L358.75,218.22 L359.5,218.24 L360.25,218.22 L361,218.2 L361.75,218.08 L362.5,218.2 L363.25,218.02 L364,218.24 L364.75,218.28 L365.5,218.36 L366.25,218.23 L367,218.14 L367.75,218.07 L368.5,218.36 L369.25,218.09 L370,218.27 L370.75,218.02 L371.5,218.2 L372.25,218.25 L373,218.23 L373.75,218.2 L374.5,218.13 L375.25,218.13 L376,218.28 L376.75,218.23 L377.5,218.19 L378.25,218.22 L379,218.13 L379.75,218.28 L380.5,218.3 L381.25,218.14 L382,218.21 L382.75,218.28 L383.5,218.15 L384.25,218.36 L385,218.32 L385.75,218.18 L386.5,218.28 L387.25,218.33 L388,218.1 L388.75,218.25 L389.5,218.19 L390.25,218.18 L391,218.26 L391.75,218.16 L392.5,218.09 L393.25,218.09 L394,218.2 L394.75,218.25 L395.5,218.2 L396.25,218.19 L397,218.2 L397.75,218.3 L398.5,218.24 L399.25,218.14 L400,218.18 L400.75,218.3 L401.5,218.15 L402.25,218.17 L403,218.2 L403.75,218.11 L404.5,218.27 L405.25,218.02 L406,218.32 L406.75,218.17 L407.5,218.1 L408.25,218.22 L409,218.06 L409.75,218.24 L410.5,218.26 L411.25,218.15 L412,218.17 L412.75,218.28 L413.5,218.15 L414.25,218.2 L415,218.23 L415.75,218.32 L416.5,218.16" fill="none" stroke="#f01818" stroke-width="1.5" stroke-linejoin="round" stroke-linecap="round"/>
<line x1="43.4" y1="221.5" x2="43.1" y2="227.8" stroke="#8080ff" stroke-width="0.9"/>
<rect x="41.9" y="229.5" width="2.4" height="2.4" fill="#fff" stroke="#222" stroke-width="0.6"/>
<rect x="41.9" y="234.8" width="2.4" height="2.4" fill="#fff" stroke="#222" stroke-width="0.6"/>
<line x1="41.6" y1="232.6" x2="43.6" y2="232.6" stroke="#e03030" stroke-width="0.9"/>
<path d="M41.88,255.01 L42.25,253.87 L43,252.84 L43.75,251.62 L44.5,251.04 L45.25,250.66 L46,250.28 L47.5,250.5 L49,250.44 L50.5,250.72 L52,250.74 L53.5,250.95 L55,251.06 L56.5,251.08 L58,251.12 L59.5,251.03 L61,251.26 L62.5,251.25 L64,251.37 L65.5,251.38 L67,251.57 L68.5,251.37 L70,251.58 L71.5,251.56 L73,251.63 L74.5,251.55 L76,251.64 L77.5,251.73 L79,251.75 L80.5,251.77 L82,251.77 L83.5,251.83 L85,251.79 L86.5,251.79 L88,251.94 L89.5,252.18 L91,251.9 L92.5,251.9 L94,252.2 L95.5,252.25 L97,252.46 L98.5,252.21 L100,252.44 L101.5,252.19 L103,252.67 L104.5,252.45 L106,252.43 L107.5,252.58 L109,252.66 L110.5,252.6 L112,252.72 L113.5,252.74 L115,252.75 L116.5,252.84 L118,252.85 L119.5,252.78 L121,252.94 L122.5,252.92 L124,253.06 L125.5,252.92 L127,253.19 L128.5,253 L130,253.44 L131.5,253.26 L133,253.37 L134.5,253.14 L136,253.25 L137.5,253.45 L139,253.41 L140.5,253.25 L142,253.43 L143.5,253.4 L145,253.65 L146.5,253.68 L148,253.5 L149.5,253.36 L151,253.69 L152.5,253.6 L154,253.8 L155.5,253.6 L157,253.81 L158.5,253.84 L160,254.03 L161.5,253.91 L163,253.88 L164.5,253.79 L166,254.09 L167.5,253.9 L169,254.07 L170.5,254.09 L172,254.19 L173.5,254.3 L175,254.29 L176.5,254.03 L178,254.35 L179.5,254.3 L181,254.17 L182.5,254.54 L184,254.31 L185.5,254.44 L187,254.4 L188.5,254.36 L190,254.49 L191.5,254.53 L193,254.46 L194.5,254.5 L196,254.67 L197.5,254.65 L199,254.79 L200.5,254.55 L202,254.84 L203.5,254.72 L205,254.59 L206.5,254.71 L208,254.85 L209.5,254.93 L211,254.94 L212.5,254.81 L214,254.9 L215.5,254.96 L217,254.72 L218.5,255.1 L220,255.09 L221.5,255.1 L223,255.07 L224.5,255.09 L226,255.17 L227.5,255.1 L229,255.14 L230.5,255.26 L232,255.51 L233.5,255.2 L235,255.41 L236.5,255.41 L238,255.39 L239.5,255.53 L241,255.51 L242.5,255.46 L244,255.53 L245.5,255.49 L247,255.65 L248.5,255.62 L250,255.73 L251.5,255.69 L253,255.66 L254.5,255.75 L256,255.91 L257.5,255.82 L259,255.82 L260.5,255.76 L262,255.92 L263.5,256 L265,256.11 L266.5,255.83 L268,256.17 L269.5,256.23 L271,256.17 L272.5,256.38 L274,256.12 L275.5,256.25 L277,256.26 L278.5,256.46 L280,256.45 L281.5,256.35 L283,256.38 L284.5,256.23 L286,256.45 L287.5,256.8 L289,256.64 L290.5,256.73 L292,256.62 L293.5,256.79 L295,256.77 L296.5,256.9 L298,256.85 L299.5,256.81 L301,257.06 L302.5,257.26 L304,257.2 L305.5,256.98 L307,257.16 L308.5,257.26 L310,257.37 L311.5,257.21 L313,257.33 L314.5,257.42 L316,257.5 L317.5,257.51 L319,257.57 L320.5,257.52 L322,257.49 L323.5,257.87 L325,257.86 L326.5,257.76 L328,257.78 L329.5,257.99 L331,257.93 L332.5,257.95 L334,257.99 L335.5,258.03 L337,258.03 L338.5,257.97 L340,258.03 L341.5,258.08 L343,258.15 L344.5,258.29 L346,258.3 L347.5,258.22 L349,258.31 L350.5,258.28 L352,258.37 L353.5,258.43 L355,258.42 L356.5,258.66 L358,258.56 L359.5,258.64 L361,258.53 L362.5,258.72 L364,258.66 L365.5,258.77 L367,258.71 L368.5,258.72 L370,258.85 L371.5,258.86 L373,258.88 L374.5,258.86 L376,259.01 L377.5,259.01 L379,259.09 L380.5,259.19 L382,259.11 L383.5,259.12 L385,259.28 L386.5,259.08 L388,259.35 L389.5,259.24 L391,259.31 L392.5,259.56 L394,259.43 L395.5,259.63 L397,259.51 L398.5,259.47 L400,259.39 L401.5,259.53 L403,259.81 L404.5,259.73 L406,259.57 L407.5,259.75 L409,259.62 L410.5,259.92 L412,259.94 L413.5,260.06 L415,260 L416.5,259.87" fill="none" stroke="#f20c0c" stroke-width="4.3" stroke-linejoin="round" stroke-linecap="round"/>
<path d="M41.88,259.86 L42.25,260.06 L43,260.47 L43.75,260.75 L44.5,261.17 L45.25,261.39 L46,261.35 L47.5,262.18 L49,262.24 L50.5,262.41 L52,262.79 L53.5,262.86 L55,263.7 L56.5,263.64 L58,264.05 L59.5,264.24 L61,264.49 L62.5,264.69 L64,265.14 L65.5,265.18 L67,265.76 L68.5,265.69 L70,266.1 L71.5,266.54 L73,266.78 L74.5,267.02 L76,267.15 L77.5,267.23 L79,267.3 L80.5,267.59 L82,268.08 L83.5,268.42 L85,268.37 L86.5,268.72 L88,268.75 L89.5,269 L91,268.76 L92.5,269.48 L94,269.37 L95.5,269.33 L97,269.77 L98.5,269.97 L100,269.79 L101.5,270.42 L103,270.51 L104.5,270.58 L106,270.5 L107.5,270.58 L109,270.83 L110.5,270.65 L112,271.09 L113.5,271.18 L115,271.34 L116.5,271.27 L118,271.54 L119.5,271.71 L121,271.56 L122.5,271.74 L124,271.89 L125.5,272.31 L127,272.4 L128.5,272.42 L130,272.54 L131.5,272.69 L133,272.79 L134.5,272.8 L136,273.14 L137.5,273.1 L139,273.31 L140.5,273.45 L142,273.55 L143.5,273.54 L145,273.72 L146.5,273.98 L148,273.96 L149.5,274.1 L151,274.19 L152.5,274.39 L154,274.35 L155.5,274.55 L157,274.86 L158.5,274.99 L160,275.12 L161.5,275 L163,275.25 L164.5,275.32 L166,275.39 L167.5,275.33 L169,275.32 L170.5,275.72 L172,275.55 L173.5,275.84 L175,275.86 L176.5,276.15 L178,276.37 L179.5,276.25 L181,276.24 L182.5,276.71 L184,276.61 L185.5,276.68 L187,276.72 L188.5,277.04 L190,277.07 L191.5,276.97 L193,276.95 L194.5,277.27 L196,277.25 L197.5,277.45 L199,277.51 L200.5,277.72 L202,277.79 L203.5,277.93 L205,277.94 L206.5,277.91 L208,278.12 L209.5,278.16 L211,278.43 L212.5,278.35 L214,278.95 L215.5,278.82 L217,278.78 L218.5,279.06 L220,278.85 L221.5,278.99 L223,279.24 L224.5,279.2 L226,279.5 L227.5,279.52 L229,279.55 L230.5,279.8 L232,279.55 L233.5,279.86 L235,279.73 L236.5,279.97 L238,280 L239.5,280.25 L241,280.26 L242.5,280.36 L244,280.36 L245.5,280.3 L247,280.64 L248.5,280.67 L250,280.68 L251.5,280.7 L253,280.9 L254.5,281.01 L256,281.11 L257.5,281.11 L259,281.15 L260.5,281.35 L262,281.37 L263.5,281.3 L265,281.48 L266.5,281.62 L268,281.52 L269.5,281.59 L271,281.68 L272.5,281.74 L274,281.95 L275.5,281.94 L277,282 L278.5,282.09 L280,282.41 L281.5,282.26 L283,282.28 L284.5,282.34 L286,282.51 L287.5,282.54 L289,282.85 L290.5,282.89 L292,283.15 L293.5,282.87 L295,282.7 L296.5,282.76 L298,283.2 L299.5,283.05 L301,283.04 L302.5,283.32 L304,283.61 L305.5,283.24 L307,283.55 L308.5,283.62 L310,283.43 L311.5,283.66 L313,283.69 L314.5,283.66 L316,283.96 L317.5,284.14 L319,283.99 L320.5,284.17 L322,284.15 L323.5,284.27 L325,284.49 L326.5,284.47 L328,284.59 L329.5,284.66 L331,284.71 L332.5,284.73 L334,284.83 L335.5,285.1 L337,284.93 L338.5,285.27 L340,284.88 L341.5,285.34 L343,285.33 L344.5,285.22 L346,285.5 L347.5,285.71 L349,285.81 L350.5,285.67 L352,285.73 L353.5,285.76 L355,285.91 L356.5,286.09 L358,286.04 L359.5,286 L361,286.37 L362.5,285.89 L364,286.49 L365.5,286.36 L367,286.36 L368.5,286.57 L370,286.74 L371.5,286.77 L373,286.78 L374.5,287.38 L376,287.07 L377.5,287.28 L379,287.41 L380.5,287.4 L382,287.49 L383.5,287.55 L385,287.78 L386.5,287.66 L388,288.18 L389.5,288.14 L391,288.28 L392.5,288.21 L394,288.4 L395.5,288.38 L397,288.65 L398.5,288.5 L400,288.68 L401.5,288.95 L403,289.22 L404.5,289.27 L406,289.43 L407.5,289.19 L409,289.37 L410.5,289.75 L412,289.46 L413.5,289.86 L415,290.24 L416.5,289.93" fill="none" stroke="#161616" stroke-width="4.1" stroke-linejoin="round" stroke-linecap="round"/>
<path d="M41.88,260.06 L42.25,260.26 L43,260.67 L43.75,260.95 L44.5,261.37 L45.25,261.59 L46,261.55 L47.5,262.38 L49,262.44 L50.5,262.61 L52,262.99 L53.5,263.06 L55,263.9 L56.5,263.84 L58,264.25 L59.5,264.44 L61,264.69 L62.5,264.89 L64,265.34 L65.5,265.38 L67,265.96 L68.5,265.89 L70,266.3 L71.5,266.74 L73,266.98 L74.5,267.22 L76,267.35 L77.5,267.43 L79,267.5 L80.5,267.79 L82,268.28 L83.5,268.62 L85,268.57 L86.5,268.92 L88,268.95 L89.5,269.2 L91,268.96 L92.5,269.68 L94,269.57 L95.5,269.53 L97,269.97 L98.5,270.17 L100,269.99 L101.5,270.62 L103,270.71 L104.5,270.78 L106,270.7 L107.5,270.78 L109,271.03 L110.5,270.85 L112,271.29 L113.5,271.38 L115,271.54 L116.5,271.47 L118,271.74 L119.5,271.91 L121,271.76 L122.5,271.94 L124,272.09 L125.5,272.51 L127,272.6 L128.5,272.62 L130,272.74 L131.5,272.89 L133,272.99 L134.5,273 L136,273.34 L137.5,273.3 L139,273.51 L140.5,273.65 L142,273.75 L143.5,273.74 L145,273.92 L146.5,274.18 L148,274.16 L149.5,274.3 L151,274.39 L152.5,274.59 L154,274.55 L155.5,274.75 L157,275.06 L158.5,275.19 L160,275.32 L161.5,275.2 L163,275.45 L164.5,275.52 L166,275.59 L167.5,275.53 L169,275.52 L170.5,275.92 L172,275.75 L173.5,276.04 L175,276.06 L176.5,276.35 L178,276.57 L179.5,276.45 L181,276.44 L182.5,276.91 L184,276.81 L185.5,276.88 L187,276.92 L188.5,277.24 L190,277.27 L191.5,277.17 L193,277.15 L194.5,277.47 L196,277.45 L197.5,277.65 L199,277.71 L200.5,277.92 L202,277.99 L203.5,278.13 L205,278.14 L206.5,278.11 L208,278.32 L209.5,278.36 L211,278.63 L212.5,278.55 L214,279.15 L215.5,279.02 L217,278.98 L218.5,279.26 L220,279.05 L221.5,279.19 L223,279.44 L224.5,279.4 L226,279.7 L227.5,279.72 L229,279.75 L230.5,280 L232,279.75 L233.5,280.06 L235,279.93 L236.5,280.17 L238,280.2 L239.5,280.45 L241,280.46 L242.5,280.56 L244,280.56 L245.5,280.5 L247,280.84 L248.5,280.87 L250,280.88 L251.5,280.9 L253,281.1 L254.5,281.21 L256,281.31 L257.5,281.31 L259,281.35 L260.5,281.55 L262,281.57 L263.5,281.5 L265,281.68 L266.5,281.82 L268,281.72 L269.5,281.79 L271,281.88 L272.5,281.94 L274,282.15 L275.5,282.14 L277,282.2 L278.5,282.29 L280,282.61 L281.5,282.46 L283,282.48 L284.5,282.54 L286,282.71 L287.5,282.74 L289,283.05 L290.5,283.09 L292,283.35 L293.5,283.07 L295,282.9 L296.5,282.96 L298,283.4 L299.5,283.25 L301,283.24 L302.5,283.52 L304,283.81 L305.5,283.44 L307,283.75 L308.5,283.82 L310,283.63 L311.5,283.86 L313,283.89 L314.5,283.86 L316,284.16 L317.5,284.34 L319,284.19 L320.5,284.37 L322,284.35 L323.5,284.47 L325,284.69 L326.5,284.67 L328,284.79 L329.5,284.86 L331,284.91 L332.5,284.93 L334,285.03 L335.5,285.3 L337,285.13 L338.5,285.47 L340,285.08 L341.5,285.54 L343,285.53 L344.5,285.42 L346,285.7 L347.5,285.91 L349,286.01 L350.5,285.87 L352,285.93 L353.5,285.96 L355,286.11 L356.5,286.29 L358,286.24 L359.5,286.2 L361,286.57 L362.5,286.09 L364,286.69 L365.5,286.56 L367,286.56 L368.5,286.77 L370,286.94 L371.5,286.97 L373,286.98 L374.5,287.58 L376,287.27 L377.5,287.48 L379,287.61 L380.5,287.6 L382,287.69 L383.5,287.75 L385,287.98 L386.5,287.86 L388,288.38 L389.5,288.34 L391,288.48 L392.5,288.41 L394,288.6 L395.5,288.58 L397,288.85 L398.5,288.7 L400,288.88 L401.5,289.15 L403,289.42 L404.5,289.47 L406,289.63 L407.5,289.39 L409,289.57 L410.5,289.95 L412,289.66 L413.5,290.06 L415,290.44 L416.5,290.13" fill="none" stroke="#6a6a6a" stroke-width="0.6" stroke-linejoin="round" stroke-linecap="round" stroke-dasharray="1.5 1.5"/>
<line x1="41.5" y1="213.3" x2="416.5" y2="213.3" stroke="#333" stroke-width="1"/>
<line x1="416.5" y1="213.3" x2="416.5" y2="350.9" stroke="#444" stroke-width="1"/>
<line x1="41.5" y1="213.3" x2="41.5" y2="350.9" stroke="#777" stroke-width="1.1"/>
<line x1="41" y1="350.4" x2="417" y2="350.4" stroke="#555" stroke-width="1.1"/>
<line x1="38" y1="350.4" x2="41.5" y2="350.4" stroke="#444" stroke-width="0.9"/>
<text x="34.2" y="353.9" font-size="9.9" text-anchor="end" fill="#000" font-weight="bold" stroke="#000" stroke-width="0.22">0</text>
<line x1="39.7" y1="341.83" x2="41.5" y2="341.83" stroke="#444" stroke-width="0.9"/>
<line x1="38" y1="333.26" x2="41.5" y2="333.26" stroke="#444" stroke-width="0.9"/>
<text x="34.2" y="336.76" font-size="9.9" text-anchor="end" fill="#000" font-weight="bold" stroke="#000" stroke-width="0.22">20</text>
<line x1="39.7" y1="324.69" x2="41.5" y2="324.69" stroke="#444" stroke-width="0.9"/>
<line x1="38" y1="316.12" x2="41.5" y2="316.12" stroke="#444" stroke-width="0.9"/>
<text x="34.2" y="319.62" font-size="9.9" text-anchor="end" fill="#000" font-weight="bold" stroke="#000" stroke-width="0.22">40</text>
<line x1="39.7" y1="307.55" x2="41.5" y2="307.55" stroke="#444" stroke-width="0.9"/>
<line x1="38" y1="298.98" x2="41.5" y2="298.98" stroke="#444" stroke-width="0.9"/>
<text x="34.2" y="302.48" font-size="9.9" text-anchor="end" fill="#000" font-weight="bold" stroke="#000" stroke-width="0.22">60</text>
<line x1="39.7" y1="290.41" x2="41.5" y2="290.41" stroke="#444" stroke-width="0.9"/>
<line x1="38" y1="281.84" x2="41.5" y2="281.84" stroke="#444" stroke-width="0.9"/>
<text x="34.2" y="285.34" font-size="9.9" text-anchor="end" fill="#000" font-weight="bold" stroke="#000" stroke-width="0.22">80</text>
<line x1="39.7" y1="273.27" x2="41.5" y2="273.27" stroke="#444" stroke-width="0.9"/>
<line x1="38" y1="264.7" x2="41.5" y2="264.7" stroke="#444" stroke-width="0.9"/>
<text x="34.2" y="268.2" font-size="9.9" text-anchor="end" fill="#000" font-weight="bold" stroke="#000" stroke-width="0.22">100</text>
<line x1="39.7" y1="256.13" x2="41.5" y2="256.13" stroke="#444" stroke-width="0.9"/>
<line x1="38" y1="247.56" x2="41.5" y2="247.56" stroke="#444" stroke-width="0.9"/>
<text x="34.2" y="251.06" font-size="9.9" text-anchor="end" fill="#000" font-weight="bold" stroke="#000" stroke-width="0.22">120</text>
<line x1="39.7" y1="238.99" x2="41.5" y2="238.99" stroke="#444" stroke-width="0.9"/>
<line x1="38" y1="230.42" x2="41.5" y2="230.42" stroke="#444" stroke-width="0.9"/>
<text x="34.2" y="233.92" font-size="9.9" text-anchor="end" fill="#000" font-weight="bold" stroke="#000" stroke-width="0.22">140</text>
<line x1="39.7" y1="221.85" x2="41.5" y2="221.85" stroke="#444" stroke-width="0.9"/>
<line x1="38" y1="213.28" x2="41.5" y2="213.28" stroke="#444" stroke-width="0.9"/>
<text x="34.2" y="216.78" font-size="9.9" text-anchor="end" fill="#000" font-weight="bold" stroke="#000" stroke-width="0.22">160</text>
<line x1="416.5" y1="350.5" x2="420" y2="350.5" stroke="#444" stroke-width="0.9"/>
<text x="422.4" y="354" font-size="9.9" text-anchor="start" fill="#000" font-weight="bold" stroke="#000" stroke-width="0.22">0</text>
<line x1="416.5" y1="337.3" x2="418.3" y2="337.3" stroke="#444" stroke-width="0.9"/>
<line x1="416.5" y1="324.1" x2="420" y2="324.1" stroke="#444" stroke-width="0.9"/>
<text x="422.4" y="327.6" font-size="9.9" text-anchor="start" fill="#000" font-weight="bold" stroke="#000" stroke-width="0.22">20</text>
<line x1="416.5" y1="310.9" x2="418.3" y2="310.9" stroke="#444" stroke-width="0.9"/>
<line x1="416.5" y1="297.7" x2="420" y2="297.7" stroke="#444" stroke-width="0.9"/>
<text x="422.4" y="301.2" font-size="9.9" text-anchor="start" fill="#000" font-weight="bold" stroke="#000" stroke-width="0.22">40</text>
<line x1="416.5" y1="284.5" x2="418.3" y2="284.5" stroke="#444" stroke-width="0.9"/>
<line x1="416.5" y1="271.3" x2="420" y2="271.3" stroke="#444" stroke-width="0.9"/>
<text x="422.4" y="274.8" font-size="9.9" text-anchor="start" fill="#000" font-weight="bold" stroke="#000" stroke-width="0.22">60</text>
<line x1="416.5" y1="258.1" x2="418.3" y2="258.1" stroke="#444" stroke-width="0.9"/>
<line x1="416.5" y1="244.9" x2="420" y2="244.9" stroke="#444" stroke-width="0.9"/>
<text x="422.4" y="248.4" font-size="9.9" text-anchor="start" fill="#000" font-weight="bold" stroke="#000" stroke-width="0.22">80</text>
<line x1="416.5" y1="231.7" x2="418.3" y2="231.7" stroke="#444" stroke-width="0.9"/>
<line x1="416.5" y1="218.5" x2="420" y2="218.5" stroke="#444" stroke-width="0.9"/>
<text x="422.4" y="222" font-size="9.9" text-anchor="start" fill="#000" font-weight="bold" stroke="#000" stroke-width="0.22">100</text>
<line x1="41.5" y1="350.4" x2="41.5" y2="353.9" stroke="#444" stroke-width="0.9"/>
<text x="41.7" y="364.6" font-size="9.9" text-anchor="middle" fill="#000" font-weight="bold" stroke="#000" stroke-width="0.22">0</text>
<line x1="79" y1="350.4" x2="79" y2="352.2" stroke="#444" stroke-width="0.9"/>
<line x1="116.5" y1="350.4" x2="116.5" y2="353.9" stroke="#444" stroke-width="0.9"/>
<text x="116.7" y="364.6" font-size="9.9" text-anchor="middle" fill="#000" font-weight="bold" stroke="#000" stroke-width="0.22">100</text>
<line x1="154" y1="350.4" x2="154" y2="352.2" stroke="#444" stroke-width="0.9"/>
<line x1="191.5" y1="350.4" x2="191.5" y2="353.9" stroke="#444" stroke-width="0.9"/>
<text x="191.7" y="364.6" font-size="9.9" text-anchor="middle" fill="#000" font-weight="bold" stroke="#000" stroke-width="0.22">200</text>
<line x1="229" y1="350.4" x2="229" y2="352.2" stroke="#444" stroke-width="0.9"/>
<line x1="266.5" y1="350.4" x2="266.5" y2="353.9" stroke="#444" stroke-width="0.9"/>
<text x="266.7" y="364.6" font-size="9.9" text-anchor="middle" fill="#000" font-weight="bold" stroke="#000" stroke-width="0.22">300</text>
<line x1="304" y1="350.4" x2="304" y2="352.2" stroke="#444" stroke-width="0.9"/>
<line x1="341.5" y1="350.4" x2="341.5" y2="353.9" stroke="#444" stroke-width="0.9"/>
<text x="341.7" y="364.6" font-size="9.9" text-anchor="middle" fill="#000" font-weight="bold" stroke="#000" stroke-width="0.22">400</text>
<line x1="379" y1="350.4" x2="379" y2="352.2" stroke="#444" stroke-width="0.9"/>
<line x1="416.5" y1="350.4" x2="416.5" y2="353.9" stroke="#444" stroke-width="0.9"/>
<text x="416.7" y="364.6" font-size="9.9" text-anchor="middle" fill="#000" font-weight="bold" stroke="#000" stroke-width="0.22">500</text>
<text x="192.9" y="377" font-size="10.95" text-anchor="start" fill="#000" font-weight="bold" stroke="#000" stroke-width="0.22">Cycle number</text>
<text transform="translate(10.6,281.4) rotate(-90)" x="0" y="0" font-size="10" text-anchor="middle" fill="#000" font-weight="bold" stroke="#000" stroke-width="0.22">Capacity (mAh g<tspan font-size="6.5" dy="-4">-1</tspan><tspan dy="4">)</tspan></text>
<text transform="translate(449.6,280) rotate(-90)" x="0" y="0" font-size="10.25" text-anchor="middle" fill="#000" font-weight="bold" stroke="#000" stroke-width="0.22">Coulombic efficiency (%)</text>
<text x="1" y="204.5" font-size="12.2" text-anchor="start" fill="#000" font-weight="bold" stroke="#000" stroke-width="0.22">d</text>
<line x1="163.7" y1="243.7" x2="189.7" y2="243.7" stroke="#888" stroke-width="0.6"/>
<circle cx="176.8" cy="243.7" r="1.9" fill="#f01010"/>
<text x="194.6" y="247.6" font-size="11.8" text-anchor="start" fill="#000" font-weight="bold" stroke="#000" stroke-width="0.22">LMO-TB</text>
<line x1="257.2" y1="243.7" x2="284" y2="243.7" stroke="#888" stroke-width="0.6"/>
<circle cx="270.9" cy="243.7" r="1.9" fill="#111"/>
<text x="288.1" y="247.6" font-size="11.8" text-anchor="start" fill="#000" font-weight="bold" stroke="#000" stroke-width="0.22">LMO</text>
<text x="185.9" y="317.5" font-size="11.7" text-anchor="start" fill="#000" font-weight="bold" stroke="#000" stroke-width="0.22">1 C</text>
<text x="214.4" y="317.5" font-size="11.7" text-anchor="start" fill="#000" font-weight="bold" stroke="#000" stroke-width="0.22">3.4 V-4.5 V</text>
<text x="284" y="317.5" font-size="11.7" text-anchor="start" fill="#000" font-weight="bold" stroke="#000" stroke-width="0.22">25 °C</text>
<path d="M138.5,285.4 L138.5,299.4 L58,299.4" fill="none" stroke="#111" stroke-width="1.2" stroke-linejoin="round" stroke-linecap="butt"/>
<path d="M52.0,299.4 L60.8,296.7 L59.3,299.4 L60.8,302.1 Z" fill="#111"/>
<path d="M351.7,225.5 L351.7,234.3 L405,234.3" fill="none" stroke="#111" stroke-width="1.25" stroke-linejoin="round" stroke-linecap="butt"/>
<path d="M412.4,234.3 L403.2,231.4 L404.8,234.3 L403.2,237.2 Z" fill="#111"/>
<path d="M498.2,233 L498.32,233.86 L498.43,234.72 L498.54,235.58 L498.64,236.44 L498.73,237.3 L498.81,238.17 L498.88,239.03 L498.94,239.9 L499,240.76 L499.06,241.63 L499.12,242.5 L499.17,243.36 L499.22,244.23 L499.27,245.1 L499.33,245.97 L499.38,246.83 L499.44,247.7 L499.5,248.56 L499.57,249.43 L499.64,250.29 L499.72,251.15 L499.8,252.01 L499.9,252.87 L500,253.73 L500.11,254.59 L500.24,255.45 L500.37,256.31 L500.5,257.17 L500.65,258.03 L500.8,258.88 L500.96,259.74 L501.13,260.59 L501.3,261.45 L501.47,262.3 L501.65,263.15 L501.84,264 L502.03,264.84 L502.22,265.69 L502.41,266.53 L502.61,267.36 L502.82,268.2 L503.04,269.04 L503.27,269.87 L503.51,270.7 L503.76,271.54 L504.02,272.37 L504.28,273.2 L504.55,274.02 L504.83,274.85 L505.12,275.67 L505.41,276.49 L505.71,277.31 L506.01,278.13 L506.32,278.95 L506.63,279.76 L506.94,280.57 L507.26,281.38 L507.57,282.18 L507.89,282.99 L508.21,283.79 L508.54,284.58 L508.87,285.38 L509.21,286.18 L509.55,286.98 L509.9,287.77 L510.25,288.57 L510.61,289.36 L510.97,290.15 L511.34,290.94 L511.72,291.73 L512.09,292.51 L512.48,293.3 L512.86,294.08 L513.26,294.86 L513.65,295.63 L514.05,296.41 L514.46,297.18 L514.87,297.95 L515.28,298.71 L515.7,299.48 L516.12,300.23 L516.54,300.99 L516.97,301.74 L517.4,302.49 L517.83,303.24 L518.27,303.98 L518.71,304.72 L519.16,305.46 L519.61,306.2 L520.07,306.93 L520.53,307.67 L521.01,308.4 L521.48,309.14 L521.97,309.87 L522.46,310.59 L522.95,311.32 L523.45,312.03 L523.96,312.75 L524.48,313.45 L525,314.16 L525.52,314.85 L526.05,315.54 L526.59,316.22 L527.13,316.89 L527.68,317.56 L528.23,318.21 L528.79,318.86 L529.36,319.49 L529.93,320.12 L530.52,320.76 L531.11,321.39 L531.7,322.01 L532.31,322.64 L532.92,323.26 L533.54,323.88 L534.17,324.49 L534.8,325.1 L535.44,325.7 L536.09,326.3 L536.74,326.89 L537.4,327.48 L538.06,328.06 L538.73,328.63 L539.41,329.2 L540.08,329.75 L540.77,330.3 L541.45,330.84 L542.15,331.36 L542.84,331.88 L543.54,332.39 L544.24,332.89 L544.95,333.37 L545.66,333.85 L546.37,334.31 L547.09,334.76 L547.81,335.21 L548.55,335.66 L549.3,336.1 L550.05,336.53 L550.81,336.96 L551.58,337.38 L552.35,337.8 L553.13,338.2 L553.92,338.6 L554.71,338.98 L555.5,339.36 L556.3,339.73 L557.1,340.08 L557.9,340.43 L558.7,340.76 L559.51,341.07 L560.31,341.38 L561.12,341.67 L561.93,341.95 L562.74,342.22 L563.56,342.48 L564.39,342.73 L565.22,342.97 L566.05,343.21 L566.89,343.44 L567.73,343.66 L568.57,343.88 L569.42,344.09 L570.26,344.3 L571.11,344.5 L571.96,344.71 L572.81,344.91 L573.66,345.11 L574.51,345.31 L575.35,345.51 L576.2,345.71 L577.04,345.91 L577.89,346.11 L578.73,346.31 L579.57,346.52 L580.42,346.72 L581.26,346.91 L582.11,347.11 L582.95,347.31 L583.8,347.5 L584.65,347.69 L585.49,347.88 L586.34,348.06 L587.19,348.24 L588.04,348.42 L588.89,348.6 L589.74,348.77 L590.59,348.93 L591.44,349.1 L592.29,349.25 L593.15,349.41 L594,349.56 L594.86,349.7 L595.71,349.84 L596.57,349.98 L597.42,350.12 L598.28,350.25 L599.14,350.38 L600,350.5" fill="none" stroke="#f7bf9c" stroke-width="1.3" stroke-linejoin="round" stroke-dasharray="3.6 1.8" stroke-linecap="butt"/>
<path d="M560.8,214.6 L560.89,215.51 L560.99,216.42 L561.1,217.33 L561.21,218.24 L561.33,219.14 L561.46,220.05 L561.59,220.95 L561.72,221.85 L561.86,222.75 L562.01,223.65 L562.16,224.55 L562.31,225.45 L562.47,226.35 L562.63,227.24 L562.8,228.13 L562.98,229.03 L563.16,229.92 L563.36,230.81 L563.56,231.7 L563.77,232.59 L563.98,233.48 L564.21,234.36 L564.44,235.25 L564.67,236.13 L564.91,237.01 L565.15,237.9 L565.4,238.77 L565.65,239.65 L565.9,240.53 L566.16,241.4 L566.42,242.27 L566.68,243.15 L566.94,244.02 L567.22,244.9 L567.49,245.77 L567.77,246.64 L568.06,247.52 L568.35,248.39 L568.65,249.25 L568.95,250.12 L569.26,250.98 L569.57,251.84 L569.9,252.69 L570.22,253.54 L570.56,254.39 L570.9,255.23 L571.25,256.06 L571.61,256.89 L571.98,257.72 L572.35,258.54 L572.75,259.36 L573.15,260.17 L573.56,260.99 L573.98,261.8 L574.42,262.6 L574.86,263.41 L575.31,264.21 L575.77,265 L576.24,265.79 L576.71,266.58 L577.19,267.36 L577.68,268.14 L578.17,268.92 L578.66,269.69 L579.16,270.46 L579.66,271.22 L580.17,271.97 L580.68,272.72 L581.19,273.47 L581.71,274.22 L582.24,274.96 L582.77,275.71 L583.31,276.45 L583.86,277.19 L584.42,277.92 L584.99,278.65 L585.56,279.36 L586.15,280.08 L586.74,280.78 L587.33,281.47 L587.94,282.15 L588.56,282.82 L589.18,283.47 L589.81,284.11 L590.45,284.74 L591.12,285.35 L591.79,285.94 L592.49,286.53 L593.2,287.1 L593.91,287.67 L594.64,288.23 L595.37,288.78 L596.11,289.33 L596.85,289.87 L597.6,290.42 L598.34,290.96 L599.07,291.5 L599.81,292.05 L600.53,292.6 L601.26,293.16 L601.98,293.71 L602.71,294.27 L603.43,294.83 L604.16,295.38 L604.88,295.94 L605.61,296.49 L606.34,297.05 L607.07,297.6 L607.8,298.15 L608.54,298.69 L609.27,299.23 L610.01,299.77 L610.75,300.3 L611.5,300.83 L612.25,301.35 L613,301.86 L613.75,302.37 L614.51,302.87 L615.27,303.36 L616.04,303.85 L616.81,304.33 L617.58,304.81 L618.36,305.28 L619.14,305.76 L619.93,306.22 L620.72,306.69 L621.51,307.15 L622.3,307.6 L623.1,308.05 L623.9,308.5 L624.7,308.94 L625.51,309.37 L626.32,309.8 L627.13,310.22 L627.94,310.64 L628.76,311.04 L629.58,311.45 L630.4,311.84 L631.22,312.22 L632.04,312.6 L632.87,312.98 L633.7,313.35 L634.54,313.71 L635.37,314.08 L636.22,314.44 L637.06,314.79 L637.91,315.14 L638.75,315.48 L639.61,315.82 L640.46,316.15 L641.31,316.48 L642.17,316.8 L643.03,317.11 L643.89,317.41 L644.76,317.71 L645.62,318 L646.49,318.28 L647.35,318.55 L648.22,318.82 L649.09,319.08 L649.96,319.34 L650.84,319.59 L651.72,319.84 L652.6,320.08 L653.48,320.32 L654.36,320.56 L655.25,320.78 L656.14,321.01 L657.03,321.23 L657.92,321.44 L658.81,321.65 L659.7,321.85 L660.59,322.04 L661.48,322.23 L662.37,322.42 L663.27,322.59 L664.16,322.77 L665.05,322.94 L665.95,323.11 L666.84,323.27 L667.74,323.44 L668.63,323.6 L669.53,323.76 L670.43,323.91 L671.33,324.06 L672.23,324.21 L673.13,324.36 L674.03,324.5 L674.93,324.64 L675.83,324.78 L676.74,324.91 L677.64,325.04 L678.55,325.16 L679.46,325.28 L680.36,325.39 L681.27,325.5 L682.18,325.61 L683.09,325.71 L684,325.8" fill="none" stroke="#f7bf9c" stroke-width="1.3" stroke-linejoin="round" stroke-dasharray="3.6 1.8" stroke-linecap="butt"/>
<path d="M619.7,214.6 L619.75,215.06 L619.8,215.52 L619.86,215.99 L619.93,216.44 L620,216.9 L620.07,217.36 L620.14,217.82 L620.22,218.27 L620.31,218.73 L620.39,219.18 L620.48,219.63 L620.58,220.08 L620.67,220.53 L620.77,220.98 L620.87,221.42 L620.98,221.87 L621.09,222.31 L621.2,222.76 L621.31,223.2 L621.42,223.64 L621.54,224.08 L621.66,224.52 L621.78,224.95 L621.9,225.39 L622.02,225.83 L622.15,226.26 L622.28,226.69 L622.41,227.12 L622.56,227.56 L622.7,227.99 L622.86,228.42 L623.02,228.85 L623.18,229.28 L623.35,229.71 L623.53,230.14 L623.71,230.56 L623.89,230.99 L624.08,231.41 L624.27,231.84 L624.47,232.26 L624.67,232.68 L624.87,233.09 L625.08,233.51 L625.28,233.92 L625.49,234.33 L625.71,234.74 L625.92,235.15 L626.14,235.55 L626.36,235.95 L626.58,236.35 L626.8,236.74 L627.02,237.14 L627.25,237.53 L627.48,237.92 L627.71,238.3 L627.95,238.69 L628.2,239.08 L628.45,239.46 L628.71,239.84 L628.97,240.23 L629.23,240.61 L629.5,240.98 L629.77,241.36 L630.04,241.73 L630.32,242.1 L630.6,242.47 L630.89,242.84 L631.18,243.2 L631.47,243.56 L631.76,243.92 L632.05,244.28 L632.35,244.63 L632.65,244.98 L632.95,245.32 L633.26,245.67 L633.56,246 L633.87,246.34 L634.18,246.67 L634.49,247 L634.8,247.32 L635.12,247.64 L635.44,247.96 L635.77,248.28 L636.11,248.59 L636.44,248.9 L636.78,249.21 L637.13,249.51 L637.47,249.82 L637.82,250.12 L638.18,250.41 L638.53,250.71 L638.89,251 L639.25,251.29 L639.61,251.58 L639.97,251.87 L640.34,252.15 L640.7,252.43 L641.07,252.71 L641.44,252.99 L641.81,253.27 L642.17,253.54 L642.54,253.81 L642.91,254.08 L643.28,254.35 L643.65,254.62 L644.02,254.89 L644.39,255.16 L644.77,255.43 L645.15,255.69 L645.52,255.96 L645.9,256.22 L646.29,256.48 L646.67,256.74 L647.06,257 L647.44,257.25 L647.83,257.5 L648.22,257.74 L648.61,257.98 L649.01,258.22 L649.4,258.45 L649.8,258.67 L650.2,258.89 L650.6,259.1 L651,259.31 L651.41,259.5 L651.82,259.7 L652.22,259.89 L652.64,260.08 L653.05,260.27 L653.46,260.46 L653.88,260.64 L654.3,260.82 L654.72,261.01 L655.14,261.18 L655.56,261.36 L655.99,261.54 L656.42,261.71 L656.84,261.88 L657.27,262.05 L657.7,262.21 L658.13,262.38 L658.57,262.54 L659,262.7 L659.44,262.86 L659.87,263.01 L660.31,263.17 L660.75,263.32 L661.18,263.47 L661.62,263.61 L662.06,263.76 L662.5,263.9 L662.94,264.04 L663.38,264.17 L663.82,264.31 L664.26,264.44 L664.7,264.57 L665.15,264.69 L665.59,264.82 L666.03,264.94 L666.47,265.06 L666.91,265.17 L667.35,265.29 L667.79,265.4 L668.23,265.51 L668.67,265.62 L669.12,265.73 L669.56,265.83 L670,265.94 L670.44,266.05 L670.89,266.15 L671.33,266.25 L671.78,266.36 L672.23,266.46 L672.67,266.56 L673.12,266.65 L673.57,266.75 L674.01,266.85 L674.46,266.94 L674.91,267.03 L675.36,267.12 L675.81,267.21 L676.26,267.3 L676.71,267.39 L677.16,267.47 L677.62,267.55 L678.07,267.63 L678.52,267.71 L678.98,267.79 L679.43,267.87 L679.88,267.94 L680.34,268.01 L680.8,268.08 L681.25,268.15 L681.71,268.21 L682.17,268.27 L682.62,268.33 L683.08,268.39 L683.54,268.45 L684,268.5" fill="none" stroke="#f7bf9c" stroke-width="1.3" stroke-linejoin="round" stroke-dasharray="3.6 1.8" stroke-linecap="butt"/>
<rect x="506.95" y="235.25" width="4.9" height="4.9" fill="#f7b500"/>
<rect x="530.15" y="227.35" width="4.9" height="4.9" fill="#8e7d72"/>
<rect x="565.25" y="256.95" width="4.9" height="4.9" fill="#15a1a1"/>
<rect x="576.95" y="260.85" width="4.9" height="4.9" fill="#d06a10"/>
<rect x="612.05" y="241.05" width="4.9" height="4.9" fill="#6262a6"/>
<rect x="647.25" y="250.85" width="4.9" height="4.9" fill="#f26464"/>
<rect x="632.95" y="266.25" width="4.9" height="4.9" fill="#6f9fd6"/>
<rect x="668.15" y="270.25" width="4.9" height="4.9" fill="#3b6ea6"/>
<rect x="553.65" y="283.55" width="4.9" height="4.9" fill="#a3a3a3"/>
<rect x="642.25" y="309.45" width="4.9" height="4.9" fill="#3fba6f"/>
<rect x="518.75" y="338.55" width="4.9" height="4.9" fill="#5b5bc2"/>
<path d="M602.9,298.6 L605.94,300.81 L604.78,304.39 L601.02,304.39 L599.86,300.81 Z" fill="#1e78dc"/>
<path d="M670.7,235.6 L671.64,238.31 L674.5,238.36 L672.22,240.09 L673.05,242.84 L670.7,241.2 L668.35,242.84 L669.18,240.09 L666.9,238.36 L669.76,238.31 Z" fill="#f01010"/>
<text x="525.2" y="225.9" font-size="8.2" text-anchor="start" fill="#000" font-weight="bold" stroke="#000" stroke-width="0.22">Ref 45</text>
<text x="501.8" y="248.1" font-size="8.2" text-anchor="start" fill="#000" font-weight="bold" stroke="#000" stroke-width="0.22">Ref 37</text>
<text x="545.8" y="254.4" font-size="8.2" text-anchor="start" fill="#000" font-weight="bold" stroke="#000" stroke-width="0.22">Ref 44</text>
<text x="577.4" y="274" font-size="8.2" text-anchor="start" fill="#000" font-weight="bold" stroke="#000" stroke-width="0.22">Ref 43</text>
<text x="591.7" y="239" font-size="8.2" text-anchor="start" fill="#000" font-weight="bold" stroke="#000" stroke-width="0.22">Ref 39</text>
<text x="622.7" y="257.1" font-size="8.2" text-anchor="start" fill="#000" font-weight="bold" stroke="#000" stroke-width="0.22">Ref 41</text>
<text x="615.9" y="280.7" font-size="8.2" text-anchor="start" fill="#000" font-weight="bold" stroke="#000" stroke-width="0.22">Ref 42</text>
<text x="658" y="284.7" font-size="8.2" text-anchor="start" fill="#000" font-weight="bold" stroke="#000" stroke-width="0.22">Ref 36</text>
<text x="532.9" y="297.2" font-size="8.2" text-anchor="start" fill="#000" font-weight="bold" stroke="#000" stroke-width="0.22">Ref 40</text>
<text x="633.5" y="325.3" font-size="8.2" text-anchor="start" fill="#000" font-weight="bold" stroke="#000" stroke-width="0.22">Ref 38</text>
<text x="522.7" y="337.4" font-size="8.2" text-anchor="start" fill="#000" font-weight="bold" stroke="#000" stroke-width="0.22">Ref 46</text>
<text x="578.9" y="304.9" font-size="8.1" text-anchor="start" fill="#1e78dc" font-weight="bold" stroke="#1e78dc" stroke-width="0.22">LMO</text>
<text x="570" y="313.3" font-size="6.9" text-anchor="start" fill="#1e78dc" font-weight="bold" stroke="#1e78dc" stroke-width="0.22">(This work)</text>
<text x="650" y="226.7" font-size="8" text-anchor="start" fill="#ee1c25" font-weight="bold" stroke="#ee1c25" stroke-width="0.22">LMO-TB</text>
<text x="647.9" y="235.2" font-size="6.9" text-anchor="start" fill="#ee1c25" font-weight="bold" stroke="#ee1c25" stroke-width="0.22">(This work)</text>
<line x1="497.7" y1="214.5" x2="684.3" y2="214.5" stroke="#444" stroke-width="1"/>
<line x1="684.3" y1="214.5" x2="684.3" y2="351.1" stroke="#444" stroke-width="1"/>
<line x1="497.7" y1="214.5" x2="497.7" y2="351.1" stroke="#777" stroke-width="1.1"/>
<line x1="497.2" y1="350.6" x2="684.8" y2="350.6" stroke="#666" stroke-width="1.1"/>
<line x1="494.7" y1="350.6" x2="497.7" y2="350.6" stroke="#444" stroke-width="0.9"/>
<text x="492.4" y="353.5" font-size="8.1" text-anchor="end" fill="#000" font-weight="bold" stroke="#000" stroke-width="0.22">40</text>
<line x1="496.2" y1="340.88" x2="497.7" y2="340.88" stroke="#444" stroke-width="0.9"/>
<line x1="494.7" y1="331.16" x2="497.7" y2="331.16" stroke="#444" stroke-width="0.9"/>
<text x="492.4" y="334.06" font-size="8.1" text-anchor="end" fill="#000" font-weight="bold" stroke="#000" stroke-width="0.22">50</text>
<line x1="496.2" y1="321.44" x2="497.7" y2="321.44" stroke="#444" stroke-width="0.9"/>
<line x1="494.7" y1="311.72" x2="497.7" y2="311.72" stroke="#444" stroke-width="0.9"/>
<text x="492.4" y="314.62" font-size="8.1" text-anchor="end" fill="#000" font-weight="bold" stroke="#000" stroke-width="0.22">60</text>
<line x1="496.2" y1="302" x2="497.7" y2="302" stroke="#444" stroke-width="0.9"/>
<line x1="494.7" y1="292.28" x2="497.7" y2="292.28" stroke="#444" stroke-width="0.9"/>
<text x="492.4" y="295.18" font-size="8.1" text-anchor="end" fill="#000" font-weight="bold" stroke="#000" stroke-width="0.22">70</text>
<line x1="496.2" y1="282.56" x2="497.7" y2="282.56" stroke="#444" stroke-width="0.9"/>
<line x1="494.7" y1="272.84" x2="497.7" y2="272.84" stroke="#444" stroke-width="0.9"/>
<text x="492.4" y="275.74" font-size="8.1" text-anchor="end" fill="#000" font-weight="bold" stroke="#000" stroke-width="0.22">80</text>
<line x1="496.2" y1="263.12" x2="497.7" y2="263.12" stroke="#444" stroke-width="0.9"/>
<line x1="494.7" y1="253.4" x2="497.7" y2="253.4" stroke="#444" stroke-width="0.9"/>
<text x="492.4" y="256.3" font-size="8.1" text-anchor="end" fill="#000" font-weight="bold" stroke="#000" stroke-width="0.22">90</text>
<line x1="496.2" y1="243.68" x2="497.7" y2="243.68" stroke="#444" stroke-width="0.9"/>
<line x1="494.7" y1="233.96" x2="497.7" y2="233.96" stroke="#444" stroke-width="0.9"/>
<text x="492.4" y="236.86" font-size="8.1" text-anchor="end" fill="#000" font-weight="bold" stroke="#000" stroke-width="0.22">100</text>
<line x1="496.2" y1="224.24" x2="497.7" y2="224.24" stroke="#444" stroke-width="0.9"/>
<line x1="494.7" y1="214.52" x2="497.7" y2="214.52" stroke="#444" stroke-width="0.9"/>
<text x="492.4" y="217.42" font-size="8.1" text-anchor="end" fill="#000" font-weight="bold" stroke="#000" stroke-width="0.22">110</text>
<line x1="497.7" y1="350.6" x2="497.7" y2="353.6" stroke="#444" stroke-width="0.9"/>
<text x="497.8" y="361.8" font-size="8.1" text-anchor="middle" fill="#000" font-weight="bold" stroke="#000" stroke-width="0.22">84</text>
<line x1="515.14" y1="350.6" x2="515.14" y2="352.1" stroke="#444" stroke-width="0.9"/>
<line x1="532.59" y1="350.6" x2="532.59" y2="353.6" stroke="#444" stroke-width="0.9"/>
<text x="532.69" y="361.8" font-size="8.1" text-anchor="middle" fill="#000" font-weight="bold" stroke="#000" stroke-width="0.22">87</text>
<line x1="550.03" y1="350.6" x2="550.03" y2="352.1" stroke="#444" stroke-width="0.9"/>
<line x1="567.48" y1="350.6" x2="567.48" y2="353.6" stroke="#444" stroke-width="0.9"/>
<text x="567.58" y="361.8" font-size="8.1" text-anchor="middle" fill="#000" font-weight="bold" stroke="#000" stroke-width="0.22">90</text>
<line x1="584.92" y1="350.6" x2="584.92" y2="352.1" stroke="#444" stroke-width="0.9"/>
<line x1="602.37" y1="350.6" x2="602.37" y2="353.6" stroke="#444" stroke-width="0.9"/>
<text x="602.47" y="361.8" font-size="8.1" text-anchor="middle" fill="#000" font-weight="bold" stroke="#000" stroke-width="0.22">93</text>
<line x1="619.82" y1="350.6" x2="619.82" y2="352.1" stroke="#444" stroke-width="0.9"/>
<line x1="637.26" y1="350.6" x2="637.26" y2="353.6" stroke="#444" stroke-width="0.9"/>
<text x="637.36" y="361.8" font-size="8.1" text-anchor="middle" fill="#000" font-weight="bold" stroke="#000" stroke-width="0.22">96</text>
<line x1="654.71" y1="350.6" x2="654.71" y2="352.1" stroke="#444" stroke-width="0.9"/>
<line x1="672.15" y1="350.6" x2="672.15" y2="353.6" stroke="#444" stroke-width="0.9"/>
<text x="672.25" y="361.8" font-size="8.1" text-anchor="middle" fill="#000" font-weight="bold" stroke="#000" stroke-width="0.22">99</text>
<text x="503.9" y="374.6" font-size="9.93" text-anchor="start" fill="#000" font-weight="bold" stroke="#000" stroke-width="0.22">Capacity retention per 100 cycles (%)</text>
<text transform="translate(476.5,282.4) rotate(-90)" x="0" y="0" font-size="10.35" text-anchor="middle" fill="#000" font-weight="bold" stroke="#000" stroke-width="0.22">Capacity at 5 C (mAh g<tspan font-size="6.6" dy="-4">-1</tspan><tspan dy="4">)</tspan></text>
<text x="469.6" y="204.6" font-size="13" text-anchor="start" fill="#000" font-weight="bold" stroke="#000" stroke-width="0.22">e</text>
</svg>
</body></html>
